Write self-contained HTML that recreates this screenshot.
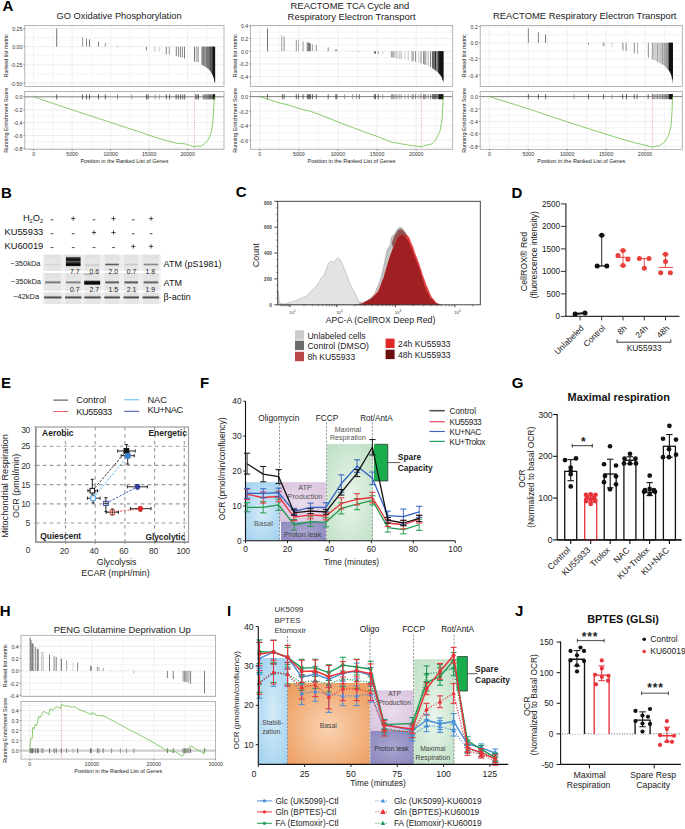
<!DOCTYPE html>
<html><head><meta charset="utf-8"><style>
html,body{margin:0;padding:0;background:#fff;}
svg{display:block;font-family:"Liberation Sans", sans-serif;}
</style></head><body>
<svg width="685" height="829" viewBox="0 0 685 829">
<rect width="685" height="829" fill="#fff"/>
<line x1="24.80" y1="37.60" x2="224.00" y2="37.60" stroke="#ebebeb" stroke-width="0.5"/>
<line x1="24.80" y1="55.80" x2="224.00" y2="55.80" stroke="#ebebeb" stroke-width="0.5"/>
<line x1="24.80" y1="74.00" x2="224.00" y2="74.00" stroke="#ebebeb" stroke-width="0.5"/>
<line x1="24.80" y1="28.50" x2="224.00" y2="28.50" stroke="#ebebeb" stroke-width="0.8"/>
<line x1="24.80" y1="46.70" x2="224.00" y2="46.70" stroke="#ebebeb" stroke-width="0.8"/>
<line x1="24.80" y1="64.90" x2="224.00" y2="64.90" stroke="#ebebeb" stroke-width="0.8"/>
<line x1="24.80" y1="83.10" x2="224.00" y2="83.10" stroke="#ebebeb" stroke-width="0.8"/>
<line x1="52.85" y1="25.40" x2="52.85" y2="86.40" stroke="#ebebeb" stroke-width="0.5"/>
<line x1="91.35" y1="25.40" x2="91.35" y2="86.40" stroke="#ebebeb" stroke-width="0.5"/>
<line x1="129.85" y1="25.40" x2="129.85" y2="86.40" stroke="#ebebeb" stroke-width="0.5"/>
<line x1="168.35" y1="25.40" x2="168.35" y2="86.40" stroke="#ebebeb" stroke-width="0.5"/>
<line x1="206.85" y1="25.40" x2="206.85" y2="86.40" stroke="#ebebeb" stroke-width="0.5"/>
<line x1="33.60" y1="25.40" x2="33.60" y2="86.40" stroke="#ebebeb" stroke-width="0.8"/>
<line x1="72.10" y1="25.40" x2="72.10" y2="86.40" stroke="#ebebeb" stroke-width="0.8"/>
<line x1="110.60" y1="25.40" x2="110.60" y2="86.40" stroke="#ebebeb" stroke-width="0.8"/>
<line x1="149.10" y1="25.40" x2="149.10" y2="86.40" stroke="#ebebeb" stroke-width="0.8"/>
<line x1="187.60" y1="25.40" x2="187.60" y2="86.40" stroke="#ebebeb" stroke-width="0.8"/>
<line x1="24.80" y1="103.25" x2="224.00" y2="103.25" stroke="#ebebeb" stroke-width="0.5"/>
<line x1="24.80" y1="116.15" x2="224.00" y2="116.15" stroke="#ebebeb" stroke-width="0.5"/>
<line x1="24.80" y1="129.05" x2="224.00" y2="129.05" stroke="#ebebeb" stroke-width="0.5"/>
<line x1="24.80" y1="141.95" x2="224.00" y2="141.95" stroke="#ebebeb" stroke-width="0.5"/>
<line x1="24.80" y1="96.80" x2="224.00" y2="96.80" stroke="#ebebeb" stroke-width="0.8"/>
<line x1="24.80" y1="109.70" x2="224.00" y2="109.70" stroke="#ebebeb" stroke-width="0.8"/>
<line x1="24.80" y1="122.60" x2="224.00" y2="122.60" stroke="#ebebeb" stroke-width="0.8"/>
<line x1="24.80" y1="135.50" x2="224.00" y2="135.50" stroke="#ebebeb" stroke-width="0.8"/>
<line x1="24.80" y1="148.40" x2="224.00" y2="148.40" stroke="#ebebeb" stroke-width="0.8"/>
<line x1="52.85" y1="91.40" x2="52.85" y2="149.30" stroke="#ebebeb" stroke-width="0.5"/>
<line x1="91.35" y1="91.40" x2="91.35" y2="149.30" stroke="#ebebeb" stroke-width="0.5"/>
<line x1="129.85" y1="91.40" x2="129.85" y2="149.30" stroke="#ebebeb" stroke-width="0.5"/>
<line x1="168.35" y1="91.40" x2="168.35" y2="149.30" stroke="#ebebeb" stroke-width="0.5"/>
<line x1="206.85" y1="91.40" x2="206.85" y2="149.30" stroke="#ebebeb" stroke-width="0.5"/>
<line x1="33.60" y1="91.40" x2="33.60" y2="149.30" stroke="#ebebeb" stroke-width="0.8"/>
<line x1="72.10" y1="91.40" x2="72.10" y2="149.30" stroke="#ebebeb" stroke-width="0.8"/>
<line x1="110.60" y1="91.40" x2="110.60" y2="149.30" stroke="#ebebeb" stroke-width="0.8"/>
<line x1="149.10" y1="91.40" x2="149.10" y2="149.30" stroke="#ebebeb" stroke-width="0.8"/>
<line x1="187.60" y1="91.40" x2="187.60" y2="149.30" stroke="#ebebeb" stroke-width="0.8"/>
<polygon points="202.80,46.70 202.80,65.26 203.00,65.48 206.00,67.01 208.00,68.54 210.00,70.51 210.00,46.70" fill="#9a9a9a"/>
<polygon points="210.00,46.70 210.00,70.51 212.00,74.00 213.00,75.99 213.00,46.70" fill="#5a5a5a"/>
<polygon points="213.00,46.70 213.00,75.99 213.50,76.98 214.30,80.19 214.90,83.10 214.90,46.70" fill="#111"/>
<line x1="56.70" y1="46.70" x2="56.70" y2="28.50" stroke="#444" stroke-width="0.75"/>
<line x1="82.60" y1="46.70" x2="82.60" y2="37.24" stroke="#777" stroke-width="0.75"/>
<line x1="86.50" y1="46.70" x2="86.50" y2="38.69" stroke="#666" stroke-width="0.75"/>
<line x1="89.50" y1="46.70" x2="89.50" y2="39.42" stroke="#444" stroke-width="0.75"/>
<line x1="98.50" y1="46.70" x2="98.50" y2="41.60" stroke="#555" stroke-width="0.75"/>
<line x1="105.30" y1="46.70" x2="105.30" y2="43.06" stroke="#777" stroke-width="0.75"/>
<line x1="117.50" y1="46.70" x2="117.50" y2="45.83" stroke="#555" stroke-width="0.75"/>
<line x1="131.80" y1="46.70" x2="131.80" y2="46.26" stroke="#aaa" stroke-width="0.75"/>
<line x1="146.40" y1="46.70" x2="146.40" y2="50.34" stroke="#555" stroke-width="0.75"/>
<line x1="154.80" y1="46.70" x2="154.80" y2="51.80" stroke="#aaa" stroke-width="0.75"/>
<line x1="159.10" y1="46.70" x2="159.10" y2="51.80" stroke="#bbb" stroke-width="0.75"/>
<line x1="166.30" y1="46.70" x2="166.30" y2="54.49" stroke="#555" stroke-width="0.75"/>
<line x1="169.40" y1="46.70" x2="169.40" y2="54.49" stroke="#777" stroke-width="0.75"/>
<line x1="176.30" y1="46.70" x2="176.30" y2="56.02" stroke="#555" stroke-width="0.75"/>
<line x1="178.40" y1="46.70" x2="178.40" y2="56.53" stroke="#666" stroke-width="0.75"/>
<line x1="180.40" y1="46.70" x2="180.40" y2="57.04" stroke="#555" stroke-width="0.75"/>
<line x1="182.40" y1="46.70" x2="182.40" y2="57.62" stroke="#666" stroke-width="0.75"/>
<line x1="184.50" y1="46.70" x2="184.50" y2="58.49" stroke="#555" stroke-width="0.75"/>
<line x1="194.50" y1="46.70" x2="194.50" y2="61.70" stroke="#444" stroke-width="0.75"/>
<line x1="196.30" y1="46.70" x2="196.30" y2="61.99" stroke="#999" stroke-width="0.75"/>
<line x1="197.30" y1="46.70" x2="197.30" y2="62.13" stroke="#999" stroke-width="0.75"/>
<line x1="198.50" y1="46.70" x2="198.50" y2="62.35" stroke="#999" stroke-width="0.75"/>
<line x1="202.10" y1="46.70" x2="202.10" y2="64.83" stroke="#222" stroke-width="0.75"/>
<line x1="203.20" y1="46.70" x2="203.20" y2="65.58" stroke="#777" stroke-width="0.75"/>
<line x1="204.20" y1="46.70" x2="204.20" y2="66.10" stroke="#777" stroke-width="0.75"/>
<line x1="205.08" y1="46.70" x2="205.08" y2="66.54" stroke="#999" stroke-width="0.75"/>
<line x1="206.01" y1="46.70" x2="206.01" y2="67.02" stroke="#999" stroke-width="0.75"/>
<line x1="206.72" y1="46.70" x2="206.72" y2="67.56" stroke="#666" stroke-width="0.75"/>
<line x1="207.90" y1="46.70" x2="207.90" y2="68.46" stroke="#555" stroke-width="0.75"/>
<line x1="208.71" y1="46.70" x2="208.71" y2="69.24" stroke="#777" stroke-width="0.75"/>
<line x1="209.49" y1="46.70" x2="209.49" y2="70.00" stroke="#555" stroke-width="0.75"/>
<line x1="210.46" y1="46.70" x2="210.46" y2="71.31" stroke="#555" stroke-width="0.75"/>
<line x1="211.40" y1="46.70" x2="211.40" y2="72.95" stroke="#555" stroke-width="0.75"/>
<line x1="212.55" y1="46.70" x2="212.55" y2="75.10" stroke="#333" stroke-width="0.75"/>
<line x1="213.58" y1="46.70" x2="213.58" y2="77.30" stroke="#111" stroke-width="0.75"/>
<line x1="214.74" y1="46.70" x2="214.74" y2="82.32" stroke="#111" stroke-width="0.75"/>
<line x1="24.80" y1="96.80" x2="224.00" y2="96.80" stroke="#555" stroke-width="0.7"/>
<line x1="56.70" y1="94.30" x2="56.70" y2="99.40" stroke="#242424" stroke-width="0.7"/>
<line x1="82.60" y1="94.30" x2="82.60" y2="99.40" stroke="#242424" stroke-width="0.7"/>
<line x1="86.50" y1="94.30" x2="86.50" y2="99.40" stroke="#242424" stroke-width="0.7"/>
<line x1="89.50" y1="94.30" x2="89.50" y2="99.40" stroke="#242424" stroke-width="0.7"/>
<line x1="98.50" y1="94.30" x2="98.50" y2="99.40" stroke="#242424" stroke-width="0.7"/>
<line x1="105.30" y1="94.30" x2="105.30" y2="99.40" stroke="#242424" stroke-width="0.7"/>
<line x1="146.60" y1="94.30" x2="146.60" y2="99.40" stroke="#242424" stroke-width="0.7"/>
<line x1="148.10" y1="94.30" x2="148.10" y2="99.40" stroke="#242424" stroke-width="0.7"/>
<line x1="166.30" y1="94.30" x2="166.30" y2="99.40" stroke="#242424" stroke-width="0.7"/>
<line x1="169.60" y1="94.30" x2="169.60" y2="99.40" stroke="#242424" stroke-width="0.7"/>
<line x1="176.10" y1="94.30" x2="176.10" y2="99.40" stroke="#242424" stroke-width="0.7"/>
<line x1="178.20" y1="94.30" x2="178.20" y2="99.40" stroke="#242424" stroke-width="0.7"/>
<line x1="180.50" y1="94.30" x2="180.50" y2="99.40" stroke="#242424" stroke-width="0.7"/>
<line x1="182.80" y1="94.30" x2="182.80" y2="99.40" stroke="#242424" stroke-width="0.7"/>
<line x1="184.70" y1="94.30" x2="184.70" y2="99.40" stroke="#242424" stroke-width="0.7"/>
<line x1="195.80" y1="94.30" x2="195.80" y2="99.40" stroke="#242424" stroke-width="0.7"/>
<line x1="197.00" y1="94.30" x2="197.00" y2="99.40" stroke="#242424" stroke-width="0.7"/>
<line x1="198.50" y1="94.30" x2="198.50" y2="99.40" stroke="#242424" stroke-width="0.7"/>
<line x1="117.50" y1="94.30" x2="117.50" y2="99.40" stroke="#616161" stroke-width="0.7"/>
<line x1="131.80" y1="94.30" x2="131.80" y2="99.40" stroke="#868686" stroke-width="0.7"/>
<line x1="155.10" y1="94.30" x2="155.10" y2="99.40" stroke="#7a7a7a" stroke-width="0.7"/>
<line x1="159.40" y1="94.30" x2="159.40" y2="99.40" stroke="#868686" stroke-width="0.7"/>
<line x1="203.20" y1="94.30" x2="203.20" y2="99.40" stroke="#555555" stroke-width="0.7"/>
<line x1="204.20" y1="94.30" x2="204.20" y2="99.40" stroke="#555555" stroke-width="0.7"/>
<line x1="205.08" y1="94.30" x2="205.08" y2="99.40" stroke="#6e6e6e" stroke-width="0.7"/>
<line x1="206.01" y1="94.30" x2="206.01" y2="99.40" stroke="#6e6e6e" stroke-width="0.7"/>
<line x1="206.72" y1="94.30" x2="206.72" y2="99.40" stroke="#494949" stroke-width="0.7"/>
<line x1="207.90" y1="94.30" x2="207.90" y2="99.40" stroke="#3d3d3d" stroke-width="0.7"/>
<line x1="208.71" y1="94.30" x2="208.71" y2="99.40" stroke="#555555" stroke-width="0.7"/>
<line x1="209.49" y1="94.30" x2="209.49" y2="99.40" stroke="#3d3d3d" stroke-width="0.7"/>
<line x1="210.46" y1="94.30" x2="210.46" y2="99.40" stroke="#3d3d3d" stroke-width="0.7"/>
<line x1="211.40" y1="94.30" x2="211.40" y2="99.40" stroke="#3d3d3d" stroke-width="0.7"/>
<line x1="212.55" y1="94.30" x2="212.55" y2="99.40" stroke="#242424" stroke-width="0.7"/>
<line x1="213.58" y1="94.30" x2="213.58" y2="99.40" stroke="#0c0c0c" stroke-width="0.7"/>
<line x1="214.74" y1="94.30" x2="214.74" y2="99.40" stroke="#0c0c0c" stroke-width="0.7"/>
<rect x="213.00" y="94.30" width="1.90" height="5.10" fill="#111" stroke="none" stroke-width="1"/>
<line x1="194.50" y1="91.40" x2="194.50" y2="149.30" stroke="#e8827a" stroke-width="0.6" stroke-dasharray="1.2,1"/>
<polyline points="33.60,96.80 56.40,104.54 72.50,110.02 91.50,116.15 115.00,123.89 140.00,132.02 153.10,136.60 166.30,140.60 176.80,143.24 184.70,143.82 194.10,146.72 197.80,145.82 200.70,146.53 204.40,143.82 208.30,139.89 211.60,131.37 212.90,120.79 213.80,107.70 214.50,96.80" fill="none" stroke="#6bbf4a" stroke-width="0.8" stroke-linejoin="round"/>
<rect x="24.80" y="25.40" width="199.20" height="61.00" fill="none" stroke="#a3a3a3" stroke-width="0.8"/>
<rect x="24.80" y="91.40" width="199.20" height="57.90" fill="none" stroke="#a3a3a3" stroke-width="0.8"/>
<line x1="23.30" y1="28.50" x2="24.80" y2="28.50" stroke="#444" stroke-width="0.5"/>
<text x="22.40" y="31.07" font-size="5.2" text-anchor="end" fill="#333">0.25</text>
<line x1="23.30" y1="46.70" x2="24.80" y2="46.70" stroke="#444" stroke-width="0.5"/>
<text x="22.40" y="49.27" font-size="5.2" text-anchor="end" fill="#333">0.00</text>
<line x1="23.30" y1="64.90" x2="24.80" y2="64.90" stroke="#444" stroke-width="0.5"/>
<text x="22.40" y="67.47" font-size="5.2" text-anchor="end" fill="#333">-0.25</text>
<line x1="23.30" y1="83.10" x2="24.80" y2="83.10" stroke="#444" stroke-width="0.5"/>
<text x="22.40" y="85.67" font-size="5.2" text-anchor="end" fill="#333">-0.50</text>
<line x1="23.30" y1="96.80" x2="24.80" y2="96.80" stroke="#444" stroke-width="0.5"/>
<text x="22.40" y="99.37" font-size="5.2" text-anchor="end" fill="#333">0.0</text>
<line x1="23.30" y1="109.70" x2="24.80" y2="109.70" stroke="#444" stroke-width="0.5"/>
<text x="22.40" y="112.27" font-size="5.2" text-anchor="end" fill="#333">-0.2</text>
<line x1="23.30" y1="122.60" x2="24.80" y2="122.60" stroke="#444" stroke-width="0.5"/>
<text x="22.40" y="125.17" font-size="5.2" text-anchor="end" fill="#333">-0.4</text>
<line x1="23.30" y1="135.50" x2="24.80" y2="135.50" stroke="#444" stroke-width="0.5"/>
<text x="22.40" y="138.07" font-size="5.2" text-anchor="end" fill="#333">-0.6</text>
<line x1="23.30" y1="148.40" x2="24.80" y2="148.40" stroke="#444" stroke-width="0.5"/>
<text x="22.40" y="150.97" font-size="5.2" text-anchor="end" fill="#333">-0.8</text>
<line x1="33.60" y1="149.30" x2="33.60" y2="150.80" stroke="#444" stroke-width="0.5"/>
<text x="33.60" y="156.00" font-size="5.2" text-anchor="middle" fill="#333">0</text>
<line x1="72.10" y1="149.30" x2="72.10" y2="150.80" stroke="#444" stroke-width="0.5"/>
<text x="72.10" y="156.00" font-size="5.2" text-anchor="middle" fill="#333">5000</text>
<line x1="110.60" y1="149.30" x2="110.60" y2="150.80" stroke="#444" stroke-width="0.5"/>
<text x="110.60" y="156.00" font-size="5.2" text-anchor="middle" fill="#333">10000</text>
<line x1="149.10" y1="149.30" x2="149.10" y2="150.80" stroke="#444" stroke-width="0.5"/>
<text x="149.10" y="156.00" font-size="5.2" text-anchor="middle" fill="#333">15000</text>
<line x1="187.60" y1="149.30" x2="187.60" y2="150.80" stroke="#444" stroke-width="0.5"/>
<text x="187.60" y="156.00" font-size="5.2" text-anchor="middle" fill="#333">20000</text>
<text x="124.40" y="162.80" font-size="5.45" text-anchor="middle" fill="#222">Position in the Ranked List of Genes</text>
<text x="8.20" y="55.90" font-size="5.45" text-anchor="middle" fill="#222" transform="rotate(-90 8.20 55.90)">Ranked list metric</text>
<text x="8.20" y="120.35" font-size="5.45" text-anchor="middle" fill="#222" transform="rotate(-90 8.20 120.35)">Running Enrichment Score</text>
<text x="119.05" y="19.25" font-size="9.3" text-anchor="middle" fill="#222">GO Oxidative Phosphorylation</text>
<line x1="250.50" y1="32.15" x2="452.70" y2="32.15" stroke="#ebebeb" stroke-width="0.5"/>
<line x1="250.50" y1="44.85" x2="452.70" y2="44.85" stroke="#ebebeb" stroke-width="0.5"/>
<line x1="250.50" y1="57.55" x2="452.70" y2="57.55" stroke="#ebebeb" stroke-width="0.5"/>
<line x1="250.50" y1="70.25" x2="452.70" y2="70.25" stroke="#ebebeb" stroke-width="0.5"/>
<line x1="250.50" y1="82.95" x2="452.70" y2="82.95" stroke="#ebebeb" stroke-width="0.5"/>
<line x1="250.50" y1="25.80" x2="452.70" y2="25.80" stroke="#ebebeb" stroke-width="0.8"/>
<line x1="250.50" y1="38.50" x2="452.70" y2="38.50" stroke="#ebebeb" stroke-width="0.8"/>
<line x1="250.50" y1="51.20" x2="452.70" y2="51.20" stroke="#ebebeb" stroke-width="0.8"/>
<line x1="250.50" y1="63.90" x2="452.70" y2="63.90" stroke="#ebebeb" stroke-width="0.8"/>
<line x1="250.50" y1="76.60" x2="452.70" y2="76.60" stroke="#ebebeb" stroke-width="0.8"/>
<line x1="279.26" y1="25.40" x2="279.26" y2="86.40" stroke="#ebebeb" stroke-width="0.5"/>
<line x1="318.39" y1="25.40" x2="318.39" y2="86.40" stroke="#ebebeb" stroke-width="0.5"/>
<line x1="357.51" y1="25.40" x2="357.51" y2="86.40" stroke="#ebebeb" stroke-width="0.5"/>
<line x1="396.64" y1="25.40" x2="396.64" y2="86.40" stroke="#ebebeb" stroke-width="0.5"/>
<line x1="435.76" y1="25.40" x2="435.76" y2="86.40" stroke="#ebebeb" stroke-width="0.5"/>
<line x1="259.70" y1="25.40" x2="259.70" y2="86.40" stroke="#ebebeb" stroke-width="0.8"/>
<line x1="298.82" y1="25.40" x2="298.82" y2="86.40" stroke="#ebebeb" stroke-width="0.8"/>
<line x1="337.95" y1="25.40" x2="337.95" y2="86.40" stroke="#ebebeb" stroke-width="0.8"/>
<line x1="377.07" y1="25.40" x2="377.07" y2="86.40" stroke="#ebebeb" stroke-width="0.8"/>
<line x1="416.20" y1="25.40" x2="416.20" y2="86.40" stroke="#ebebeb" stroke-width="0.8"/>
<line x1="250.50" y1="103.86" x2="452.70" y2="103.86" stroke="#ebebeb" stroke-width="0.5"/>
<line x1="250.50" y1="118.38" x2="452.70" y2="118.38" stroke="#ebebeb" stroke-width="0.5"/>
<line x1="250.50" y1="132.90" x2="452.70" y2="132.90" stroke="#ebebeb" stroke-width="0.5"/>
<line x1="250.50" y1="147.42" x2="452.70" y2="147.42" stroke="#ebebeb" stroke-width="0.5"/>
<line x1="250.50" y1="96.60" x2="452.70" y2="96.60" stroke="#ebebeb" stroke-width="0.8"/>
<line x1="250.50" y1="111.12" x2="452.70" y2="111.12" stroke="#ebebeb" stroke-width="0.8"/>
<line x1="250.50" y1="125.64" x2="452.70" y2="125.64" stroke="#ebebeb" stroke-width="0.8"/>
<line x1="250.50" y1="140.16" x2="452.70" y2="140.16" stroke="#ebebeb" stroke-width="0.8"/>
<line x1="279.26" y1="91.40" x2="279.26" y2="149.30" stroke="#ebebeb" stroke-width="0.5"/>
<line x1="318.39" y1="91.40" x2="318.39" y2="149.30" stroke="#ebebeb" stroke-width="0.5"/>
<line x1="357.51" y1="91.40" x2="357.51" y2="149.30" stroke="#ebebeb" stroke-width="0.5"/>
<line x1="396.64" y1="91.40" x2="396.64" y2="149.30" stroke="#ebebeb" stroke-width="0.5"/>
<line x1="435.76" y1="91.40" x2="435.76" y2="149.30" stroke="#ebebeb" stroke-width="0.5"/>
<line x1="259.70" y1="91.40" x2="259.70" y2="149.30" stroke="#ebebeb" stroke-width="0.8"/>
<line x1="298.82" y1="91.40" x2="298.82" y2="149.30" stroke="#ebebeb" stroke-width="0.8"/>
<line x1="337.95" y1="91.40" x2="337.95" y2="149.30" stroke="#ebebeb" stroke-width="0.8"/>
<line x1="377.07" y1="91.40" x2="377.07" y2="149.30" stroke="#ebebeb" stroke-width="0.8"/>
<line x1="416.20" y1="91.40" x2="416.20" y2="149.30" stroke="#ebebeb" stroke-width="0.8"/>
<polygon points="438.60,51.20 438.60,72.97 439.10,73.42 441.00,75.65 441.90,77.23 442.80,79.78 443.40,82.95 443.40,51.20" fill="#151515"/>
<line x1="267.50" y1="51.20" x2="267.50" y2="28.34" stroke="#444" stroke-width="0.75"/>
<line x1="281.70" y1="51.20" x2="281.70" y2="35.33" stroke="#888" stroke-width="0.75"/>
<line x1="284.10" y1="51.20" x2="284.10" y2="36.59" stroke="#666" stroke-width="0.75"/>
<line x1="296.30" y1="51.20" x2="296.30" y2="39.77" stroke="#777" stroke-width="0.75"/>
<line x1="298.40" y1="51.20" x2="298.40" y2="39.77" stroke="#999" stroke-width="0.75"/>
<line x1="303.10" y1="51.20" x2="303.10" y2="41.36" stroke="#777" stroke-width="0.75"/>
<line x1="307.30" y1="51.20" x2="307.30" y2="42.31" stroke="#444" stroke-width="0.75"/>
<line x1="308.50" y1="51.20" x2="308.50" y2="42.63" stroke="#555" stroke-width="0.75"/>
<line x1="309.60" y1="51.20" x2="309.60" y2="42.95" stroke="#333" stroke-width="0.75"/>
<line x1="310.60" y1="51.20" x2="310.60" y2="43.58" stroke="#666" stroke-width="0.75"/>
<line x1="312.60" y1="51.20" x2="312.60" y2="44.22" stroke="#888" stroke-width="0.75"/>
<line x1="316.20" y1="51.20" x2="316.20" y2="44.85" stroke="#666" stroke-width="0.75"/>
<line x1="328.20" y1="51.20" x2="328.20" y2="47.39" stroke="#666" stroke-width="0.75"/>
<line x1="335.80" y1="51.20" x2="335.80" y2="49.30" stroke="#555" stroke-width="0.75"/>
<line x1="336.80" y1="51.20" x2="336.80" y2="49.61" stroke="#777" stroke-width="0.75"/>
<line x1="344.70" y1="51.20" x2="344.70" y2="50.88" stroke="#999" stroke-width="0.75"/>
<line x1="352.60" y1="51.20" x2="352.60" y2="50.88" stroke="#999" stroke-width="0.75"/>
<line x1="356.50" y1="51.20" x2="356.50" y2="50.95" stroke="#999" stroke-width="0.75"/>
<line x1="359.30" y1="51.20" x2="359.30" y2="51.84" stroke="#777" stroke-width="0.75"/>
<line x1="374.40" y1="51.20" x2="374.40" y2="53.74" stroke="#555" stroke-width="0.75"/>
<line x1="375.50" y1="51.20" x2="375.50" y2="53.74" stroke="#333" stroke-width="0.75"/>
<line x1="378.30" y1="51.20" x2="378.30" y2="54.06" stroke="#777" stroke-width="0.75"/>
<line x1="382.80" y1="51.20" x2="382.80" y2="54.38" stroke="#bbb" stroke-width="0.75"/>
<line x1="391.40" y1="51.20" x2="391.40" y2="57.33" stroke="#9a9a9a" stroke-width="1.0"/>
<line x1="392.60" y1="51.20" x2="392.60" y2="57.56" stroke="#aaa" stroke-width="1.0"/>
<line x1="393.80" y1="51.20" x2="393.80" y2="57.78" stroke="#999" stroke-width="1.0"/>
<line x1="395.00" y1="51.20" x2="395.00" y2="58.00" stroke="#aaa" stroke-width="0.8"/>
<line x1="396.90" y1="51.20" x2="396.90" y2="58.36" stroke="#999" stroke-width="0.8"/>
<line x1="399.20" y1="51.20" x2="399.20" y2="58.79" stroke="#aaa" stroke-width="0.8"/>
<line x1="401.10" y1="51.20" x2="401.10" y2="59.16" stroke="#999" stroke-width="0.8"/>
<line x1="404.90" y1="51.20" x2="404.90" y2="59.86" stroke="#ccc" stroke-width="0.9"/>
<line x1="408.20" y1="51.20" x2="408.20" y2="60.42" stroke="#aaa" stroke-width="0.8"/>
<line x1="412.10" y1="51.20" x2="412.10" y2="61.15" stroke="#888" stroke-width="0.9"/>
<line x1="413.30" y1="51.20" x2="413.30" y2="61.39" stroke="#999" stroke-width="0.9"/>
<line x1="415.60" y1="51.20" x2="415.60" y2="61.85" stroke="#777" stroke-width="0.9"/>
<line x1="418.70" y1="51.20" x2="418.70" y2="62.66" stroke="#ccc" stroke-width="0.9"/>
<line x1="421.00" y1="51.20" x2="421.00" y2="63.30" stroke="#777" stroke-width="0.9"/>
<line x1="423.50" y1="51.20" x2="423.50" y2="64.13" stroke="#888" stroke-width="0.9"/>
<line x1="424.60" y1="51.20" x2="424.60" y2="64.54" stroke="#999" stroke-width="0.9"/>
<line x1="425.80" y1="51.20" x2="425.80" y2="64.98" stroke="#888" stroke-width="0.9"/>
<line x1="428.20" y1="51.20" x2="428.20" y2="66.01" stroke="#aaa" stroke-width="0.9"/>
<line x1="430.60" y1="51.20" x2="430.60" y2="67.20" stroke="#666" stroke-width="0.9"/>
<line x1="432.50" y1="51.20" x2="432.50" y2="68.37" stroke="#555" stroke-width="0.9"/>
<line x1="433.60" y1="51.20" x2="433.60" y2="69.09" stroke="#444" stroke-width="0.9"/>
<line x1="434.40" y1="51.20" x2="434.40" y2="69.62" stroke="#555" stroke-width="0.8"/>
<line x1="435.40" y1="51.20" x2="435.40" y2="70.35" stroke="#111" stroke-width="1.0"/>
<line x1="436.70" y1="51.20" x2="436.70" y2="71.30" stroke="#666" stroke-width="0.9"/>
<line x1="437.70" y1="51.20" x2="437.70" y2="72.15" stroke="#555" stroke-width="0.9"/>
<line x1="438.80" y1="51.20" x2="438.80" y2="73.15" stroke="#111" stroke-width="1.0"/>
<line x1="439.90" y1="51.20" x2="439.90" y2="74.36" stroke="#222" stroke-width="1.0"/>
<line x1="441.00" y1="51.20" x2="441.00" y2="75.65" stroke="#111" stroke-width="1.0"/>
<line x1="442.00" y1="51.20" x2="442.00" y2="77.52" stroke="#111" stroke-width="1.0"/>
<line x1="442.90" y1="51.20" x2="442.90" y2="80.30" stroke="#111" stroke-width="1.0"/>
<line x1="250.50" y1="96.60" x2="452.70" y2="96.60" stroke="#555" stroke-width="0.7"/>
<line x1="267.50" y1="94.10" x2="267.50" y2="99.20" stroke="#303030" stroke-width="0.7"/>
<line x1="282.40" y1="94.10" x2="282.40" y2="99.20" stroke="#303030" stroke-width="0.7"/>
<line x1="284.10" y1="94.10" x2="284.10" y2="99.20" stroke="#303030" stroke-width="0.7"/>
<line x1="296.30" y1="94.10" x2="296.30" y2="99.20" stroke="#303030" stroke-width="0.7"/>
<line x1="298.40" y1="94.10" x2="298.40" y2="99.20" stroke="#303030" stroke-width="0.7"/>
<line x1="303.10" y1="94.10" x2="303.10" y2="99.20" stroke="#303030" stroke-width="0.7"/>
<line x1="307.30" y1="94.10" x2="307.30" y2="99.20" stroke="#303030" stroke-width="0.7"/>
<line x1="308.50" y1="94.10" x2="308.50" y2="99.20" stroke="#303030" stroke-width="0.7"/>
<line x1="309.60" y1="94.10" x2="309.60" y2="99.20" stroke="#303030" stroke-width="0.7"/>
<line x1="310.60" y1="94.10" x2="310.60" y2="99.20" stroke="#303030" stroke-width="0.7"/>
<line x1="312.60" y1="94.10" x2="312.60" y2="99.20" stroke="#303030" stroke-width="0.7"/>
<line x1="316.20" y1="94.10" x2="316.20" y2="99.20" stroke="#303030" stroke-width="0.7"/>
<line x1="328.20" y1="94.10" x2="328.20" y2="99.20" stroke="#303030" stroke-width="0.7"/>
<line x1="335.80" y1="94.10" x2="335.80" y2="99.20" stroke="#303030" stroke-width="0.7"/>
<line x1="336.80" y1="94.10" x2="336.80" y2="99.20" stroke="#303030" stroke-width="0.7"/>
<line x1="359.30" y1="94.10" x2="359.30" y2="99.20" stroke="#303030" stroke-width="0.7"/>
<line x1="374.40" y1="94.10" x2="374.40" y2="99.20" stroke="#303030" stroke-width="0.7"/>
<line x1="375.50" y1="94.10" x2="375.50" y2="99.20" stroke="#303030" stroke-width="0.7"/>
<line x1="378.30" y1="94.10" x2="378.30" y2="99.20" stroke="#303030" stroke-width="0.7"/>
<line x1="344.70" y1="94.10" x2="344.70" y2="99.20" stroke="#7a7a7a" stroke-width="0.7"/>
<line x1="352.60" y1="94.10" x2="352.60" y2="99.20" stroke="#7a7a7a" stroke-width="0.7"/>
<line x1="356.50" y1="94.10" x2="356.50" y2="99.20" stroke="#7a7a7a" stroke-width="0.7"/>
<line x1="382.70" y1="94.10" x2="382.70" y2="99.20" stroke="#868686" stroke-width="0.7"/>
<line x1="391.40" y1="94.10" x2="391.40" y2="99.20" stroke="#6e6e6e" stroke-width="0.7"/>
<line x1="392.60" y1="94.10" x2="392.60" y2="99.20" stroke="#7a7a7a" stroke-width="0.7"/>
<line x1="393.80" y1="94.10" x2="393.80" y2="99.20" stroke="#6e6e6e" stroke-width="0.7"/>
<line x1="395.00" y1="94.10" x2="395.00" y2="99.20" stroke="#7a7a7a" stroke-width="0.7"/>
<line x1="396.90" y1="94.10" x2="396.90" y2="99.20" stroke="#6e6e6e" stroke-width="0.7"/>
<line x1="399.20" y1="94.10" x2="399.20" y2="99.20" stroke="#7a7a7a" stroke-width="0.7"/>
<line x1="401.10" y1="94.10" x2="401.10" y2="99.20" stroke="#6e6e6e" stroke-width="0.7"/>
<line x1="404.90" y1="94.10" x2="404.90" y2="99.20" stroke="#929292" stroke-width="0.7"/>
<line x1="408.20" y1="94.10" x2="408.20" y2="99.20" stroke="#7a7a7a" stroke-width="0.7"/>
<line x1="412.10" y1="94.10" x2="412.10" y2="99.20" stroke="#616161" stroke-width="0.7"/>
<line x1="413.30" y1="94.10" x2="413.30" y2="99.20" stroke="#6e6e6e" stroke-width="0.7"/>
<line x1="415.60" y1="94.10" x2="415.60" y2="99.20" stroke="#555555" stroke-width="0.7"/>
<line x1="418.70" y1="94.10" x2="418.70" y2="99.20" stroke="#929292" stroke-width="0.7"/>
<line x1="421.00" y1="94.10" x2="421.00" y2="99.20" stroke="#555555" stroke-width="0.7"/>
<line x1="423.50" y1="94.10" x2="423.50" y2="99.20" stroke="#616161" stroke-width="0.7"/>
<line x1="424.60" y1="94.10" x2="424.60" y2="99.20" stroke="#6e6e6e" stroke-width="0.7"/>
<line x1="425.80" y1="94.10" x2="425.80" y2="99.20" stroke="#616161" stroke-width="0.7"/>
<line x1="428.20" y1="94.10" x2="428.20" y2="99.20" stroke="#7a7a7a" stroke-width="0.7"/>
<line x1="430.60" y1="94.10" x2="430.60" y2="99.20" stroke="#494949" stroke-width="0.7"/>
<line x1="432.50" y1="94.10" x2="432.50" y2="99.20" stroke="#3d3d3d" stroke-width="0.7"/>
<line x1="433.60" y1="94.10" x2="433.60" y2="99.20" stroke="#303030" stroke-width="0.7"/>
<line x1="434.40" y1="94.10" x2="434.40" y2="99.20" stroke="#3d3d3d" stroke-width="0.7"/>
<line x1="435.40" y1="94.10" x2="435.40" y2="99.20" stroke="#0c0c0c" stroke-width="0.7"/>
<line x1="436.70" y1="94.10" x2="436.70" y2="99.20" stroke="#494949" stroke-width="0.7"/>
<line x1="437.70" y1="94.10" x2="437.70" y2="99.20" stroke="#3d3d3d" stroke-width="0.7"/>
<line x1="438.80" y1="94.10" x2="438.80" y2="99.20" stroke="#0c0c0c" stroke-width="0.7"/>
<line x1="439.90" y1="94.10" x2="439.90" y2="99.20" stroke="#181818" stroke-width="0.7"/>
<line x1="441.00" y1="94.10" x2="441.00" y2="99.20" stroke="#0c0c0c" stroke-width="0.7"/>
<line x1="442.00" y1="94.10" x2="442.00" y2="99.20" stroke="#0c0c0c" stroke-width="0.7"/>
<line x1="442.90" y1="94.10" x2="442.90" y2="99.20" stroke="#0c0c0c" stroke-width="0.7"/>
<rect x="438.60" y="94.10" width="4.70" height="5.10" fill="#1a1a1a" stroke="none" stroke-width="1"/>
<line x1="421.40" y1="91.40" x2="421.40" y2="149.30" stroke="#e8827a" stroke-width="0.6" stroke-dasharray="1.2,1"/>
<polyline points="259.70,96.60 267.50,99.14 281.60,103.50 284.00,103.86 287.00,104.59 296.00,107.49 303.00,109.67 310.00,111.12 320.00,114.75 340.00,122.74 365.00,132.17 378.10,136.75 391.30,142.05 401.80,143.94 412.30,145.68 421.50,146.69 426.80,144.95 432.00,143.94 436.00,139.43 439.90,131.45 441.90,120.92 443.20,99.50 443.50,96.60" fill="none" stroke="#6bbf4a" stroke-width="0.8" stroke-linejoin="round"/>
<rect x="250.50" y="25.40" width="202.20" height="61.00" fill="none" stroke="#a3a3a3" stroke-width="0.8"/>
<rect x="250.50" y="91.40" width="202.20" height="57.90" fill="none" stroke="#a3a3a3" stroke-width="0.8"/>
<line x1="249.00" y1="25.80" x2="250.50" y2="25.80" stroke="#444" stroke-width="0.5"/>
<text x="248.10" y="28.37" font-size="5.2" text-anchor="end" fill="#333">0.4</text>
<line x1="249.00" y1="38.50" x2="250.50" y2="38.50" stroke="#444" stroke-width="0.5"/>
<text x="248.10" y="41.07" font-size="5.2" text-anchor="end" fill="#333">0.2</text>
<line x1="249.00" y1="51.20" x2="250.50" y2="51.20" stroke="#444" stroke-width="0.5"/>
<text x="248.10" y="53.77" font-size="5.2" text-anchor="end" fill="#333">0.0</text>
<line x1="249.00" y1="63.90" x2="250.50" y2="63.90" stroke="#444" stroke-width="0.5"/>
<text x="248.10" y="66.47" font-size="5.2" text-anchor="end" fill="#333">-0.2</text>
<line x1="249.00" y1="76.60" x2="250.50" y2="76.60" stroke="#444" stroke-width="0.5"/>
<text x="248.10" y="79.17" font-size="5.2" text-anchor="end" fill="#333">-0.4</text>
<line x1="249.00" y1="96.60" x2="250.50" y2="96.60" stroke="#444" stroke-width="0.5"/>
<text x="248.10" y="99.17" font-size="5.2" text-anchor="end" fill="#333">0.0</text>
<line x1="249.00" y1="111.12" x2="250.50" y2="111.12" stroke="#444" stroke-width="0.5"/>
<text x="248.10" y="113.69" font-size="5.2" text-anchor="end" fill="#333">-0.2</text>
<line x1="249.00" y1="125.64" x2="250.50" y2="125.64" stroke="#444" stroke-width="0.5"/>
<text x="248.10" y="128.21" font-size="5.2" text-anchor="end" fill="#333">-0.4</text>
<line x1="249.00" y1="140.16" x2="250.50" y2="140.16" stroke="#444" stroke-width="0.5"/>
<text x="248.10" y="142.73" font-size="5.2" text-anchor="end" fill="#333">-0.6</text>
<line x1="259.70" y1="149.30" x2="259.70" y2="150.80" stroke="#444" stroke-width="0.5"/>
<text x="259.70" y="156.00" font-size="5.2" text-anchor="middle" fill="#333">0</text>
<line x1="298.82" y1="149.30" x2="298.82" y2="150.80" stroke="#444" stroke-width="0.5"/>
<text x="298.82" y="156.00" font-size="5.2" text-anchor="middle" fill="#333">5000</text>
<line x1="337.95" y1="149.30" x2="337.95" y2="150.80" stroke="#444" stroke-width="0.5"/>
<text x="337.95" y="156.00" font-size="5.2" text-anchor="middle" fill="#333">10000</text>
<line x1="377.07" y1="149.30" x2="377.07" y2="150.80" stroke="#444" stroke-width="0.5"/>
<text x="377.07" y="156.00" font-size="5.2" text-anchor="middle" fill="#333">15000</text>
<line x1="416.20" y1="149.30" x2="416.20" y2="150.80" stroke="#444" stroke-width="0.5"/>
<text x="416.20" y="156.00" font-size="5.2" text-anchor="middle" fill="#333">20000</text>
<text x="351.60" y="162.80" font-size="5.45" text-anchor="middle" fill="#222">Position in the Ranked List of Genes</text>
<text x="237.10" y="55.90" font-size="5.45" text-anchor="middle" fill="#222" transform="rotate(-90 237.10 55.90)">Ranked list metric</text>
<text x="237.10" y="120.35" font-size="5.45" text-anchor="middle" fill="#222" transform="rotate(-90 237.10 120.35)">Running Enrichment Score</text>
<text x="349.90" y="8.70" font-size="9.45" text-anchor="middle" fill="#222">REACTOME TCA Cycle and</text>
<text x="351.60" y="19.80" font-size="9.45" text-anchor="middle" fill="#222">Respiratory Electron Transport</text>
<line x1="480.20" y1="34.75" x2="682.30" y2="34.75" stroke="#ebebeb" stroke-width="0.5"/>
<line x1="480.20" y1="50.85" x2="682.30" y2="50.85" stroke="#ebebeb" stroke-width="0.5"/>
<line x1="480.20" y1="66.95" x2="682.30" y2="66.95" stroke="#ebebeb" stroke-width="0.5"/>
<line x1="480.20" y1="83.05" x2="682.30" y2="83.05" stroke="#ebebeb" stroke-width="0.5"/>
<line x1="480.20" y1="26.70" x2="682.30" y2="26.70" stroke="#ebebeb" stroke-width="0.8"/>
<line x1="480.20" y1="42.80" x2="682.30" y2="42.80" stroke="#ebebeb" stroke-width="0.8"/>
<line x1="480.20" y1="58.90" x2="682.30" y2="58.90" stroke="#ebebeb" stroke-width="0.8"/>
<line x1="480.20" y1="75.00" x2="682.30" y2="75.00" stroke="#ebebeb" stroke-width="0.8"/>
<line x1="508.85" y1="25.40" x2="508.85" y2="86.40" stroke="#ebebeb" stroke-width="0.5"/>
<line x1="547.75" y1="25.40" x2="547.75" y2="86.40" stroke="#ebebeb" stroke-width="0.5"/>
<line x1="586.65" y1="25.40" x2="586.65" y2="86.40" stroke="#ebebeb" stroke-width="0.5"/>
<line x1="625.55" y1="25.40" x2="625.55" y2="86.40" stroke="#ebebeb" stroke-width="0.5"/>
<line x1="664.45" y1="25.40" x2="664.45" y2="86.40" stroke="#ebebeb" stroke-width="0.5"/>
<line x1="489.40" y1="25.40" x2="489.40" y2="86.40" stroke="#ebebeb" stroke-width="0.8"/>
<line x1="528.30" y1="25.40" x2="528.30" y2="86.40" stroke="#ebebeb" stroke-width="0.8"/>
<line x1="567.20" y1="25.40" x2="567.20" y2="86.40" stroke="#ebebeb" stroke-width="0.8"/>
<line x1="606.10" y1="25.40" x2="606.10" y2="86.40" stroke="#ebebeb" stroke-width="0.8"/>
<line x1="645.00" y1="25.40" x2="645.00" y2="86.40" stroke="#ebebeb" stroke-width="0.8"/>
<line x1="480.20" y1="102.82" x2="682.30" y2="102.82" stroke="#ebebeb" stroke-width="0.5"/>
<line x1="480.20" y1="115.26" x2="682.30" y2="115.26" stroke="#ebebeb" stroke-width="0.5"/>
<line x1="480.20" y1="127.70" x2="682.30" y2="127.70" stroke="#ebebeb" stroke-width="0.5"/>
<line x1="480.20" y1="140.14" x2="682.30" y2="140.14" stroke="#ebebeb" stroke-width="0.5"/>
<line x1="480.20" y1="96.60" x2="682.30" y2="96.60" stroke="#ebebeb" stroke-width="0.8"/>
<line x1="480.20" y1="109.04" x2="682.30" y2="109.04" stroke="#ebebeb" stroke-width="0.8"/>
<line x1="480.20" y1="121.48" x2="682.30" y2="121.48" stroke="#ebebeb" stroke-width="0.8"/>
<line x1="480.20" y1="133.92" x2="682.30" y2="133.92" stroke="#ebebeb" stroke-width="0.8"/>
<line x1="480.20" y1="146.36" x2="682.30" y2="146.36" stroke="#ebebeb" stroke-width="0.8"/>
<line x1="508.85" y1="91.40" x2="508.85" y2="149.30" stroke="#ebebeb" stroke-width="0.5"/>
<line x1="547.75" y1="91.40" x2="547.75" y2="149.30" stroke="#ebebeb" stroke-width="0.5"/>
<line x1="586.65" y1="91.40" x2="586.65" y2="149.30" stroke="#ebebeb" stroke-width="0.5"/>
<line x1="625.55" y1="91.40" x2="625.55" y2="149.30" stroke="#ebebeb" stroke-width="0.5"/>
<line x1="664.45" y1="91.40" x2="664.45" y2="149.30" stroke="#ebebeb" stroke-width="0.5"/>
<line x1="489.40" y1="91.40" x2="489.40" y2="149.30" stroke="#ebebeb" stroke-width="0.8"/>
<line x1="528.30" y1="91.40" x2="528.30" y2="149.30" stroke="#ebebeb" stroke-width="0.8"/>
<line x1="567.20" y1="91.40" x2="567.20" y2="149.30" stroke="#ebebeb" stroke-width="0.8"/>
<line x1="606.10" y1="91.40" x2="606.10" y2="149.30" stroke="#ebebeb" stroke-width="0.8"/>
<line x1="645.00" y1="91.40" x2="645.00" y2="149.30" stroke="#ebebeb" stroke-width="0.8"/>
<polygon points="669.00,42.80 669.00,70.56 669.20,70.73 670.50,72.99 671.50,75.48 672.20,78.46 672.60,81.44 672.90,83.85 672.90,42.80" fill="#141414"/>
<line x1="528.40" y1="42.80" x2="528.40" y2="28.47" stroke="#666" stroke-width="0.75"/>
<line x1="538.40" y1="42.80" x2="538.40" y2="32.33" stroke="#555" stroke-width="0.75"/>
<line x1="545.60" y1="42.80" x2="545.60" y2="34.43" stroke="#444" stroke-width="0.75"/>
<line x1="574.20" y1="42.80" x2="574.20" y2="42.40" stroke="#aaa" stroke-width="0.75"/>
<line x1="588.50" y1="42.80" x2="588.50" y2="44.41" stroke="#444" stroke-width="0.75"/>
<line x1="603.20" y1="42.80" x2="603.20" y2="46.02" stroke="#777" stroke-width="0.75"/>
<line x1="604.20" y1="42.80" x2="604.20" y2="46.02" stroke="#999" stroke-width="0.75"/>
<line x1="612.00" y1="42.80" x2="612.00" y2="46.82" stroke="#bbb" stroke-width="0.75"/>
<line x1="622.90" y1="42.80" x2="622.90" y2="50.37" stroke="#555" stroke-width="0.75"/>
<line x1="626.20" y1="42.80" x2="626.20" y2="50.85" stroke="#666" stroke-width="0.75"/>
<line x1="634.30" y1="42.80" x2="634.30" y2="53.27" stroke="#666" stroke-width="0.75"/>
<line x1="637.50" y1="42.80" x2="637.50" y2="54.07" stroke="#999" stroke-width="0.75"/>
<line x1="648.40" y1="42.80" x2="648.40" y2="57.05" stroke="#777" stroke-width="0.75"/>
<line x1="648.40" y1="42.80" x2="648.40" y2="57.93" stroke="#999" stroke-width="0.75"/>
<line x1="652.30" y1="42.80" x2="652.30" y2="59.39" stroke="#888" stroke-width="0.8"/>
<line x1="652.90" y1="42.80" x2="652.90" y2="59.62" stroke="#999" stroke-width="0.75"/>
<line x1="653.90" y1="42.80" x2="653.90" y2="60.01" stroke="#aaa" stroke-width="0.8"/>
<line x1="654.90" y1="42.80" x2="654.90" y2="60.40" stroke="#bbb" stroke-width="0.8"/>
<line x1="656.00" y1="42.80" x2="656.00" y2="60.83" stroke="#aaa" stroke-width="0.8"/>
<line x1="657.40" y1="42.80" x2="657.40" y2="61.80" stroke="#777" stroke-width="0.8"/>
<line x1="659.00" y1="42.80" x2="659.00" y2="62.59" stroke="#999" stroke-width="0.8"/>
<line x1="660.00" y1="42.80" x2="660.00" y2="63.09" stroke="#aaa" stroke-width="0.8"/>
<line x1="661.00" y1="42.80" x2="661.00" y2="63.72" stroke="#999" stroke-width="0.8"/>
<line x1="662.30" y1="42.80" x2="662.30" y2="64.53" stroke="#666" stroke-width="0.8"/>
<line x1="663.30" y1="42.80" x2="663.30" y2="65.07" stroke="#aaa" stroke-width="0.75"/>
<line x1="664.30" y1="42.80" x2="664.30" y2="65.61" stroke="#888" stroke-width="0.8"/>
<line x1="665.30" y1="42.80" x2="665.30" y2="66.37" stroke="#777" stroke-width="0.8"/>
<line x1="666.30" y1="42.80" x2="666.30" y2="67.67" stroke="#888" stroke-width="0.8"/>
<line x1="667.20" y1="42.80" x2="667.20" y2="68.84" stroke="#666" stroke-width="0.8"/>
<line x1="668.30" y1="42.80" x2="668.30" y2="69.96" stroke="#444" stroke-width="0.9"/>
<line x1="669.40" y1="42.80" x2="669.40" y2="71.08" stroke="#111" stroke-width="1.0"/>
<line x1="670.40" y1="42.80" x2="670.40" y2="72.81" stroke="#111" stroke-width="1.0"/>
<line x1="671.40" y1="42.80" x2="671.40" y2="75.23" stroke="#111" stroke-width="1.0"/>
<line x1="672.30" y1="42.80" x2="672.30" y2="79.21" stroke="#111" stroke-width="1.0"/>
<line x1="480.20" y1="96.60" x2="682.30" y2="96.60" stroke="#555" stroke-width="0.7"/>
<line x1="528.40" y1="94.10" x2="528.40" y2="99.20" stroke="#303030" stroke-width="0.7"/>
<line x1="538.40" y1="94.10" x2="538.40" y2="99.20" stroke="#303030" stroke-width="0.7"/>
<line x1="545.60" y1="94.10" x2="545.60" y2="99.20" stroke="#303030" stroke-width="0.7"/>
<line x1="588.50" y1="94.10" x2="588.50" y2="99.20" stroke="#303030" stroke-width="0.7"/>
<line x1="603.50" y1="94.10" x2="603.50" y2="99.20" stroke="#303030" stroke-width="0.7"/>
<line x1="622.60" y1="94.10" x2="622.60" y2="99.20" stroke="#303030" stroke-width="0.7"/>
<line x1="626.50" y1="94.10" x2="626.50" y2="99.20" stroke="#303030" stroke-width="0.7"/>
<line x1="634.20" y1="94.10" x2="634.20" y2="99.20" stroke="#303030" stroke-width="0.7"/>
<line x1="637.00" y1="94.10" x2="637.00" y2="99.20" stroke="#303030" stroke-width="0.7"/>
<line x1="648.20" y1="94.10" x2="648.20" y2="99.20" stroke="#303030" stroke-width="0.7"/>
<line x1="574.20" y1="94.10" x2="574.20" y2="99.20" stroke="#868686" stroke-width="0.7"/>
<line x1="612.10" y1="94.10" x2="612.10" y2="99.20" stroke="#868686" stroke-width="0.7"/>
<line x1="652.30" y1="94.10" x2="652.30" y2="99.20" stroke="#616161" stroke-width="0.7"/>
<line x1="652.90" y1="94.10" x2="652.90" y2="99.20" stroke="#6e6e6e" stroke-width="0.7"/>
<line x1="653.90" y1="94.10" x2="653.90" y2="99.20" stroke="#7a7a7a" stroke-width="0.7"/>
<line x1="654.90" y1="94.10" x2="654.90" y2="99.20" stroke="#868686" stroke-width="0.7"/>
<line x1="656.00" y1="94.10" x2="656.00" y2="99.20" stroke="#7a7a7a" stroke-width="0.7"/>
<line x1="657.40" y1="94.10" x2="657.40" y2="99.20" stroke="#555555" stroke-width="0.7"/>
<line x1="659.00" y1="94.10" x2="659.00" y2="99.20" stroke="#6e6e6e" stroke-width="0.7"/>
<line x1="660.00" y1="94.10" x2="660.00" y2="99.20" stroke="#7a7a7a" stroke-width="0.7"/>
<line x1="661.00" y1="94.10" x2="661.00" y2="99.20" stroke="#6e6e6e" stroke-width="0.7"/>
<line x1="662.30" y1="94.10" x2="662.30" y2="99.20" stroke="#494949" stroke-width="0.7"/>
<line x1="663.30" y1="94.10" x2="663.30" y2="99.20" stroke="#7a7a7a" stroke-width="0.7"/>
<line x1="664.30" y1="94.10" x2="664.30" y2="99.20" stroke="#616161" stroke-width="0.7"/>
<line x1="665.30" y1="94.10" x2="665.30" y2="99.20" stroke="#555555" stroke-width="0.7"/>
<line x1="666.30" y1="94.10" x2="666.30" y2="99.20" stroke="#616161" stroke-width="0.7"/>
<line x1="667.20" y1="94.10" x2="667.20" y2="99.20" stroke="#494949" stroke-width="0.7"/>
<line x1="668.30" y1="94.10" x2="668.30" y2="99.20" stroke="#303030" stroke-width="0.7"/>
<line x1="669.40" y1="94.10" x2="669.40" y2="99.20" stroke="#0c0c0c" stroke-width="0.7"/>
<line x1="670.40" y1="94.10" x2="670.40" y2="99.20" stroke="#0c0c0c" stroke-width="0.7"/>
<line x1="671.40" y1="94.10" x2="671.40" y2="99.20" stroke="#0c0c0c" stroke-width="0.7"/>
<line x1="672.30" y1="94.10" x2="672.30" y2="99.20" stroke="#0c0c0c" stroke-width="0.7"/>
<rect x="669.00" y="94.10" width="3.80" height="5.10" fill="#141414" stroke="none" stroke-width="1"/>
<line x1="652.40" y1="91.40" x2="652.40" y2="149.30" stroke="#e8827a" stroke-width="0.6" stroke-dasharray="1.2,1"/>
<polyline points="489.40,96.60 527.20,108.42 555.70,118.06 589.30,128.94 608.10,134.85 621.30,138.90 634.40,142.63 652.40,146.98 659.40,145.74 664.60,142.01 668.60,135.47 670.90,126.46 671.90,114.64 672.50,97.84 672.60,96.60" fill="none" stroke="#6bbf4a" stroke-width="0.8" stroke-linejoin="round"/>
<rect x="480.20" y="25.40" width="202.10" height="61.00" fill="none" stroke="#a3a3a3" stroke-width="0.8"/>
<rect x="480.20" y="91.40" width="202.10" height="57.90" fill="none" stroke="#a3a3a3" stroke-width="0.8"/>
<line x1="478.70" y1="26.70" x2="480.20" y2="26.70" stroke="#444" stroke-width="0.5"/>
<text x="477.80" y="29.27" font-size="5.2" text-anchor="end" fill="#333">0.2</text>
<line x1="478.70" y1="42.80" x2="480.20" y2="42.80" stroke="#444" stroke-width="0.5"/>
<text x="477.80" y="45.37" font-size="5.2" text-anchor="end" fill="#333">0.0</text>
<line x1="478.70" y1="58.90" x2="480.20" y2="58.90" stroke="#444" stroke-width="0.5"/>
<text x="477.80" y="61.47" font-size="5.2" text-anchor="end" fill="#333">-0.2</text>
<line x1="478.70" y1="75.00" x2="480.20" y2="75.00" stroke="#444" stroke-width="0.5"/>
<text x="477.80" y="77.57" font-size="5.2" text-anchor="end" fill="#333">-0.4</text>
<line x1="478.70" y1="96.60" x2="480.20" y2="96.60" stroke="#444" stroke-width="0.5"/>
<text x="477.80" y="99.17" font-size="5.2" text-anchor="end" fill="#333">0.0</text>
<line x1="478.70" y1="109.04" x2="480.20" y2="109.04" stroke="#444" stroke-width="0.5"/>
<text x="477.80" y="111.61" font-size="5.2" text-anchor="end" fill="#333">-0.2</text>
<line x1="478.70" y1="121.48" x2="480.20" y2="121.48" stroke="#444" stroke-width="0.5"/>
<text x="477.80" y="124.05" font-size="5.2" text-anchor="end" fill="#333">-0.4</text>
<line x1="478.70" y1="133.92" x2="480.20" y2="133.92" stroke="#444" stroke-width="0.5"/>
<text x="477.80" y="136.49" font-size="5.2" text-anchor="end" fill="#333">-0.6</text>
<line x1="478.70" y1="146.36" x2="480.20" y2="146.36" stroke="#444" stroke-width="0.5"/>
<text x="477.80" y="148.93" font-size="5.2" text-anchor="end" fill="#333">-0.8</text>
<line x1="489.40" y1="149.30" x2="489.40" y2="150.80" stroke="#444" stroke-width="0.5"/>
<text x="489.40" y="156.00" font-size="5.2" text-anchor="middle" fill="#333">0</text>
<line x1="528.30" y1="149.30" x2="528.30" y2="150.80" stroke="#444" stroke-width="0.5"/>
<text x="528.30" y="156.00" font-size="5.2" text-anchor="middle" fill="#333">5000</text>
<line x1="567.20" y1="149.30" x2="567.20" y2="150.80" stroke="#444" stroke-width="0.5"/>
<text x="567.20" y="156.00" font-size="5.2" text-anchor="middle" fill="#333">10000</text>
<line x1="606.10" y1="149.30" x2="606.10" y2="150.80" stroke="#444" stroke-width="0.5"/>
<text x="606.10" y="156.00" font-size="5.2" text-anchor="middle" fill="#333">15000</text>
<line x1="645.00" y1="149.30" x2="645.00" y2="150.80" stroke="#444" stroke-width="0.5"/>
<text x="645.00" y="156.00" font-size="5.2" text-anchor="middle" fill="#333">20000</text>
<text x="581.25" y="162.80" font-size="5.45" text-anchor="middle" fill="#222">Position in the Ranked List of Genes</text>
<text x="466.30" y="55.90" font-size="5.45" text-anchor="middle" fill="#222" transform="rotate(-90 466.30 55.90)">Ranked list metric</text>
<text x="466.30" y="120.35" font-size="5.45" text-anchor="middle" fill="#222" transform="rotate(-90 466.30 120.35)">Running Enrichment Score</text>
<text x="584.70" y="19.20" font-size="9.43" text-anchor="middle" fill="#222">REACTOME Respiratory Electron Transport</text>
<line x1="21.00" y1="640.15" x2="215.60" y2="640.15" stroke="#ebebeb" stroke-width="0.5"/>
<line x1="21.00" y1="652.45" x2="215.60" y2="652.45" stroke="#ebebeb" stroke-width="0.5"/>
<line x1="21.00" y1="664.75" x2="215.60" y2="664.75" stroke="#ebebeb" stroke-width="0.5"/>
<line x1="21.00" y1="677.05" x2="215.60" y2="677.05" stroke="#ebebeb" stroke-width="0.5"/>
<line x1="21.00" y1="689.35" x2="215.60" y2="689.35" stroke="#ebebeb" stroke-width="0.5"/>
<line x1="21.00" y1="646.30" x2="215.60" y2="646.30" stroke="#ebebeb" stroke-width="0.8"/>
<line x1="21.00" y1="658.60" x2="215.60" y2="658.60" stroke="#ebebeb" stroke-width="0.8"/>
<line x1="21.00" y1="670.90" x2="215.60" y2="670.90" stroke="#ebebeb" stroke-width="0.8"/>
<line x1="21.00" y1="683.20" x2="215.60" y2="683.20" stroke="#ebebeb" stroke-width="0.8"/>
<line x1="21.00" y1="695.50" x2="215.60" y2="695.50" stroke="#ebebeb" stroke-width="0.8"/>
<line x1="60.80" y1="635.30" x2="60.80" y2="696.40" stroke="#ebebeb" stroke-width="0.5"/>
<line x1="122.80" y1="635.30" x2="122.80" y2="696.40" stroke="#ebebeb" stroke-width="0.5"/>
<line x1="184.80" y1="635.30" x2="184.80" y2="696.40" stroke="#ebebeb" stroke-width="0.5"/>
<line x1="29.80" y1="635.30" x2="29.80" y2="696.40" stroke="#ebebeb" stroke-width="0.8"/>
<line x1="91.80" y1="635.30" x2="91.80" y2="696.40" stroke="#ebebeb" stroke-width="0.8"/>
<line x1="153.80" y1="635.30" x2="153.80" y2="696.40" stroke="#ebebeb" stroke-width="0.8"/>
<line x1="21.00" y1="745.68" x2="215.60" y2="745.68" stroke="#ebebeb" stroke-width="0.5"/>
<line x1="21.00" y1="735.62" x2="215.60" y2="735.62" stroke="#ebebeb" stroke-width="0.5"/>
<line x1="21.00" y1="725.58" x2="215.60" y2="725.58" stroke="#ebebeb" stroke-width="0.5"/>
<line x1="21.00" y1="715.53" x2="215.60" y2="715.53" stroke="#ebebeb" stroke-width="0.5"/>
<line x1="21.00" y1="705.48" x2="215.60" y2="705.48" stroke="#ebebeb" stroke-width="0.5"/>
<line x1="21.00" y1="755.73" x2="215.60" y2="755.73" stroke="#ebebeb" stroke-width="0.5"/>
<line x1="21.00" y1="750.70" x2="215.60" y2="750.70" stroke="#ebebeb" stroke-width="0.8"/>
<line x1="21.00" y1="740.65" x2="215.60" y2="740.65" stroke="#ebebeb" stroke-width="0.8"/>
<line x1="21.00" y1="730.60" x2="215.60" y2="730.60" stroke="#ebebeb" stroke-width="0.8"/>
<line x1="21.00" y1="720.55" x2="215.60" y2="720.55" stroke="#ebebeb" stroke-width="0.8"/>
<line x1="21.00" y1="710.50" x2="215.60" y2="710.50" stroke="#ebebeb" stroke-width="0.8"/>
<line x1="60.80" y1="701.40" x2="60.80" y2="759.10" stroke="#ebebeb" stroke-width="0.5"/>
<line x1="122.80" y1="701.40" x2="122.80" y2="759.10" stroke="#ebebeb" stroke-width="0.5"/>
<line x1="184.80" y1="701.40" x2="184.80" y2="759.10" stroke="#ebebeb" stroke-width="0.5"/>
<line x1="29.80" y1="701.40" x2="29.80" y2="759.10" stroke="#ebebeb" stroke-width="0.8"/>
<line x1="91.80" y1="701.40" x2="91.80" y2="759.10" stroke="#ebebeb" stroke-width="0.8"/>
<line x1="153.80" y1="701.40" x2="153.80" y2="759.10" stroke="#ebebeb" stroke-width="0.8"/>
<line x1="30.20" y1="670.90" x2="30.20" y2="637.69" stroke="#444" stroke-width="0.75"/>
<line x1="31.10" y1="670.90" x2="31.10" y2="640.15" stroke="#666" stroke-width="0.75"/>
<line x1="32.20" y1="670.90" x2="32.20" y2="643.23" stroke="#333" stroke-width="0.75"/>
<line x1="33.10" y1="670.90" x2="33.10" y2="643.84" stroke="#555" stroke-width="0.75"/>
<line x1="35.30" y1="670.90" x2="35.30" y2="646.91" stroke="#555" stroke-width="0.75"/>
<line x1="37.30" y1="670.90" x2="37.30" y2="648.76" stroke="#444" stroke-width="0.75"/>
<line x1="38.30" y1="670.90" x2="38.30" y2="649.38" stroke="#666" stroke-width="0.75"/>
<line x1="41.40" y1="670.90" x2="41.40" y2="651.83" stroke="#bbb" stroke-width="0.75"/>
<line x1="42.20" y1="670.90" x2="42.20" y2="651.83" stroke="#ccc" stroke-width="0.75"/>
<line x1="43.30" y1="670.90" x2="43.30" y2="651.83" stroke="#bbb" stroke-width="0.75"/>
<line x1="49.50" y1="670.90" x2="49.50" y2="654.60" stroke="#444" stroke-width="0.75"/>
<line x1="54.10" y1="670.90" x2="54.10" y2="655.83" stroke="#666" stroke-width="0.75"/>
<line x1="56.20" y1="670.90" x2="56.20" y2="657.12" stroke="#555" stroke-width="0.75"/>
<line x1="61.30" y1="670.90" x2="61.30" y2="658.60" stroke="#333" stroke-width="0.75"/>
<line x1="66.60" y1="670.90" x2="66.60" y2="660.20" stroke="#888" stroke-width="0.75"/>
<line x1="73.00" y1="670.90" x2="73.00" y2="661.80" stroke="#ccc" stroke-width="0.75"/>
<line x1="77.60" y1="670.90" x2="77.60" y2="662.47" stroke="#666" stroke-width="0.75"/>
<line x1="90.40" y1="670.90" x2="90.40" y2="665.98" stroke="#777" stroke-width="0.75"/>
<line x1="91.20" y1="670.90" x2="91.20" y2="665.98" stroke="#555" stroke-width="0.75"/>
<line x1="97.40" y1="670.90" x2="97.40" y2="666.90" stroke="#777" stroke-width="0.75"/>
<line x1="99.00" y1="670.90" x2="99.00" y2="667.21" stroke="#888" stroke-width="0.75"/>
<line x1="103.20" y1="670.90" x2="103.20" y2="668.13" stroke="#777" stroke-width="0.75"/>
<line x1="111.60" y1="670.90" x2="111.60" y2="670.28" stroke="#999" stroke-width="0.75"/>
<line x1="120.40" y1="670.90" x2="120.40" y2="670.59" stroke="#aaa" stroke-width="0.75"/>
<line x1="126.50" y1="670.90" x2="126.50" y2="670.65" stroke="#aaa" stroke-width="0.75"/>
<line x1="133.90" y1="670.90" x2="133.90" y2="673.36" stroke="#999" stroke-width="0.75"/>
<line x1="167.40" y1="670.90" x2="167.40" y2="677.91" stroke="#555" stroke-width="0.75"/>
<line x1="173.30" y1="670.90" x2="173.30" y2="679.08" stroke="#555" stroke-width="0.75"/>
<line x1="183.10" y1="670.90" x2="183.10" y2="681.36" stroke="#777" stroke-width="0.75"/>
<line x1="184.40" y1="670.90" x2="184.40" y2="681.66" stroke="#666" stroke-width="0.75"/>
<line x1="185.70" y1="670.90" x2="185.70" y2="681.97" stroke="#777" stroke-width="0.75"/>
<line x1="187.00" y1="670.90" x2="187.00" y2="682.28" stroke="#555" stroke-width="0.75"/>
<line x1="188.90" y1="670.90" x2="188.90" y2="682.58" stroke="#777" stroke-width="0.75"/>
<line x1="190.60" y1="670.90" x2="190.60" y2="683.81" stroke="#555" stroke-width="0.75"/>
<line x1="204.50" y1="670.90" x2="204.50" y2="693.41" stroke="#555" stroke-width="0.75"/>
<line x1="21.00" y1="750.70" x2="215.60" y2="750.70" stroke="#cfcfcf" stroke-width="2.2"/>
<line x1="30.20" y1="748.20" x2="30.20" y2="753.20" stroke="#303030" stroke-width="0.7"/>
<line x1="31.10" y1="748.20" x2="31.10" y2="753.20" stroke="#494949" stroke-width="0.7"/>
<line x1="32.20" y1="748.20" x2="32.20" y2="753.20" stroke="#242424" stroke-width="0.7"/>
<line x1="33.10" y1="748.20" x2="33.10" y2="753.20" stroke="#3d3d3d" stroke-width="0.7"/>
<line x1="35.30" y1="748.20" x2="35.30" y2="753.20" stroke="#3d3d3d" stroke-width="0.7"/>
<line x1="37.30" y1="748.20" x2="37.30" y2="753.20" stroke="#303030" stroke-width="0.7"/>
<line x1="38.30" y1="748.20" x2="38.30" y2="753.20" stroke="#494949" stroke-width="0.7"/>
<line x1="41.40" y1="748.20" x2="41.40" y2="753.20" stroke="#868686" stroke-width="0.7"/>
<line x1="42.20" y1="748.20" x2="42.20" y2="753.20" stroke="#929292" stroke-width="0.7"/>
<line x1="43.30" y1="748.20" x2="43.30" y2="753.20" stroke="#868686" stroke-width="0.7"/>
<line x1="49.50" y1="748.20" x2="49.50" y2="753.20" stroke="#303030" stroke-width="0.7"/>
<line x1="54.10" y1="748.20" x2="54.10" y2="753.20" stroke="#494949" stroke-width="0.7"/>
<line x1="56.20" y1="748.20" x2="56.20" y2="753.20" stroke="#3d3d3d" stroke-width="0.7"/>
<line x1="61.30" y1="748.20" x2="61.30" y2="753.20" stroke="#242424" stroke-width="0.7"/>
<line x1="66.60" y1="748.20" x2="66.60" y2="753.20" stroke="#616161" stroke-width="0.7"/>
<line x1="73.00" y1="748.20" x2="73.00" y2="753.20" stroke="#929292" stroke-width="0.7"/>
<line x1="77.60" y1="748.20" x2="77.60" y2="753.20" stroke="#494949" stroke-width="0.7"/>
<line x1="90.40" y1="748.20" x2="90.40" y2="753.20" stroke="#555555" stroke-width="0.7"/>
<line x1="91.20" y1="748.20" x2="91.20" y2="753.20" stroke="#3d3d3d" stroke-width="0.7"/>
<line x1="97.40" y1="748.20" x2="97.40" y2="753.20" stroke="#555555" stroke-width="0.7"/>
<line x1="99.00" y1="748.20" x2="99.00" y2="753.20" stroke="#616161" stroke-width="0.7"/>
<line x1="103.20" y1="748.20" x2="103.20" y2="753.20" stroke="#555555" stroke-width="0.7"/>
<line x1="111.60" y1="748.20" x2="111.60" y2="753.20" stroke="#6e6e6e" stroke-width="0.7"/>
<line x1="120.40" y1="748.20" x2="120.40" y2="753.20" stroke="#7a7a7a" stroke-width="0.7"/>
<line x1="126.50" y1="748.20" x2="126.50" y2="753.20" stroke="#7a7a7a" stroke-width="0.7"/>
<line x1="133.90" y1="748.20" x2="133.90" y2="753.20" stroke="#6e6e6e" stroke-width="0.7"/>
<line x1="167.40" y1="748.20" x2="167.40" y2="753.20" stroke="#3d3d3d" stroke-width="0.7"/>
<line x1="173.30" y1="748.20" x2="173.30" y2="753.20" stroke="#3d3d3d" stroke-width="0.7"/>
<line x1="183.10" y1="748.20" x2="183.10" y2="753.20" stroke="#555555" stroke-width="0.7"/>
<line x1="184.40" y1="748.20" x2="184.40" y2="753.20" stroke="#494949" stroke-width="0.7"/>
<line x1="185.70" y1="748.20" x2="185.70" y2="753.20" stroke="#555555" stroke-width="0.7"/>
<line x1="187.00" y1="748.20" x2="187.00" y2="753.20" stroke="#3d3d3d" stroke-width="0.7"/>
<line x1="188.90" y1="748.20" x2="188.90" y2="753.20" stroke="#555555" stroke-width="0.7"/>
<line x1="190.60" y1="748.20" x2="190.60" y2="753.20" stroke="#3d3d3d" stroke-width="0.7"/>
<line x1="204.50" y1="748.20" x2="204.50" y2="753.20" stroke="#3d3d3d" stroke-width="0.7"/>
<line x1="61.60" y1="701.40" x2="61.60" y2="759.10" stroke="#e8827a" stroke-width="0.6" stroke-dasharray="1.2,1"/>
<polyline points="29.90,750.70 30.60,738.64 32.20,738.64 32.70,727.59 34.40,728.59 35.30,724.57 36.60,725.58 37.80,720.55 38.60,716.53 40.30,717.54 41.60,714.52 43.30,711.50 46.20,712.51 49.00,714.52 50.00,708.49 52.90,710.50 56.20,706.48 58.40,707.49 60.40,708.49 61.60,704.47 63.80,705.48 66.30,706.48 67.10,705.48 72.20,707.49 73.90,706.48 77.20,708.49 91.50,714.52 92.00,712.51 97.40,715.53 100.70,715.53 105.00,716.53 121.80,725.58 132.70,731.61 134.40,732.11 153.70,742.66 166.30,750.30 168.00,749.70 173.00,752.31 173.80,750.70 182.20,756.23 183.90,753.72 187.30,749.70 188.10,748.69 188.90,748.19 190.60,746.18 192.30,746.68 204.00,753.72 204.40,748.69 206.60,750.70" fill="none" stroke="#6bbf4a" stroke-width="0.8" stroke-linejoin="round"/>
<rect x="21.00" y="635.30" width="194.60" height="61.10" fill="none" stroke="#a3a3a3" stroke-width="0.8"/>
<rect x="21.00" y="701.40" width="194.60" height="57.70" fill="none" stroke="#a3a3a3" stroke-width="0.8"/>
<line x1="19.50" y1="646.30" x2="21.00" y2="646.30" stroke="#444" stroke-width="0.5"/>
<text x="18.60" y="648.87" font-size="5.2" text-anchor="end" fill="#333">0.4</text>
<line x1="19.50" y1="658.60" x2="21.00" y2="658.60" stroke="#444" stroke-width="0.5"/>
<text x="18.60" y="661.17" font-size="5.2" text-anchor="end" fill="#333">0.2</text>
<line x1="19.50" y1="670.90" x2="21.00" y2="670.90" stroke="#444" stroke-width="0.5"/>
<text x="18.60" y="673.47" font-size="5.2" text-anchor="end" fill="#333">0.0</text>
<line x1="19.50" y1="683.20" x2="21.00" y2="683.20" stroke="#444" stroke-width="0.5"/>
<text x="18.60" y="685.77" font-size="5.2" text-anchor="end" fill="#333">-0.2</text>
<line x1="19.50" y1="695.50" x2="21.00" y2="695.50" stroke="#444" stroke-width="0.5"/>
<text x="18.60" y="698.07" font-size="5.2" text-anchor="end" fill="#333">-0.4</text>
<line x1="19.50" y1="750.70" x2="21.00" y2="750.70" stroke="#444" stroke-width="0.5"/>
<text x="18.60" y="753.27" font-size="5.2" text-anchor="end" fill="#333">0.0</text>
<line x1="19.50" y1="740.65" x2="21.00" y2="740.65" stroke="#444" stroke-width="0.5"/>
<text x="18.60" y="743.22" font-size="5.2" text-anchor="end" fill="#333">0.1</text>
<line x1="19.50" y1="730.60" x2="21.00" y2="730.60" stroke="#444" stroke-width="0.5"/>
<text x="18.60" y="733.17" font-size="5.2" text-anchor="end" fill="#333">0.2</text>
<line x1="19.50" y1="720.55" x2="21.00" y2="720.55" stroke="#444" stroke-width="0.5"/>
<text x="18.60" y="723.12" font-size="5.2" text-anchor="end" fill="#333">0.3</text>
<line x1="19.50" y1="710.50" x2="21.00" y2="710.50" stroke="#444" stroke-width="0.5"/>
<text x="18.60" y="713.07" font-size="5.2" text-anchor="end" fill="#333">0.4</text>
<line x1="29.80" y1="759.10" x2="29.80" y2="760.60" stroke="#444" stroke-width="0.5"/>
<text x="29.80" y="766.00" font-size="5.2" text-anchor="middle" fill="#333">0</text>
<line x1="91.80" y1="759.10" x2="91.80" y2="760.60" stroke="#444" stroke-width="0.5"/>
<text x="91.80" y="766.00" font-size="5.2" text-anchor="middle" fill="#333">10000</text>
<line x1="153.80" y1="759.10" x2="153.80" y2="760.60" stroke="#444" stroke-width="0.5"/>
<text x="153.80" y="766.00" font-size="5.2" text-anchor="middle" fill="#333">20000</text>
<line x1="215.80" y1="759.10" x2="215.80" y2="760.60" stroke="#444" stroke-width="0.5"/>
<text x="215.80" y="766.00" font-size="5.2" text-anchor="middle" fill="#333">30000</text>
<text x="118.30" y="772.60" font-size="5.45" text-anchor="middle" fill="#222">Position in the Ranked List of Genes</text>
<text x="6.60" y="665.85" font-size="5.45" text-anchor="middle" fill="#222" transform="rotate(-90 6.60 665.85)">Ranked list metric</text>
<text x="6.60" y="730.25" font-size="5.45" text-anchor="middle" fill="#222" transform="rotate(-90 6.60 730.25)">Running Enrichment Score</text>
<text x="122.20" y="632.50" font-size="9.42" text-anchor="middle" fill="#222">PENG Glutamine Deprivation Up</text>
<text x="0.90" y="197.90" font-size="15" text-anchor="start" fill="#000" font-weight="bold">B</text>
<text x="43.3" y="221" font-size="9.3" text-anchor="end" fill="#111">H<tspan font-size="5.8" dy="2">2</tspan><tspan dy="-2">O</tspan><tspan font-size="5.8" dy="2">2</tspan></text>
<text x="43.30" y="235.00" font-size="9.3" text-anchor="end" fill="#111">KU55933</text>
<text x="43.30" y="248.50" font-size="9.3" text-anchor="end" fill="#111">KU60019</text>
<line x1="50.60" y1="219.80" x2="53.40" y2="219.80" stroke="#222" stroke-width="0.8"/>
<line x1="71.10" y1="218.60" x2="75.30" y2="218.60" stroke="#222" stroke-width="0.8"/>
<line x1="73.20" y1="216.50" x2="73.20" y2="220.70" stroke="#222" stroke-width="0.8"/>
<line x1="92.60" y1="219.80" x2="95.40" y2="219.80" stroke="#222" stroke-width="0.8"/>
<line x1="111.40" y1="218.60" x2="115.60" y2="218.60" stroke="#222" stroke-width="0.8"/>
<line x1="113.50" y1="216.50" x2="113.50" y2="220.70" stroke="#222" stroke-width="0.8"/>
<line x1="131.90" y1="219.80" x2="134.70" y2="219.80" stroke="#222" stroke-width="0.8"/>
<line x1="149.00" y1="218.60" x2="153.20" y2="218.60" stroke="#222" stroke-width="0.8"/>
<line x1="151.10" y1="216.50" x2="151.10" y2="220.70" stroke="#222" stroke-width="0.8"/>
<line x1="50.60" y1="233.70" x2="53.40" y2="233.70" stroke="#222" stroke-width="0.8"/>
<line x1="71.80" y1="233.70" x2="74.60" y2="233.70" stroke="#222" stroke-width="0.8"/>
<line x1="91.90" y1="232.50" x2="96.10" y2="232.50" stroke="#222" stroke-width="0.8"/>
<line x1="94.00" y1="230.40" x2="94.00" y2="234.60" stroke="#222" stroke-width="0.8"/>
<line x1="111.40" y1="232.50" x2="115.60" y2="232.50" stroke="#222" stroke-width="0.8"/>
<line x1="113.50" y1="230.40" x2="113.50" y2="234.60" stroke="#222" stroke-width="0.8"/>
<line x1="131.90" y1="233.70" x2="134.70" y2="233.70" stroke="#222" stroke-width="0.8"/>
<line x1="149.70" y1="233.70" x2="152.50" y2="233.70" stroke="#222" stroke-width="0.8"/>
<line x1="50.60" y1="247.60" x2="53.40" y2="247.60" stroke="#222" stroke-width="0.8"/>
<line x1="71.80" y1="247.60" x2="74.60" y2="247.60" stroke="#222" stroke-width="0.8"/>
<line x1="92.60" y1="247.60" x2="95.40" y2="247.60" stroke="#222" stroke-width="0.8"/>
<line x1="112.10" y1="247.60" x2="114.90" y2="247.60" stroke="#222" stroke-width="0.8"/>
<line x1="131.20" y1="246.40" x2="135.40" y2="246.40" stroke="#222" stroke-width="0.8"/>
<line x1="133.30" y1="244.30" x2="133.30" y2="248.50" stroke="#222" stroke-width="0.8"/>
<line x1="149.00" y1="246.40" x2="153.20" y2="246.40" stroke="#222" stroke-width="0.8"/>
<line x1="151.10" y1="244.30" x2="151.10" y2="248.50" stroke="#222" stroke-width="0.8"/>
<defs>
<linearGradient id="bandA" x1="0" y1="0" x2="0" y2="1"><stop offset="0" stop-color="#d8d8d8"/><stop offset="0.12" stop-color="#444"/><stop offset="0.3" stop-color="#111"/><stop offset="0.44" stop-color="#2a2a2a"/><stop offset="0.53" stop-color="#707070"/><stop offset="0.62" stop-color="#2a2a2a"/><stop offset="0.82" stop-color="#000"/><stop offset="0.94" stop-color="#333"/><stop offset="1" stop-color="#c8c8c8"/></linearGradient>
<linearGradient id="bandS" x1="0" y1="0" x2="0" y2="1"><stop offset="0" stop-color="#555" stop-opacity="0"/><stop offset="0.5" stop-color="#444"/><stop offset="1" stop-color="#555" stop-opacity="0"/></linearGradient>
<linearGradient id="bandD" x1="0" y1="0" x2="0" y2="1"><stop offset="0" stop-color="#222" stop-opacity="0"/><stop offset="0.3" stop-color="#111"/><stop offset="0.7" stop-color="#000"/><stop offset="1" stop-color="#222" stop-opacity="0"/></linearGradient>
<linearGradient id="stripG" x1="0" y1="0" x2="0" y2="1"><stop offset="0" stop-color="#e0e0e0"/><stop offset="0.5" stop-color="#e8e8e8"/><stop offset="1" stop-color="#e4e4e4"/></linearGradient>
<filter id="blr" x="-0.2" y="-0.5" width="1.4" height="2"><feGaussianBlur stdDeviation="0.45"/></filter>
</defs>
<rect x="42.70" y="254.70" width="118.10" height="16.10" fill="#eeeeee" stroke="none" stroke-width="1"/>
<rect x="42.70" y="273.00" width="118.10" height="17.70" fill="#eeeeee" stroke="none" stroke-width="1"/>
<rect x="42.70" y="292.50" width="118.10" height="11.50" fill="#eeeeee" stroke="none" stroke-width="1"/>
<rect x="44.60" y="254.70" width="16.40" height="16.10" fill="url(#stripG)" stroke="none" stroke-width="1"/>
<rect x="65.50" y="254.70" width="15.50" height="16.10" fill="url(#stripG)" stroke="none" stroke-width="1"/>
<rect x="84.70" y="254.70" width="15.50" height="16.10" fill="url(#stripG)" stroke="none" stroke-width="1"/>
<rect x="104.80" y="254.70" width="14.60" height="16.10" fill="url(#stripG)" stroke="none" stroke-width="1"/>
<rect x="124.00" y="254.70" width="14.50" height="16.10" fill="url(#stripG)" stroke="none" stroke-width="1"/>
<rect x="143.10" y="254.70" width="15.50" height="16.10" fill="url(#stripG)" stroke="none" stroke-width="1"/>
<rect x="44.60" y="273.00" width="16.40" height="17.70" fill="url(#stripG)" stroke="none" stroke-width="1"/>
<rect x="65.50" y="273.00" width="15.50" height="17.70" fill="url(#stripG)" stroke="none" stroke-width="1"/>
<rect x="84.70" y="273.00" width="15.50" height="17.70" fill="url(#stripG)" stroke="none" stroke-width="1"/>
<rect x="104.80" y="273.00" width="14.60" height="17.70" fill="url(#stripG)" stroke="none" stroke-width="1"/>
<rect x="124.00" y="273.00" width="14.50" height="17.70" fill="url(#stripG)" stroke="none" stroke-width="1"/>
<rect x="143.10" y="273.00" width="15.50" height="17.70" fill="url(#stripG)" stroke="none" stroke-width="1"/>
<rect x="44.60" y="292.50" width="16.40" height="11.50" fill="url(#stripG)" stroke="none" stroke-width="1"/>
<rect x="65.50" y="292.50" width="15.50" height="11.50" fill="url(#stripG)" stroke="none" stroke-width="1"/>
<rect x="84.70" y="292.50" width="15.50" height="11.50" fill="url(#stripG)" stroke="none" stroke-width="1"/>
<rect x="104.80" y="292.50" width="14.60" height="11.50" fill="url(#stripG)" stroke="none" stroke-width="1"/>
<rect x="124.00" y="292.50" width="14.50" height="11.50" fill="url(#stripG)" stroke="none" stroke-width="1"/>
<rect x="143.10" y="292.50" width="15.50" height="11.50" fill="url(#stripG)" stroke="none" stroke-width="1"/>
<g filter="url(#blr)">
<rect x="65.90" y="256.40" width="14.70" height="10.20" fill="url(#bandA)" stroke="none" stroke-width="1"/>
<rect x="45.10" y="263.00" width="15.40" height="3.00" fill="url(#bandS)" stroke="none" stroke-width="1" opacity="0.12"/>
<rect x="85.20" y="263.00" width="14.50" height="4.00" fill="url(#bandS)" stroke="none" stroke-width="1" opacity="0.18"/>
<rect x="105.30" y="263.00" width="13.60" height="3.00" fill="url(#bandS)" stroke="none" stroke-width="1" opacity="0.85"/>
<rect x="124.50" y="263.00" width="13.50" height="3.00" fill="url(#bandS)" stroke="none" stroke-width="1" opacity="0.2"/>
<rect x="143.60" y="263.00" width="14.50" height="3.00" fill="url(#bandS)" stroke="none" stroke-width="1" opacity="0.6"/>
<rect x="45.10" y="280.40" width="15.40" height="3.80" fill="url(#bandS)" stroke="none" stroke-width="1" opacity="0.75"/>
<rect x="66.00" y="280.40" width="14.50" height="3.80" fill="url(#bandS)" stroke="none" stroke-width="1" opacity="0.7"/>
<rect x="105.30" y="280.40" width="13.60" height="3.80" fill="url(#bandS)" stroke="none" stroke-width="1" opacity="0.95"/>
<rect x="124.50" y="280.40" width="13.50" height="3.80" fill="url(#bandS)" stroke="none" stroke-width="1" opacity="1.0"/>
<rect x="143.60" y="280.40" width="14.50" height="3.80" fill="url(#bandS)" stroke="none" stroke-width="1" opacity="0.9"/>
<rect x="84.20" y="280.00" width="16.00" height="5.60" fill="url(#bandD)" stroke="none" stroke-width="1"/>
<rect x="83.50" y="273.40" width="9.00" height="1.50" fill="#888" stroke="none" stroke-width="1" opacity="0.5"/>
<rect x="44.10" y="295.40" width="17.40" height="4.00" fill="url(#bandS)" stroke="none" stroke-width="1" opacity="1"/>
<rect x="65.00" y="295.40" width="16.50" height="4.00" fill="url(#bandS)" stroke="none" stroke-width="1" opacity="1"/>
<rect x="84.20" y="295.40" width="16.50" height="4.00" fill="url(#bandS)" stroke="none" stroke-width="1" opacity="1"/>
<rect x="104.30" y="295.40" width="15.60" height="4.00" fill="url(#bandS)" stroke="none" stroke-width="1" opacity="1"/>
<rect x="123.50" y="295.40" width="15.50" height="4.00" fill="url(#bandS)" stroke="none" stroke-width="1" opacity="1"/>
<rect x="142.60" y="295.40" width="16.50" height="4.00" fill="url(#bandS)" stroke="none" stroke-width="1" opacity="1"/>
</g>
<text x="74.70" y="273.80" font-size="6.9" text-anchor="middle" fill="#222">7.7</text>
<text x="94.40" y="273.80" font-size="6.9" text-anchor="middle" fill="#222">0.6</text>
<text x="113.40" y="273.80" font-size="6.9" text-anchor="middle" fill="#222">2.0</text>
<text x="131.60" y="273.80" font-size="6.9" text-anchor="middle" fill="#222">0.7</text>
<text x="150.40" y="273.80" font-size="6.9" text-anchor="middle" fill="#222">1.8</text>
<text x="74.70" y="291.60" font-size="6.9" text-anchor="middle" fill="#222">0.7</text>
<text x="94.40" y="291.60" font-size="6.9" text-anchor="middle" fill="#222">2.7</text>
<text x="113.40" y="291.60" font-size="6.9" text-anchor="middle" fill="#222">1.5</text>
<text x="131.60" y="291.60" font-size="6.9" text-anchor="middle" fill="#222">2.1</text>
<text x="150.40" y="291.60" font-size="6.9" text-anchor="middle" fill="#222">1.9</text>
<text x="40.50" y="265.90" font-size="7.5" text-anchor="end" fill="#222">~350kDa</text>
<text x="41.00" y="283.70" font-size="7.5" text-anchor="end" fill="#222">~350kDa</text>
<text x="39.20" y="298.60" font-size="7.5" text-anchor="end" fill="#222">~42kDa</text>
<text x="163.60" y="266.70" font-size="9" text-anchor="start" fill="#111">ATM (pS1981)</text>
<text x="163.60" y="285.70" font-size="9" text-anchor="start" fill="#111">ATM</text>
<text x="163.60" y="300.30" font-size="9" text-anchor="start" fill="#111">β-actin</text>
<text x="235.70" y="197.20" font-size="15" text-anchor="start" fill="#000" font-weight="bold">C</text>
<polygon points="278.0,304.8 278.2,291.5 279.4,303.3 280.3,303.2 281.3,303.6 282.2,303.7 283.2,303.9 284.1,304.0 285.0,303.8 286.0,303.6 286.9,302.8 287.9,303.4 288.8,302.2 289.8,302.7 290.7,302.2 291.7,301.5 292.6,302.0 293.6,301.7 294.6,300.6 295.6,300.9 296.6,300.0 297.6,300.3 298.6,299.2 299.6,299.2 300.7,299.4 301.7,297.8 302.7,297.9 303.7,296.9 304.7,296.9 305.8,296.8 306.8,295.6 307.8,294.9 308.8,293.7 309.8,293.6 310.8,291.1 311.8,291.4 312.8,289.8 313.9,288.4 315.0,287.1 316.0,286.0 317.1,285.6 318.2,283.3 319.3,282.2 320.4,279.7 321.5,277.7 322.5,276.9 323.6,275.5 324.7,273.8 325.8,270.5 326.9,267.7 328.0,264.5 329.3,262.5 330.6,261.9 331.7,261.4 332.9,261.8 334.0,262.4 335.0,261.2 336.0,259.5 337.1,258.5 338.2,257.8 339.4,258.7 340.5,260.1 341.4,262.3 342.4,264.2 343.3,266.1 344.3,269.0 345.2,270.6 346.4,274.4 347.5,277.2 348.7,281.1 349.6,283.1 350.6,284.9 351.5,287.3 352.5,289.0 353.4,290.5 354.3,292.0 355.2,295.0 356.2,295.5 357.1,297.8 358.0,299.8 359.2,301.8 360.3,302.4 361.5,304.5 362.0,304.8" fill="#e3e3e3" stroke="#9a9a9a" stroke-width="0.5"/>
<polygon points="355.0,304.8 356.3,304.6 357.6,304.3 358.6,303.9 359.5,303.6 360.5,303.2 361.4,302.1 362.4,302.8 363.3,302.6 364.3,301.9 365.2,302.1 366.2,300.8 367.1,301.1 368.1,300.4 369.0,299.6 370.0,298.6 370.9,297.5 371.9,297.2 372.8,296.4 373.8,294.7 374.7,293.8 375.8,291.4 376.8,287.9 377.9,286.3 378.9,283.6 380.0,280.7 381.1,277.6 382.1,273.3 383.2,268.9 384.2,263.8 385.2,259.2 386.2,254.8 387.2,249.8 388.5,247.4 389.8,246.5 390.8,241.5 391.8,236.7 393.1,235.2 394.4,234.7 395.4,232.4 396.4,230.7 397.4,230.2 398.4,228.1 399.5,227.3 400.5,227.4 401.6,227.6 402.7,228.7 403.8,230.8 404.9,231.5 405.9,233.7 406.9,237.3 408.2,239.1 409.5,241.0 410.7,243.9 411.8,247.3 413.0,249.5 414.0,252.6 415.0,255.3 416.0,257.0 417.0,260.0 418.0,262.6 419.0,265.3 420.0,268.9 421.0,271.0 422.0,275.0 423.0,276.9 424.0,280.2 425.0,284.0 426.0,286.1 427.0,288.6 428.0,291.5 429.0,294.1 430.0,296.5 431.0,297.3 432.0,298.0 433.0,299.9 434.0,301.0 435.0,302.4 436.0,303.5 437.0,303.8 438.0,304.1 439.0,304.5 440.0,304.8" fill="#c4c4c4" stroke="#8a8a8a" stroke-width="0.5"/>
<polygon points="358.0,304.8 358.9,304.4 359.8,304.1 360.8,303.7 361.7,304.0 362.6,303.2 363.5,302.6 364.5,302.4 365.4,302.1 366.3,300.9 367.2,301.7 368.2,301.1 369.1,300.9 370.0,300.0 371.0,299.4 372.0,297.8 373.0,296.9 374.0,295.4 375.0,295.2 376.0,293.4 377.0,292.4 378.0,292.0 379.0,289.3 380.0,286.9 381.0,284.8 382.0,282.0 383.0,279.6 384.0,278.0 385.0,273.9 386.0,270.2 387.0,267.0 388.0,262.9 389.0,260.0 390.0,257.8 391.0,254.7 392.0,251.3 393.0,249.0 394.0,246.2 395.0,243.8 396.0,241.3 397.0,239.0 398.0,236.8 399.0,236.2 400.0,234.0 401.0,234.0 402.0,232.6 403.0,232.0 404.0,232.8 405.0,233.1 406.0,234.5 407.0,234.9 407.9,236.1 408.9,237.3 409.9,239.6 411.0,243.0 412.0,244.7 413.1,247.2 414.1,250.5 415.0,253.8 416.0,255.8 416.9,257.9 417.9,261.1 418.8,263.0 419.8,266.3 420.7,268.9 421.8,272.7 422.8,275.7 423.9,278.6 424.9,281.1 426.0,284.6 427.0,286.8 428.1,288.9 429.1,292.1 430.2,294.2 431.2,296.5 432.1,298.1 433.1,298.8 434.1,299.9 435.0,301.5 436.0,302.6 437.1,303.6 438.1,303.6 439.1,304.3 440.1,304.6 441.0,304.8" fill="#e23b3b" stroke="#e85050" stroke-width="0.4"/>
<polygon points="359.0,304.8 359.9,304.4 360.8,303.9 361.7,303.8 362.6,303.4 363.5,302.9 364.4,302.4 365.4,301.5 366.3,301.3 367.2,300.7 368.1,299.9 369.0,299.5 369.9,299.3 370.8,299.1 371.8,297.9 372.8,297.3 373.8,296.6 374.8,295.1 375.7,294.6 376.7,293.7 377.7,292.6 378.7,291.2 379.7,288.2 380.8,285.2 381.8,282.3 382.9,279.4 383.9,276.8 385.0,272.8 386.0,269.6 387.1,266.2 388.1,262.4 389.2,258.4 390.2,255.7 391.1,253.3 392.1,250.7 393.1,247.8 394.1,244.9 395.1,243.1 396.0,240.9 397.0,238.0 398.4,237.3 399.7,236.0 401.0,235.6 402.3,234.7 403.4,235.5 404.5,236.1 405.6,237.3 406.7,239.1 407.8,240.2 408.9,241.9 409.9,244.7 410.9,247.3 411.8,249.2 412.8,251.8 413.8,254.3 414.8,257.5 415.8,259.9 416.8,262.3 417.8,264.6 418.8,267.2 419.7,269.8 420.7,272.8 421.7,276.5 422.6,279.7 423.6,282.3 424.6,286.0 425.7,288.7 426.7,291.2 427.8,293.2 428.8,295.3 429.9,297.8 430.8,298.7 431.8,299.1 432.7,299.8 433.7,301.6 434.6,302.2 435.6,302.9 436.5,303.7 437.5,303.9 438.6,304.1 439.6,304.4 440.7,304.6 441.7,304.8" fill="#a01f22"/>
<polygon points="391.8,243.0 394.4,236.0 398.4,229.5 401.6,229.0 404.9,232.5 406.9,237.3 405.6,237.3 402.3,234.7 399.7,236.0 397.0,238.0 393.1,247.8" fill="#8a4848" opacity="0.9"/>
<rect x="277.70" y="201.30" width="202.60" height="103.50" fill="none" stroke="#333" stroke-width="0.9"/>
<line x1="274.30" y1="304.80" x2="277.70" y2="304.80" stroke="#333" stroke-width="0.9"/>
<text x="271.90" y="306.50" font-size="4.7" text-anchor="end" fill="#444" font-weight="bold">0</text>
<line x1="276.30" y1="298.33" x2="277.70" y2="298.33" stroke="#333" stroke-width="0.6"/>
<line x1="276.30" y1="291.86" x2="277.70" y2="291.86" stroke="#333" stroke-width="0.6"/>
<line x1="276.30" y1="285.39" x2="277.70" y2="285.39" stroke="#333" stroke-width="0.6"/>
<line x1="274.30" y1="278.93" x2="277.70" y2="278.93" stroke="#333" stroke-width="0.9"/>
<text x="271.90" y="280.62" font-size="4.7" text-anchor="end" fill="#444" font-weight="bold">200</text>
<line x1="276.30" y1="272.46" x2="277.70" y2="272.46" stroke="#333" stroke-width="0.6"/>
<line x1="276.30" y1="265.99" x2="277.70" y2="265.99" stroke="#333" stroke-width="0.6"/>
<line x1="276.30" y1="259.52" x2="277.70" y2="259.52" stroke="#333" stroke-width="0.6"/>
<line x1="274.30" y1="253.05" x2="277.70" y2="253.05" stroke="#333" stroke-width="0.9"/>
<text x="271.90" y="254.75" font-size="4.7" text-anchor="end" fill="#444" font-weight="bold">400</text>
<line x1="276.30" y1="246.58" x2="277.70" y2="246.58" stroke="#333" stroke-width="0.6"/>
<line x1="276.30" y1="240.11" x2="277.70" y2="240.11" stroke="#333" stroke-width="0.6"/>
<line x1="276.30" y1="233.64" x2="277.70" y2="233.64" stroke="#333" stroke-width="0.6"/>
<line x1="274.30" y1="227.18" x2="277.70" y2="227.18" stroke="#333" stroke-width="0.9"/>
<text x="271.90" y="228.88" font-size="4.7" text-anchor="end" fill="#444" font-weight="bold">600</text>
<line x1="276.30" y1="220.71" x2="277.70" y2="220.71" stroke="#333" stroke-width="0.6"/>
<line x1="276.30" y1="214.24" x2="277.70" y2="214.24" stroke="#333" stroke-width="0.6"/>
<line x1="276.30" y1="207.77" x2="277.70" y2="207.77" stroke="#333" stroke-width="0.6"/>
<line x1="274.30" y1="201.30" x2="277.70" y2="201.30" stroke="#333" stroke-width="0.9"/>
<text x="271.90" y="205.40" font-size="4.7" text-anchor="end" fill="#444" font-weight="bold">800</text>
<text x="258.70" y="255.20" font-size="9" text-anchor="middle" fill="#222" transform="rotate(-90 258.70 255.20)">Count</text>
<line x1="289.90" y1="304.80" x2="289.90" y2="307.10" stroke="#222" stroke-width="0.9"/>
<text x="292.5" y="314.4" font-size="4.3" text-anchor="middle" fill="#333">10<tspan font-size="3.0" dy="-2">1</tspan></text>
<line x1="336.80" y1="304.80" x2="336.80" y2="307.10" stroke="#222" stroke-width="0.9"/>
<text x="339.4" y="314.4" font-size="4.3" text-anchor="middle" fill="#333">10<tspan font-size="3.0" dy="-2">2</tspan></text>
<line x1="395.30" y1="304.80" x2="395.30" y2="307.10" stroke="#222" stroke-width="0.9"/>
<text x="397.9" y="314.4" font-size="4.3" text-anchor="middle" fill="#333">10<tspan font-size="3.0" dy="-2">3</tspan></text>
<line x1="454.80" y1="304.80" x2="454.80" y2="307.10" stroke="#222" stroke-width="0.9"/>
<text x="457.4" y="314.4" font-size="4.3" text-anchor="middle" fill="#333">10<tspan font-size="3.0" dy="-2">4</tspan></text>
<line x1="304.02" y1="304.80" x2="304.02" y2="306.30" stroke="#333" stroke-width="0.6"/>
<line x1="312.28" y1="304.80" x2="312.28" y2="306.30" stroke="#333" stroke-width="0.6"/>
<line x1="318.14" y1="304.80" x2="318.14" y2="306.30" stroke="#333" stroke-width="0.6"/>
<line x1="322.68" y1="304.80" x2="322.68" y2="306.30" stroke="#333" stroke-width="0.6"/>
<line x1="326.40" y1="304.80" x2="326.40" y2="306.30" stroke="#333" stroke-width="0.6"/>
<line x1="329.54" y1="304.80" x2="329.54" y2="306.30" stroke="#333" stroke-width="0.6"/>
<line x1="332.25" y1="304.80" x2="332.25" y2="306.30" stroke="#333" stroke-width="0.6"/>
<line x1="334.65" y1="304.80" x2="334.65" y2="306.30" stroke="#333" stroke-width="0.6"/>
<line x1="354.41" y1="304.80" x2="354.41" y2="306.30" stroke="#333" stroke-width="0.6"/>
<line x1="364.71" y1="304.80" x2="364.71" y2="306.30" stroke="#333" stroke-width="0.6"/>
<line x1="372.02" y1="304.80" x2="372.02" y2="306.30" stroke="#333" stroke-width="0.6"/>
<line x1="377.69" y1="304.80" x2="377.69" y2="306.30" stroke="#333" stroke-width="0.6"/>
<line x1="382.32" y1="304.80" x2="382.32" y2="306.30" stroke="#333" stroke-width="0.6"/>
<line x1="386.24" y1="304.80" x2="386.24" y2="306.30" stroke="#333" stroke-width="0.6"/>
<line x1="389.63" y1="304.80" x2="389.63" y2="306.30" stroke="#333" stroke-width="0.6"/>
<line x1="392.62" y1="304.80" x2="392.62" y2="306.30" stroke="#333" stroke-width="0.6"/>
<line x1="413.21" y1="304.80" x2="413.21" y2="306.30" stroke="#333" stroke-width="0.6"/>
<line x1="423.69" y1="304.80" x2="423.69" y2="306.30" stroke="#333" stroke-width="0.6"/>
<line x1="431.12" y1="304.80" x2="431.12" y2="306.30" stroke="#333" stroke-width="0.6"/>
<line x1="436.89" y1="304.80" x2="436.89" y2="306.30" stroke="#333" stroke-width="0.6"/>
<line x1="441.60" y1="304.80" x2="441.60" y2="306.30" stroke="#333" stroke-width="0.6"/>
<line x1="445.58" y1="304.80" x2="445.58" y2="306.30" stroke="#333" stroke-width="0.6"/>
<line x1="449.03" y1="304.80" x2="449.03" y2="306.30" stroke="#333" stroke-width="0.6"/>
<line x1="452.08" y1="304.80" x2="452.08" y2="306.30" stroke="#333" stroke-width="0.6"/>
<line x1="472.71" y1="304.80" x2="472.71" y2="306.30" stroke="#333" stroke-width="0.6"/>
<line x1="281.10" y1="304.80" x2="281.10" y2="306.30" stroke="#333" stroke-width="0.6"/>
<line x1="282.80" y1="304.80" x2="282.80" y2="306.30" stroke="#333" stroke-width="0.6"/>
<line x1="284.60" y1="304.80" x2="284.60" y2="306.30" stroke="#333" stroke-width="0.6"/>
<line x1="286.40" y1="304.80" x2="286.40" y2="306.30" stroke="#333" stroke-width="0.6"/>
<line x1="288.10" y1="304.80" x2="288.10" y2="306.30" stroke="#333" stroke-width="0.6"/>
<text x="380.50" y="323.40" font-size="8.7" text-anchor="middle" fill="#222">APC-A (CellROX Deep Red)</text>
<rect x="295.00" y="330.20" width="9.00" height="9.40" fill="#cccccc" stroke="none" stroke-width="1"/>
<text x="307.40" y="338.60" font-size="8.6" text-anchor="start" fill="#222">Unlabeled cells</text>
<rect x="295.00" y="340.70" width="9.00" height="9.40" fill="#6b6b6b" stroke="none" stroke-width="1"/>
<text x="307.40" y="349.20" font-size="8.6" text-anchor="start" fill="#222">Control (DMSO)</text>
<rect x="295.00" y="351.80" width="9.00" height="9.40" fill="#b84848" stroke="none" stroke-width="1"/>
<text x="307.40" y="359.70" font-size="8.6" text-anchor="start" fill="#222">8h KU55933</text>
<rect x="385.60" y="338.60" width="9.00" height="9.40" fill="#e02a2a" stroke="none" stroke-width="1"/>
<text x="398.00" y="347.00" font-size="8.6" text-anchor="start" fill="#222">24h KU55933</text>
<rect x="385.60" y="349.70" width="9.00" height="9.40" fill="#6a0f10" stroke="none" stroke-width="1"/>
<text x="398.00" y="357.80" font-size="8.6" text-anchor="start" fill="#222">48h KU55933</text>
<text x="511.60" y="198.00" font-size="15" text-anchor="start" fill="#000" font-weight="bold">D</text>
<line x1="565.90" y1="203.40" x2="565.90" y2="316.90" stroke="#333" stroke-width="1.2"/>
<line x1="565.40" y1="316.40" x2="679.50" y2="316.40" stroke="#333" stroke-width="1.2"/>
<line x1="560.90" y1="316.40" x2="565.90" y2="316.40" stroke="#333" stroke-width="1.0"/>
<text x="560.10" y="319.30" font-size="8.2" text-anchor="end" fill="#222">0</text>
<line x1="560.90" y1="293.90" x2="565.90" y2="293.90" stroke="#333" stroke-width="1.0"/>
<text x="560.10" y="296.80" font-size="8.2" text-anchor="end" fill="#222">500</text>
<line x1="560.90" y1="271.40" x2="565.90" y2="271.40" stroke="#333" stroke-width="1.0"/>
<text x="560.10" y="274.30" font-size="8.2" text-anchor="end" fill="#222">1000</text>
<line x1="560.90" y1="248.90" x2="565.90" y2="248.90" stroke="#333" stroke-width="1.0"/>
<text x="560.10" y="251.80" font-size="8.2" text-anchor="end" fill="#222">1500</text>
<line x1="560.90" y1="226.40" x2="565.90" y2="226.40" stroke="#333" stroke-width="1.0"/>
<text x="560.10" y="229.30" font-size="8.2" text-anchor="end" fill="#222">2000</text>
<line x1="560.90" y1="203.90" x2="565.90" y2="203.90" stroke="#333" stroke-width="1.0"/>
<text x="560.10" y="206.80" font-size="8.2" text-anchor="end" fill="#222">2500</text>
<line x1="580.10" y1="316.40" x2="580.10" y2="320.40" stroke="#222" stroke-width="0.9"/>
<line x1="601.60" y1="316.40" x2="601.60" y2="320.40" stroke="#222" stroke-width="0.9"/>
<line x1="623.00" y1="316.40" x2="623.00" y2="320.40" stroke="#222" stroke-width="0.9"/>
<line x1="644.30" y1="316.40" x2="644.30" y2="320.40" stroke="#222" stroke-width="0.9"/>
<line x1="665.50" y1="316.40" x2="665.50" y2="320.40" stroke="#222" stroke-width="0.9"/>
<text x="527.30" y="261.50" font-size="8.8" text-anchor="middle" fill="#222" transform="rotate(-90 527.30 261.50)">CellROX® Red</text>
<text x="536.80" y="254.80" font-size="8.5" text-anchor="middle" fill="#222" transform="rotate(-90 536.80 254.80)">(fluorescence intensity)</text>
<line x1="575.10" y1="313.90" x2="585.00" y2="313.00" stroke="#111" stroke-width="2.0"/>
<circle cx="575.10" cy="313.90" r="2.5" fill="#111" stroke="none" stroke-width="1"/>
<circle cx="585.00" cy="313.00" r="2.5" fill="#111" stroke="none" stroke-width="1"/>
<line x1="601.70" y1="235.20" x2="601.70" y2="266.00" stroke="#111" stroke-width="0.9"/>
<line x1="598.40" y1="235.20" x2="605.00" y2="235.20" stroke="#111" stroke-width="0.9"/>
<line x1="597.20" y1="266.00" x2="606.80" y2="266.00" stroke="#111" stroke-width="1.2"/>
<circle cx="601.70" cy="235.20" r="2.5" fill="#111" stroke="none" stroke-width="1"/>
<circle cx="597.20" cy="266.00" r="2.5" fill="#111" stroke="none" stroke-width="1"/>
<circle cx="606.80" cy="266.00" r="2.5" fill="#111" stroke="none" stroke-width="1"/>
<line x1="623.00" y1="250.40" x2="623.00" y2="265.50" stroke="#e8413c" stroke-width="0.9"/>
<line x1="619.60" y1="250.40" x2="626.40" y2="250.40" stroke="#e8413c" stroke-width="0.9"/>
<line x1="619.60" y1="265.50" x2="626.40" y2="265.50" stroke="#e8413c" stroke-width="0.9"/>
<line x1="615.70" y1="257.30" x2="630.30" y2="257.30" stroke="#e8413c" stroke-width="1.0"/>
<circle cx="618.00" cy="255.50" r="2.5" fill="#e8413c" stroke="none" stroke-width="1"/>
<circle cx="623.00" cy="250.40" r="2.5" fill="#e8413c" stroke="none" stroke-width="1"/>
<circle cx="627.90" cy="259.20" r="2.5" fill="#e8413c" stroke="none" stroke-width="1"/>
<circle cx="623.00" cy="265.50" r="2.5" fill="#e8413c" stroke="none" stroke-width="1"/>
<line x1="639.40" y1="258.60" x2="649.00" y2="258.60" stroke="#e8413c" stroke-width="1.0"/>
<line x1="644.30" y1="258.60" x2="644.30" y2="268.30" stroke="#e8413c" stroke-width="0.9"/>
<circle cx="639.40" cy="258.60" r="2.5" fill="#e8413c" stroke="none" stroke-width="1"/>
<circle cx="649.00" cy="258.60" r="2.5" fill="#e8413c" stroke="none" stroke-width="1"/>
<circle cx="644.30" cy="268.30" r="2.5" fill="#e8413c" stroke="none" stroke-width="1"/>
<line x1="665.50" y1="254.20" x2="665.50" y2="267.40" stroke="#e8413c" stroke-width="0.9"/>
<line x1="662.10" y1="254.20" x2="668.90" y2="254.20" stroke="#e8413c" stroke-width="0.9"/>
<line x1="658.50" y1="267.40" x2="673.10" y2="267.40" stroke="#e8413c" stroke-width="1.0"/>
<circle cx="665.50" cy="254.20" r="2.5" fill="#e8413c" stroke="none" stroke-width="1"/>
<circle cx="665.50" cy="261.50" r="2.5" fill="#e8413c" stroke="none" stroke-width="1"/>
<circle cx="660.70" cy="272.80" r="2.5" fill="#e8413c" stroke="none" stroke-width="1"/>
<circle cx="670.40" cy="272.80" r="2.5" fill="#e8413c" stroke="none" stroke-width="1"/>
<text x="584.30" y="328.70" font-size="8.3" text-anchor="end" fill="#222" transform="rotate(-45 584.30 328.70)">Unlabeled</text>
<text x="605.80" y="328.70" font-size="8.3" text-anchor="end" fill="#222" transform="rotate(-45 605.80 328.70)">Control</text>
<text x="627.20" y="328.70" font-size="8.3" text-anchor="end" fill="#222" transform="rotate(-45 627.20 328.70)">8h</text>
<text x="648.50" y="328.70" font-size="8.3" text-anchor="end" fill="#222" transform="rotate(-45 648.50 328.70)">24h</text>
<text x="669.70" y="328.70" font-size="8.3" text-anchor="end" fill="#222" transform="rotate(-45 669.70 328.70)">48h</text>
<line x1="617.00" y1="342.20" x2="670.80" y2="342.20" stroke="#222" stroke-width="0.9"/>
<line x1="617.00" y1="339.50" x2="617.00" y2="342.60" stroke="#222" stroke-width="0.9"/>
<line x1="670.80" y1="339.50" x2="670.80" y2="342.60" stroke="#222" stroke-width="0.9"/>
<text x="644.20" y="351.00" font-size="8.4" text-anchor="middle" fill="#222">KU55933</text>
<text x="1.00" y="387.90" font-size="15" text-anchor="start" fill="#000" font-weight="bold">E</text>
<line x1="53.40" y1="400.10" x2="68.30" y2="400.10" stroke="#444" stroke-width="1.0"/>
<text x="76.20" y="403.20" font-size="9.3" text-anchor="start" fill="#222">Control</text>
<line x1="53.40" y1="411.50" x2="68.30" y2="411.50" stroke="#f06068" stroke-width="1.0"/>
<text x="76.20" y="414.90" font-size="9.3" text-anchor="start" fill="#222" letter-spacing="-0.45">KU55933</text>
<line x1="124.10" y1="399.80" x2="139.20" y2="399.80" stroke="#56c1f0" stroke-width="1.0"/>
<text x="147.40" y="402.90" font-size="9.3" text-anchor="start" fill="#222">NAC</text>
<line x1="124.10" y1="411.30" x2="139.20" y2="411.30" stroke="#3a55b0" stroke-width="1.0"/>
<text x="147.40" y="413.20" font-size="9.3" text-anchor="start" fill="#222" letter-spacing="-0.45">KU+NAC</text>
<line x1="35.80" y1="523.00" x2="188.50" y2="523.00" stroke="#9c9c9c" stroke-width="1.15" stroke-dasharray="3.6,3.4"/>
<line x1="35.80" y1="503.80" x2="188.50" y2="503.80" stroke="#9c9c9c" stroke-width="1.15" stroke-dasharray="3.6,3.4"/>
<line x1="35.80" y1="484.60" x2="188.50" y2="484.60" stroke="#9c9c9c" stroke-width="1.15" stroke-dasharray="3.6,3.4"/>
<line x1="35.80" y1="465.40" x2="188.50" y2="465.40" stroke="#9c9c9c" stroke-width="1.15" stroke-dasharray="3.6,3.4"/>
<line x1="35.80" y1="446.20" x2="188.50" y2="446.20" stroke="#9c9c9c" stroke-width="1.15" stroke-dasharray="3.6,3.4"/>
<line x1="65.50" y1="427.00" x2="65.50" y2="542.20" stroke="#9c9c9c" stroke-width="1.15" stroke-dasharray="3.6,3.4"/>
<line x1="95.20" y1="427.00" x2="95.20" y2="542.20" stroke="#9c9c9c" stroke-width="1.15" stroke-dasharray="3.6,3.4"/>
<line x1="124.90" y1="427.00" x2="124.90" y2="542.20" stroke="#9c9c9c" stroke-width="1.15" stroke-dasharray="3.6,3.4"/>
<line x1="154.60" y1="427.00" x2="154.60" y2="542.20" stroke="#9c9c9c" stroke-width="1.15" stroke-dasharray="3.6,3.4"/>
<line x1="184.30" y1="427.00" x2="184.30" y2="542.20" stroke="#9c9c9c" stroke-width="1.15" stroke-dasharray="3.6,3.4"/>
<rect x="35.80" y="427.00" width="152.70" height="115.20" fill="none" stroke="#a0a0a0" stroke-width="1.2"/>
<line x1="35.80" y1="427.00" x2="35.80" y2="542.20" stroke="#8c8c8c" stroke-width="1.3"/>
<line x1="35.80" y1="542.20" x2="188.50" y2="542.20" stroke="#8c8c8c" stroke-width="1.3"/>
<line x1="34.20" y1="523.00" x2="35.80" y2="523.00" stroke="#8c8c8c" stroke-width="0.9"/>
<text x="29.90" y="526.10" font-size="8.6" text-anchor="end" fill="#333" letter-spacing="-0.5">5</text>
<line x1="34.20" y1="503.80" x2="35.80" y2="503.80" stroke="#8c8c8c" stroke-width="0.9"/>
<text x="29.90" y="506.90" font-size="8.6" text-anchor="end" fill="#333" letter-spacing="-0.5">10</text>
<line x1="34.20" y1="484.60" x2="35.80" y2="484.60" stroke="#8c8c8c" stroke-width="0.9"/>
<text x="29.90" y="487.70" font-size="8.6" text-anchor="end" fill="#333" letter-spacing="-0.5">15</text>
<line x1="34.20" y1="465.40" x2="35.80" y2="465.40" stroke="#8c8c8c" stroke-width="0.9"/>
<text x="29.90" y="468.50" font-size="8.6" text-anchor="end" fill="#333" letter-spacing="-0.5">20</text>
<line x1="34.20" y1="446.20" x2="35.80" y2="446.20" stroke="#8c8c8c" stroke-width="0.9"/>
<text x="29.90" y="449.30" font-size="8.6" text-anchor="end" fill="#333" letter-spacing="-0.5">25</text>
<line x1="34.20" y1="427.00" x2="35.80" y2="427.00" stroke="#8c8c8c" stroke-width="0.9"/>
<text x="29.90" y="433.30" font-size="8.6" text-anchor="end" fill="#333" letter-spacing="-0.5">30</text>
<line x1="65.50" y1="542.20" x2="65.50" y2="544.00" stroke="#8c8c8c" stroke-width="0.9"/>
<text x="64.30" y="553.60" font-size="8.5" text-anchor="middle" fill="#333" letter-spacing="-0.3">20</text>
<line x1="95.20" y1="542.20" x2="95.20" y2="544.00" stroke="#8c8c8c" stroke-width="0.9"/>
<text x="94.00" y="553.60" font-size="8.5" text-anchor="middle" fill="#333" letter-spacing="-0.3">40</text>
<line x1="124.90" y1="542.20" x2="124.90" y2="544.00" stroke="#8c8c8c" stroke-width="0.9"/>
<text x="123.70" y="553.60" font-size="8.5" text-anchor="middle" fill="#333" letter-spacing="-0.3">60</text>
<line x1="154.60" y1="542.20" x2="154.60" y2="544.00" stroke="#8c8c8c" stroke-width="0.9"/>
<text x="153.40" y="553.60" font-size="8.5" text-anchor="middle" fill="#333" letter-spacing="-0.3">80</text>
<line x1="184.30" y1="542.20" x2="184.30" y2="544.00" stroke="#8c8c8c" stroke-width="0.9"/>
<text x="183.10" y="553.60" font-size="8.5" text-anchor="middle" fill="#333" letter-spacing="-0.3">100</text>
<text x="28.00" y="553.20" font-size="8.5" text-anchor="middle" fill="#333">0</text>
<text x="42.10" y="435.70" font-size="8.45" text-anchor="start" fill="#222" font-weight="bold">Aerobic</text>
<text x="186.90" y="435.50" font-size="8.45" text-anchor="end" fill="#222" font-weight="bold">Energetic</text>
<text x="40.30" y="538.80" font-size="8.45" text-anchor="start" fill="#222" font-weight="bold">Quiescent</text>
<text x="185.30" y="539.90" font-size="8.35" text-anchor="end" fill="#222" font-weight="bold">Glycolytic</text>
<text x="116.60" y="564.80" font-size="8.8" text-anchor="middle" fill="#222">Glycolysis</text>
<text x="115.50" y="576.20" font-size="8.85" text-anchor="middle" fill="#222">ECAR (mpH/min)</text>
<text x="7.60" y="485.90" font-size="9.2" text-anchor="middle" fill="#222" transform="rotate(-90 7.60 485.90)">Mitochondrial Respiration</text>
<text x="19.20" y="485.90" font-size="8.9" text-anchor="middle" fill="#222" transform="rotate(-90 19.20 485.90)">OCR (pmol/min)</text>
<line x1="92.30" y1="490.70" x2="126.40" y2="451.00" stroke="#222" stroke-width="0.95" stroke-dasharray="2.4,1.4"/>
<line x1="93.10" y1="498.20" x2="127.70" y2="455.70" stroke="#56aee6" stroke-width="0.95" stroke-dasharray="2.4,1.4"/>
<line x1="105.90" y1="503.40" x2="137.50" y2="486.80" stroke="#3a55b0" stroke-width="0.95" stroke-dasharray="2.4,1.4"/>
<line x1="112.40" y1="512.20" x2="140.40" y2="508.70" stroke="#f04a50" stroke-width="0.95" stroke-dasharray="2.4,1.4"/>
<line x1="87.90" y1="490.70" x2="97.50" y2="490.70" stroke="#111" stroke-width="0.9"/>
<line x1="92.30" y1="479.30" x2="92.30" y2="497.00" stroke="#111" stroke-width="0.9"/>
<line x1="87.90" y1="489.10" x2="87.90" y2="492.30" stroke="#111" stroke-width="0.9"/>
<line x1="97.50" y1="489.10" x2="97.50" y2="492.30" stroke="#111" stroke-width="0.9"/>
<line x1="90.70" y1="479.30" x2="93.90" y2="479.30" stroke="#111" stroke-width="0.9"/>
<line x1="90.70" y1="497.00" x2="93.90" y2="497.00" stroke="#111" stroke-width="0.9"/>
<line x1="87.40" y1="498.20" x2="100.10" y2="498.20" stroke="#111" stroke-width="0.9"/>
<line x1="93.10" y1="495.00" x2="93.10" y2="502.90" stroke="#111" stroke-width="0.9"/>
<line x1="87.40" y1="496.60" x2="87.40" y2="499.80" stroke="#111" stroke-width="0.9"/>
<line x1="100.10" y1="496.60" x2="100.10" y2="499.80" stroke="#111" stroke-width="0.9"/>
<line x1="91.50" y1="495.00" x2="94.70" y2="495.00" stroke="#111" stroke-width="0.9"/>
<line x1="91.50" y1="502.90" x2="94.70" y2="502.90" stroke="#111" stroke-width="0.9"/>
<line x1="103.50" y1="503.40" x2="108.30" y2="503.40" stroke="#111" stroke-width="0.9"/>
<line x1="105.90" y1="497.70" x2="105.90" y2="511.70" stroke="#111" stroke-width="0.9"/>
<line x1="103.50" y1="501.80" x2="103.50" y2="505.00" stroke="#111" stroke-width="0.9"/>
<line x1="108.30" y1="501.80" x2="108.30" y2="505.00" stroke="#111" stroke-width="0.9"/>
<line x1="104.30" y1="497.70" x2="107.50" y2="497.70" stroke="#111" stroke-width="0.9"/>
<line x1="104.30" y1="511.70" x2="107.50" y2="511.70" stroke="#111" stroke-width="0.9"/>
<line x1="106.30" y1="512.20" x2="118.50" y2="512.20" stroke="#111" stroke-width="0.9"/>
<line x1="112.40" y1="509.00" x2="112.40" y2="515.00" stroke="#111" stroke-width="0.9"/>
<line x1="106.30" y1="510.60" x2="106.30" y2="513.80" stroke="#111" stroke-width="0.9"/>
<line x1="118.50" y1="510.60" x2="118.50" y2="513.80" stroke="#111" stroke-width="0.9"/>
<line x1="110.80" y1="509.00" x2="114.00" y2="509.00" stroke="#111" stroke-width="0.9"/>
<line x1="110.80" y1="515.00" x2="114.00" y2="515.00" stroke="#111" stroke-width="0.9"/>
<line x1="117.70" y1="451.00" x2="135.20" y2="451.00" stroke="#111" stroke-width="0.9"/>
<line x1="126.40" y1="444.50" x2="126.40" y2="457.00" stroke="#111" stroke-width="0.9"/>
<line x1="117.70" y1="449.40" x2="117.70" y2="452.60" stroke="#111" stroke-width="0.9"/>
<line x1="135.20" y1="449.40" x2="135.20" y2="452.60" stroke="#111" stroke-width="0.9"/>
<line x1="124.80" y1="444.50" x2="128.00" y2="444.50" stroke="#111" stroke-width="0.9"/>
<line x1="124.80" y1="457.00" x2="128.00" y2="457.00" stroke="#111" stroke-width="0.9"/>
<line x1="121.20" y1="455.70" x2="134.30" y2="455.70" stroke="#111" stroke-width="0.9"/>
<line x1="127.70" y1="451.80" x2="127.70" y2="464.10" stroke="#111" stroke-width="0.9"/>
<line x1="121.20" y1="454.10" x2="121.20" y2="457.30" stroke="#111" stroke-width="0.9"/>
<line x1="134.30" y1="454.10" x2="134.30" y2="457.30" stroke="#111" stroke-width="0.9"/>
<line x1="126.10" y1="451.80" x2="129.30" y2="451.80" stroke="#111" stroke-width="0.9"/>
<line x1="126.10" y1="464.10" x2="129.30" y2="464.10" stroke="#111" stroke-width="0.9"/>
<line x1="127.30" y1="486.80" x2="147.40" y2="486.80" stroke="#111" stroke-width="0.9"/>
<line x1="137.50" y1="484.50" x2="137.50" y2="489.00" stroke="#111" stroke-width="0.9"/>
<line x1="127.30" y1="485.20" x2="127.30" y2="488.40" stroke="#111" stroke-width="0.9"/>
<line x1="147.40" y1="485.20" x2="147.40" y2="488.40" stroke="#111" stroke-width="0.9"/>
<line x1="135.90" y1="484.50" x2="139.10" y2="484.50" stroke="#111" stroke-width="0.9"/>
<line x1="135.90" y1="489.00" x2="139.10" y2="489.00" stroke="#111" stroke-width="0.9"/>
<line x1="130.50" y1="508.70" x2="151.00" y2="508.70" stroke="#111" stroke-width="0.9"/>
<line x1="140.40" y1="506.50" x2="140.40" y2="511.00" stroke="#111" stroke-width="0.9"/>
<line x1="130.50" y1="507.10" x2="130.50" y2="510.30" stroke="#111" stroke-width="0.9"/>
<line x1="151.00" y1="507.10" x2="151.00" y2="510.30" stroke="#111" stroke-width="0.9"/>
<line x1="138.80" y1="506.50" x2="142.00" y2="506.50" stroke="#111" stroke-width="0.9"/>
<line x1="138.80" y1="511.00" x2="142.00" y2="511.00" stroke="#111" stroke-width="0.9"/>
<rect x="90.00" y="488.40" width="4.60" height="4.60" fill="#fff" stroke="#111" stroke-width="1.0"/>
<rect x="90.80" y="495.90" width="4.60" height="4.60" fill="#fff" stroke="#5aaee6" stroke-width="1.1"/>
<rect x="103.70" y="501.20" width="4.40" height="4.40" fill="#fff" stroke="#3a55b0" stroke-width="1.0"/>
<rect x="110.20" y="510.00" width="4.40" height="4.40" fill="#fff" stroke="#f04a50" stroke-width="1.0"/>
<rect x="124.00" y="448.60" width="4.80" height="4.80" fill="#111" stroke="#111" stroke-width="1.0"/>
<rect x="125.30" y="453.30" width="4.80" height="4.80" fill="#3d7cc9" stroke="#3d7cc9" stroke-width="1.0"/>
<circle cx="137.50" cy="486.80" r="2.7" fill="#2f3f9f" stroke="none" stroke-width="1"/>
<circle cx="140.40" cy="508.70" r="2.7" fill="#e82828" stroke="none" stroke-width="1"/>
<line x1="103.70" y1="503.40" x2="108.10" y2="503.40" stroke="#111" stroke-width="0.7"/>
<line x1="105.90" y1="501.20" x2="105.90" y2="505.60" stroke="#111" stroke-width="0.7"/>
<line x1="110.20" y1="512.20" x2="114.60" y2="512.20" stroke="#111" stroke-width="0.7"/>
<line x1="112.40" y1="510.00" x2="112.40" y2="514.40" stroke="#111" stroke-width="0.7"/>
<text x="200.00" y="387.90" font-size="15" text-anchor="start" fill="#000" font-weight="bold">F</text>
<defs>
<radialGradient id="gBlue" cx="0.5" cy="0.5" r="0.7"><stop offset="0" stop-color="#d6ecf8"/><stop offset="1" stop-color="#9fd0ef"/></radialGradient>
<radialGradient id="gGreen" cx="0.5" cy="0.55" r="0.7"><stop offset="0" stop-color="#eaf5ec"/><stop offset="1" stop-color="#bfe0c5"/></radialGradient>
<radialGradient id="gPurp" cx="0.5" cy="0.5" r="0.7"><stop offset="0" stop-color="#eadcec"/><stop offset="1" stop-color="#d9c2de"/></radialGradient>
<radialGradient id="gSlate" cx="0.5" cy="0.5" r="0.7"><stop offset="0" stop-color="#a9a6d0"/><stop offset="1" stop-color="#8b87bd"/></radialGradient>
<radialGradient id="gOrange" cx="0.5" cy="0.55" r="0.65"><stop offset="0" stop-color="#f9d3b3"/><stop offset="1" stop-color="#ee9f62"/></radialGradient>
</defs>
<rect x="245.50" y="482.20" width="34.00" height="58.60" fill="url(#gBlue)" stroke="none" stroke-width="1"/>
<rect x="279.50" y="482.20" width="46.40" height="39.50" fill="url(#gPurp)" stroke="none" stroke-width="1"/>
<rect x="281.00" y="521.70" width="44.90" height="19.10" fill="url(#gSlate)" stroke="none" stroke-width="1"/>
<rect x="327.00" y="443.90" width="45.40" height="96.90" fill="url(#gGreen)" stroke="none" stroke-width="1"/>
<line x1="279.50" y1="422.50" x2="279.50" y2="540.80" stroke="#7a7a7a" stroke-width="0.75" stroke-dasharray="2.2,1.4"/>
<line x1="326.50" y1="422.50" x2="326.50" y2="540.80" stroke="#7a7a7a" stroke-width="0.75" stroke-dasharray="2.2,1.4"/>
<line x1="372.40" y1="422.50" x2="372.40" y2="540.80" stroke="#7a7a7a" stroke-width="0.75" stroke-dasharray="2.2,1.4"/>
<text x="263.50" y="526.40" font-size="7.5" text-anchor="middle" fill="#555">Basal</text>
<text x="305.00" y="489.60" font-size="7.3" text-anchor="middle" fill="#555">ATP</text>
<text x="305.00" y="498.70" font-size="7.3" text-anchor="middle" fill="#555">Production</text>
<text x="302.70" y="537.40" font-size="7.4" text-anchor="middle" fill="#444">Proton leak</text>
<text x="347.90" y="431.90" font-size="7.1" text-anchor="middle" fill="#555">Maximal</text>
<text x="347.90" y="440.20" font-size="7.1" text-anchor="middle" fill="#555">Respiration</text>
<text x="258.30" y="420.50" font-size="8.3" text-anchor="start" fill="#222">Oligomycin</text>
<text x="327.00" y="420.50" font-size="8.3" text-anchor="middle" fill="#222">FCCP</text>
<text x="376.40" y="420.50" font-size="8.15" text-anchor="middle" fill="#222">Rot/AntA</text>
<rect x="373.90" y="444.30" width="13.90" height="36.70" fill="#19ad4e" stroke="none" stroke-width="1"/>
<path d="M374.8,444.3 L387.8,444.3 L387.8,481 L374.8,481" fill="none" stroke="#2a2a2a" stroke-width="0.7"/>
<line x1="387.80" y1="462.60" x2="400.30" y2="462.60" stroke="#333" stroke-width="0.8"/>
<text x="397.80" y="459.80" font-size="8.4" text-anchor="start" fill="#222" font-weight="bold">Spare</text>
<text x="397.80" y="470.50" font-size="8.4" text-anchor="start" fill="#222" font-weight="bold">Capacity</text>
<line x1="245.50" y1="401.20" x2="245.50" y2="540.80" stroke="#111" stroke-width="1.1"/>
<line x1="245.50" y1="540.80" x2="455.30" y2="540.80" stroke="#111" stroke-width="1.1"/>
<line x1="243.30" y1="540.80" x2="245.50" y2="540.80" stroke="#111" stroke-width="0.9"/>
<text x="241.70" y="543.60" font-size="8.4" text-anchor="end" fill="#222">0</text>
<line x1="243.30" y1="505.90" x2="245.50" y2="505.90" stroke="#111" stroke-width="0.9"/>
<text x="241.70" y="508.70" font-size="8.4" text-anchor="end" fill="#222">10</text>
<line x1="243.30" y1="471.00" x2="245.50" y2="471.00" stroke="#111" stroke-width="0.9"/>
<text x="241.70" y="473.80" font-size="8.4" text-anchor="end" fill="#222">20</text>
<line x1="243.30" y1="436.10" x2="245.50" y2="436.10" stroke="#111" stroke-width="0.9"/>
<text x="241.70" y="438.90" font-size="8.4" text-anchor="end" fill="#222">30</text>
<line x1="243.30" y1="401.20" x2="245.50" y2="401.20" stroke="#111" stroke-width="0.9"/>
<text x="241.70" y="404.00" font-size="8.4" text-anchor="end" fill="#222">40</text>
<line x1="245.50" y1="540.80" x2="245.50" y2="543.20" stroke="#111" stroke-width="0.9"/>
<text x="245.50" y="551.80" font-size="8.4" text-anchor="middle" fill="#222">0</text>
<line x1="287.46" y1="540.80" x2="287.46" y2="543.20" stroke="#111" stroke-width="0.9"/>
<text x="287.46" y="551.80" font-size="8.4" text-anchor="middle" fill="#222">20</text>
<line x1="329.42" y1="540.80" x2="329.42" y2="543.20" stroke="#111" stroke-width="0.9"/>
<text x="329.42" y="551.80" font-size="8.4" text-anchor="middle" fill="#222">40</text>
<line x1="371.38" y1="540.80" x2="371.38" y2="543.20" stroke="#111" stroke-width="0.9"/>
<text x="371.38" y="551.80" font-size="8.4" text-anchor="middle" fill="#222">60</text>
<line x1="413.34" y1="540.80" x2="413.34" y2="543.20" stroke="#111" stroke-width="0.9"/>
<text x="413.34" y="551.80" font-size="8.4" text-anchor="middle" fill="#222">80</text>
<line x1="455.30" y1="540.80" x2="455.30" y2="543.20" stroke="#111" stroke-width="0.9"/>
<text x="455.30" y="551.80" font-size="8.4" text-anchor="middle" fill="#222">100</text>
<text x="351.40" y="564.70" font-size="8.4" text-anchor="middle" fill="#222">Time (minutes)</text>
<text x="224.70" y="468.90" font-size="8.37" text-anchor="middle" fill="#222" transform="rotate(-90 224.70 468.90)">OCR (pmol/min/confluency)</text>
<line x1="247.10" y1="502.76" x2="247.10" y2="511.83" stroke="#1f9a4a" stroke-width="0.9"/>
<line x1="244.00" y1="502.76" x2="250.20" y2="502.76" stroke="#1f9a4a" stroke-width="1.0"/>
<line x1="244.00" y1="511.83" x2="250.20" y2="511.83" stroke="#1f9a4a" stroke-width="1.0"/>
<line x1="263.20" y1="501.71" x2="263.20" y2="512.88" stroke="#1f9a4a" stroke-width="0.9"/>
<line x1="260.10" y1="501.71" x2="266.30" y2="501.71" stroke="#1f9a4a" stroke-width="1.0"/>
<line x1="260.10" y1="512.88" x2="266.30" y2="512.88" stroke="#1f9a4a" stroke-width="1.0"/>
<line x1="278.60" y1="499.27" x2="278.60" y2="510.44" stroke="#1f9a4a" stroke-width="0.9"/>
<line x1="275.50" y1="499.27" x2="281.70" y2="499.27" stroke="#1f9a4a" stroke-width="1.0"/>
<line x1="275.50" y1="510.44" x2="281.70" y2="510.44" stroke="#1f9a4a" stroke-width="1.0"/>
<line x1="294.10" y1="519.51" x2="294.10" y2="529.98" stroke="#1f9a4a" stroke-width="0.9"/>
<line x1="291.00" y1="519.51" x2="297.20" y2="519.51" stroke="#1f9a4a" stroke-width="1.0"/>
<line x1="291.00" y1="529.98" x2="297.20" y2="529.98" stroke="#1f9a4a" stroke-width="1.0"/>
<line x1="310.50" y1="516.72" x2="310.50" y2="526.49" stroke="#1f9a4a" stroke-width="0.9"/>
<line x1="307.40" y1="516.72" x2="313.60" y2="516.72" stroke="#1f9a4a" stroke-width="1.0"/>
<line x1="307.40" y1="526.49" x2="313.60" y2="526.49" stroke="#1f9a4a" stroke-width="1.0"/>
<line x1="325.90" y1="517.77" x2="325.90" y2="526.84" stroke="#1f9a4a" stroke-width="0.9"/>
<line x1="322.80" y1="517.77" x2="329.00" y2="517.77" stroke="#1f9a4a" stroke-width="1.0"/>
<line x1="322.80" y1="526.84" x2="329.00" y2="526.84" stroke="#1f9a4a" stroke-width="1.0"/>
<line x1="341.30" y1="502.76" x2="341.30" y2="513.93" stroke="#1f9a4a" stroke-width="0.9"/>
<line x1="338.20" y1="502.76" x2="344.40" y2="502.76" stroke="#1f9a4a" stroke-width="1.0"/>
<line x1="338.20" y1="513.93" x2="344.40" y2="513.93" stroke="#1f9a4a" stroke-width="1.0"/>
<line x1="357.10" y1="498.57" x2="357.10" y2="509.74" stroke="#1f9a4a" stroke-width="0.9"/>
<line x1="354.00" y1="498.57" x2="360.20" y2="498.57" stroke="#1f9a4a" stroke-width="1.0"/>
<line x1="354.00" y1="509.74" x2="360.20" y2="509.74" stroke="#1f9a4a" stroke-width="1.0"/>
<line x1="372.40" y1="495.78" x2="372.40" y2="504.85" stroke="#1f9a4a" stroke-width="0.9"/>
<line x1="369.30" y1="495.78" x2="375.50" y2="495.78" stroke="#1f9a4a" stroke-width="1.0"/>
<line x1="369.30" y1="504.85" x2="375.50" y2="504.85" stroke="#1f9a4a" stroke-width="1.0"/>
<line x1="387.80" y1="523.00" x2="387.80" y2="532.07" stroke="#1f9a4a" stroke-width="0.9"/>
<line x1="384.70" y1="523.00" x2="390.90" y2="523.00" stroke="#1f9a4a" stroke-width="1.0"/>
<line x1="384.70" y1="532.07" x2="390.90" y2="532.07" stroke="#1f9a4a" stroke-width="1.0"/>
<line x1="403.40" y1="525.44" x2="403.40" y2="533.82" stroke="#1f9a4a" stroke-width="0.9"/>
<line x1="400.30" y1="525.44" x2="406.50" y2="525.44" stroke="#1f9a4a" stroke-width="1.0"/>
<line x1="400.30" y1="533.82" x2="406.50" y2="533.82" stroke="#1f9a4a" stroke-width="1.0"/>
<line x1="419.20" y1="519.16" x2="419.20" y2="530.33" stroke="#1f9a4a" stroke-width="0.9"/>
<line x1="416.10" y1="519.16" x2="422.30" y2="519.16" stroke="#1f9a4a" stroke-width="1.0"/>
<line x1="416.10" y1="530.33" x2="422.30" y2="530.33" stroke="#1f9a4a" stroke-width="1.0"/>
<polyline points="247.10,507.30 263.20,507.30 278.60,504.85 294.10,524.75 310.50,521.60 325.90,522.30 341.30,508.34 357.10,504.15 372.40,500.32 387.80,527.54 403.40,529.63 419.20,524.75" fill="none" stroke="#1f9a4a" stroke-width="1.3" stroke-linejoin="round"/>
<line x1="247.10" y1="489.15" x2="247.10" y2="499.62" stroke="#e8333a" stroke-width="0.9"/>
<line x1="244.00" y1="489.15" x2="250.20" y2="489.15" stroke="#e8333a" stroke-width="1.0"/>
<line x1="244.00" y1="499.62" x2="250.20" y2="499.62" stroke="#e8333a" stroke-width="1.0"/>
<line x1="263.20" y1="491.94" x2="263.20" y2="503.11" stroke="#e8333a" stroke-width="0.9"/>
<line x1="260.10" y1="491.94" x2="266.30" y2="491.94" stroke="#e8333a" stroke-width="1.0"/>
<line x1="260.10" y1="503.11" x2="266.30" y2="503.11" stroke="#e8333a" stroke-width="1.0"/>
<line x1="278.60" y1="491.24" x2="278.60" y2="501.71" stroke="#e8333a" stroke-width="0.9"/>
<line x1="275.50" y1="491.24" x2="281.70" y2="491.24" stroke="#e8333a" stroke-width="1.0"/>
<line x1="275.50" y1="501.71" x2="281.70" y2="501.71" stroke="#e8333a" stroke-width="1.0"/>
<line x1="294.10" y1="513.58" x2="294.10" y2="520.56" stroke="#e8333a" stroke-width="0.9"/>
<line x1="291.00" y1="513.58" x2="297.20" y2="513.58" stroke="#e8333a" stroke-width="1.0"/>
<line x1="291.00" y1="520.56" x2="297.20" y2="520.56" stroke="#e8333a" stroke-width="1.0"/>
<line x1="310.50" y1="511.13" x2="310.50" y2="518.81" stroke="#e8333a" stroke-width="0.9"/>
<line x1="307.40" y1="511.13" x2="313.60" y2="511.13" stroke="#e8333a" stroke-width="1.0"/>
<line x1="307.40" y1="518.81" x2="313.60" y2="518.81" stroke="#e8333a" stroke-width="1.0"/>
<line x1="325.90" y1="512.18" x2="325.90" y2="519.86" stroke="#e8333a" stroke-width="0.9"/>
<line x1="322.80" y1="512.18" x2="329.00" y2="512.18" stroke="#e8333a" stroke-width="1.0"/>
<line x1="322.80" y1="519.86" x2="329.00" y2="519.86" stroke="#e8333a" stroke-width="1.0"/>
<line x1="341.30" y1="497.87" x2="341.30" y2="509.04" stroke="#e8333a" stroke-width="0.9"/>
<line x1="338.20" y1="497.87" x2="344.40" y2="497.87" stroke="#e8333a" stroke-width="1.0"/>
<line x1="338.20" y1="509.04" x2="344.40" y2="509.04" stroke="#e8333a" stroke-width="1.0"/>
<line x1="357.10" y1="493.68" x2="357.10" y2="504.85" stroke="#e8333a" stroke-width="0.9"/>
<line x1="354.00" y1="493.68" x2="360.20" y2="493.68" stroke="#e8333a" stroke-width="1.0"/>
<line x1="354.00" y1="504.85" x2="360.20" y2="504.85" stroke="#e8333a" stroke-width="1.0"/>
<line x1="372.40" y1="492.29" x2="372.40" y2="502.76" stroke="#e8333a" stroke-width="0.9"/>
<line x1="369.30" y1="492.29" x2="375.50" y2="492.29" stroke="#e8333a" stroke-width="1.0"/>
<line x1="369.30" y1="502.76" x2="375.50" y2="502.76" stroke="#e8333a" stroke-width="1.0"/>
<line x1="387.80" y1="519.51" x2="387.80" y2="526.49" stroke="#e8333a" stroke-width="0.9"/>
<line x1="384.70" y1="519.51" x2="390.90" y2="519.51" stroke="#e8333a" stroke-width="1.0"/>
<line x1="384.70" y1="526.49" x2="390.90" y2="526.49" stroke="#e8333a" stroke-width="1.0"/>
<line x1="403.40" y1="520.56" x2="403.40" y2="528.93" stroke="#e8333a" stroke-width="0.9"/>
<line x1="400.30" y1="520.56" x2="406.50" y2="520.56" stroke="#e8333a" stroke-width="1.0"/>
<line x1="400.30" y1="528.93" x2="406.50" y2="528.93" stroke="#e8333a" stroke-width="1.0"/>
<line x1="419.20" y1="515.32" x2="419.20" y2="523.00" stroke="#e8333a" stroke-width="0.9"/>
<line x1="416.10" y1="515.32" x2="422.30" y2="515.32" stroke="#e8333a" stroke-width="1.0"/>
<line x1="416.10" y1="523.00" x2="422.30" y2="523.00" stroke="#e8333a" stroke-width="1.0"/>
<polyline points="247.10,494.38 263.20,497.52 278.60,496.48 294.10,517.07 310.50,514.97 325.90,516.02 341.30,503.46 357.10,499.27 372.40,497.52 387.80,523.00 403.40,524.75 419.20,519.16" fill="none" stroke="#e8333a" stroke-width="1.3" stroke-linejoin="round"/>
<line x1="247.10" y1="488.45" x2="247.10" y2="498.22" stroke="#3060c0" stroke-width="0.9"/>
<line x1="244.00" y1="488.45" x2="250.20" y2="488.45" stroke="#3060c0" stroke-width="1.0"/>
<line x1="244.00" y1="498.22" x2="250.20" y2="498.22" stroke="#3060c0" stroke-width="1.0"/>
<line x1="263.20" y1="488.80" x2="263.20" y2="497.87" stroke="#3060c0" stroke-width="0.9"/>
<line x1="260.10" y1="488.80" x2="266.30" y2="488.80" stroke="#3060c0" stroke-width="1.0"/>
<line x1="260.10" y1="497.87" x2="266.30" y2="497.87" stroke="#3060c0" stroke-width="1.0"/>
<line x1="278.60" y1="488.10" x2="278.60" y2="497.17" stroke="#3060c0" stroke-width="0.9"/>
<line x1="275.50" y1="488.10" x2="281.70" y2="488.10" stroke="#3060c0" stroke-width="1.0"/>
<line x1="275.50" y1="497.17" x2="281.70" y2="497.17" stroke="#3060c0" stroke-width="1.0"/>
<line x1="294.10" y1="508.34" x2="294.10" y2="514.62" stroke="#3060c0" stroke-width="0.9"/>
<line x1="291.00" y1="508.34" x2="297.20" y2="508.34" stroke="#3060c0" stroke-width="1.0"/>
<line x1="291.00" y1="514.62" x2="297.20" y2="514.62" stroke="#3060c0" stroke-width="1.0"/>
<line x1="310.50" y1="503.11" x2="310.50" y2="511.48" stroke="#3060c0" stroke-width="0.9"/>
<line x1="307.40" y1="503.11" x2="313.60" y2="503.11" stroke="#3060c0" stroke-width="1.0"/>
<line x1="307.40" y1="511.48" x2="313.60" y2="511.48" stroke="#3060c0" stroke-width="1.0"/>
<line x1="325.90" y1="502.76" x2="325.90" y2="511.83" stroke="#3060c0" stroke-width="0.9"/>
<line x1="322.80" y1="502.76" x2="329.00" y2="502.76" stroke="#3060c0" stroke-width="1.0"/>
<line x1="322.80" y1="511.83" x2="329.00" y2="511.83" stroke="#3060c0" stroke-width="1.0"/>
<line x1="341.30" y1="474.84" x2="341.30" y2="492.29" stroke="#3060c0" stroke-width="0.9"/>
<line x1="338.20" y1="474.84" x2="344.40" y2="474.84" stroke="#3060c0" stroke-width="1.0"/>
<line x1="338.20" y1="492.29" x2="344.40" y2="492.29" stroke="#3060c0" stroke-width="1.0"/>
<line x1="357.10" y1="459.83" x2="357.10" y2="472.40" stroke="#3060c0" stroke-width="0.9"/>
<line x1="354.00" y1="459.83" x2="360.20" y2="459.83" stroke="#3060c0" stroke-width="1.0"/>
<line x1="354.00" y1="472.40" x2="360.20" y2="472.40" stroke="#3060c0" stroke-width="1.0"/>
<line x1="372.40" y1="472.05" x2="372.40" y2="484.61" stroke="#3060c0" stroke-width="0.9"/>
<line x1="369.30" y1="472.05" x2="375.50" y2="472.05" stroke="#3060c0" stroke-width="1.0"/>
<line x1="369.30" y1="484.61" x2="375.50" y2="484.61" stroke="#3060c0" stroke-width="1.0"/>
<line x1="387.80" y1="511.13" x2="387.80" y2="520.21" stroke="#3060c0" stroke-width="0.9"/>
<line x1="384.70" y1="511.13" x2="390.90" y2="511.13" stroke="#3060c0" stroke-width="1.0"/>
<line x1="384.70" y1="520.21" x2="390.90" y2="520.21" stroke="#3060c0" stroke-width="1.0"/>
<line x1="403.40" y1="509.04" x2="403.40" y2="524.40" stroke="#3060c0" stroke-width="0.9"/>
<line x1="400.30" y1="509.04" x2="406.50" y2="509.04" stroke="#3060c0" stroke-width="1.0"/>
<line x1="400.30" y1="524.40" x2="406.50" y2="524.40" stroke="#3060c0" stroke-width="1.0"/>
<line x1="419.20" y1="506.25" x2="419.20" y2="517.42" stroke="#3060c0" stroke-width="0.9"/>
<line x1="416.10" y1="506.25" x2="422.30" y2="506.25" stroke="#3060c0" stroke-width="1.0"/>
<line x1="416.10" y1="517.42" x2="422.30" y2="517.42" stroke="#3060c0" stroke-width="1.0"/>
<polyline points="247.10,493.34 263.20,493.34 278.60,492.64 294.10,511.48 310.50,507.30 325.90,507.30 341.30,483.56 357.10,466.11 372.40,478.33 387.80,515.67 403.40,516.72 419.20,511.83" fill="none" stroke="#3060c0" stroke-width="1.3" stroke-linejoin="round"/>
<line x1="247.10" y1="453.20" x2="247.10" y2="474.14" stroke="#111111" stroke-width="0.9"/>
<line x1="244.00" y1="453.20" x2="250.20" y2="453.20" stroke="#111111" stroke-width="1.0"/>
<line x1="244.00" y1="474.14" x2="250.20" y2="474.14" stroke="#111111" stroke-width="1.0"/>
<line x1="263.20" y1="466.46" x2="263.20" y2="481.82" stroke="#111111" stroke-width="0.9"/>
<line x1="260.10" y1="466.46" x2="266.30" y2="466.46" stroke="#111111" stroke-width="1.0"/>
<line x1="260.10" y1="481.82" x2="266.30" y2="481.82" stroke="#111111" stroke-width="1.0"/>
<line x1="278.60" y1="469.60" x2="278.60" y2="483.56" stroke="#111111" stroke-width="0.9"/>
<line x1="275.50" y1="469.60" x2="281.70" y2="469.60" stroke="#111111" stroke-width="1.0"/>
<line x1="275.50" y1="483.56" x2="281.70" y2="483.56" stroke="#111111" stroke-width="1.0"/>
<line x1="294.10" y1="509.74" x2="294.10" y2="515.32" stroke="#111111" stroke-width="0.9"/>
<line x1="291.00" y1="509.74" x2="297.20" y2="509.74" stroke="#111111" stroke-width="1.0"/>
<line x1="291.00" y1="515.32" x2="297.20" y2="515.32" stroke="#111111" stroke-width="1.0"/>
<line x1="310.50" y1="508.69" x2="310.50" y2="513.58" stroke="#111111" stroke-width="0.9"/>
<line x1="307.40" y1="508.69" x2="313.60" y2="508.69" stroke="#111111" stroke-width="1.0"/>
<line x1="307.40" y1="513.58" x2="313.60" y2="513.58" stroke="#111111" stroke-width="1.0"/>
<line x1="325.90" y1="509.39" x2="325.90" y2="514.28" stroke="#111111" stroke-width="0.9"/>
<line x1="322.80" y1="509.39" x2="329.00" y2="509.39" stroke="#111111" stroke-width="1.0"/>
<line x1="322.80" y1="514.28" x2="329.00" y2="514.28" stroke="#111111" stroke-width="1.0"/>
<line x1="341.30" y1="489.50" x2="341.30" y2="495.08" stroke="#111111" stroke-width="0.9"/>
<line x1="338.20" y1="489.50" x2="344.40" y2="489.50" stroke="#111111" stroke-width="1.0"/>
<line x1="338.20" y1="495.08" x2="344.40" y2="495.08" stroke="#111111" stroke-width="1.0"/>
<line x1="357.10" y1="469.60" x2="357.10" y2="476.58" stroke="#111111" stroke-width="0.9"/>
<line x1="354.00" y1="469.60" x2="360.20" y2="469.60" stroke="#111111" stroke-width="1.0"/>
<line x1="354.00" y1="476.58" x2="360.20" y2="476.58" stroke="#111111" stroke-width="1.0"/>
<line x1="372.40" y1="439.59" x2="372.40" y2="454.95" stroke="#111111" stroke-width="0.9"/>
<line x1="369.30" y1="439.59" x2="375.50" y2="439.59" stroke="#111111" stroke-width="1.0"/>
<line x1="369.30" y1="454.95" x2="375.50" y2="454.95" stroke="#111111" stroke-width="1.0"/>
<line x1="387.80" y1="517.42" x2="387.80" y2="523.00" stroke="#111111" stroke-width="0.9"/>
<line x1="384.70" y1="517.42" x2="390.90" y2="517.42" stroke="#111111" stroke-width="1.0"/>
<line x1="384.70" y1="523.00" x2="390.90" y2="523.00" stroke="#111111" stroke-width="1.0"/>
<line x1="403.40" y1="520.21" x2="403.40" y2="525.79" stroke="#111111" stroke-width="0.9"/>
<line x1="400.30" y1="520.21" x2="406.50" y2="520.21" stroke="#111111" stroke-width="1.0"/>
<line x1="400.30" y1="525.79" x2="406.50" y2="525.79" stroke="#111111" stroke-width="1.0"/>
<line x1="419.20" y1="515.32" x2="419.20" y2="521.60" stroke="#111111" stroke-width="0.9"/>
<line x1="416.10" y1="515.32" x2="422.30" y2="515.32" stroke="#111111" stroke-width="1.0"/>
<line x1="416.10" y1="521.60" x2="422.30" y2="521.60" stroke="#111111" stroke-width="1.0"/>
<polyline points="247.10,463.67 263.20,474.14 278.60,476.58 294.10,512.53 310.50,511.13 325.90,511.83 341.30,492.29 357.10,473.09 372.40,447.27 387.80,520.21 403.40,523.00 419.20,518.46" fill="none" stroke="#111111" stroke-width="1.3" stroke-linejoin="round"/>
<line x1="429.40" y1="410.70" x2="444.80" y2="410.70" stroke="#555" stroke-width="1.6"/>
<text x="449.60" y="414.10" font-size="8.2" text-anchor="start" fill="#222">Control</text>
<line x1="429.40" y1="421.70" x2="444.80" y2="421.70" stroke="#f06070" stroke-width="1.4"/>
<text x="449.60" y="425.10" font-size="8.2" text-anchor="start" fill="#222" letter-spacing="-0.35">KU55933</text>
<line x1="429.40" y1="431.50" x2="444.80" y2="431.50" stroke="#4060c0" stroke-width="1.1"/>
<text x="449.60" y="434.90" font-size="8.2" text-anchor="start" fill="#222" letter-spacing="-0.35">KU+NAC</text>
<line x1="429.40" y1="441.40" x2="444.80" y2="441.40" stroke="#20a060" stroke-width="1.2"/>
<text x="449.60" y="444.80" font-size="8.2" text-anchor="start" fill="#222" letter-spacing="-0.35">KU+Trolox</text>
<text x="511.65" y="387.90" font-size="15" text-anchor="start" fill="#000" font-weight="bold">G</text>
<text x="567.60" y="401.20" font-size="10.9" text-anchor="start" fill="#111" font-weight="bold">Maximal respiration</text>
<line x1="557.20" y1="414.00" x2="557.20" y2="539.90" stroke="#111" stroke-width="1.1"/>
<line x1="557.20" y1="539.90" x2="681.50" y2="539.90" stroke="#111" stroke-width="1.1"/>
<line x1="553.20" y1="539.90" x2="557.20" y2="539.90" stroke="#111" stroke-width="1.1"/>
<text x="552.70" y="543.00" font-size="8.7" text-anchor="end" fill="#222">0</text>
<line x1="553.20" y1="498.10" x2="557.20" y2="498.10" stroke="#111" stroke-width="1.1"/>
<text x="552.70" y="501.20" font-size="8.7" text-anchor="end" fill="#222">100</text>
<line x1="553.20" y1="456.30" x2="557.20" y2="456.30" stroke="#111" stroke-width="1.1"/>
<text x="552.70" y="459.40" font-size="8.7" text-anchor="end" fill="#222">200</text>
<line x1="553.20" y1="414.50" x2="557.20" y2="414.50" stroke="#111" stroke-width="1.1"/>
<text x="552.70" y="417.60" font-size="8.7" text-anchor="end" fill="#222">300</text>
<rect x="564.70" y="471.35" width="12.00" height="68.55" fill="#fff" stroke="#111" stroke-width="1.3"/>
<line x1="570.70" y1="459.64" x2="570.70" y2="480.71" stroke="#111" stroke-width="1.1"/>
<line x1="567.50" y1="459.64" x2="573.90" y2="459.64" stroke="#111" stroke-width="1.1"/>
<line x1="567.50" y1="480.71" x2="573.90" y2="480.71" stroke="#111" stroke-width="1.1"/>
<circle cx="565.00" cy="460.06" r="2.35" fill="#111" stroke="none" stroke-width="1"/>
<circle cx="576.00" cy="458.39" r="2.35" fill="#111" stroke="none" stroke-width="1"/>
<circle cx="570.70" cy="467.59" r="2.35" fill="#111" stroke="none" stroke-width="1"/>
<circle cx="570.70" cy="474.27" r="2.35" fill="#111" stroke="none" stroke-width="1"/>
<circle cx="570.70" cy="486.40" r="2.35" fill="#111" stroke="none" stroke-width="1"/>
<circle cx="570.70" cy="470.93" r="2.35" fill="#111" stroke="none" stroke-width="1"/>
<line x1="570.70" y1="539.90" x2="570.70" y2="543.90" stroke="#111" stroke-width="1.1"/>
<rect x="584.70" y="498.94" width="12.00" height="40.96" fill="#fff" stroke="#e8333a" stroke-width="1.3"/>
<line x1="590.70" y1="496.01" x2="590.70" y2="501.86" stroke="#e8333a" stroke-width="1.1"/>
<line x1="587.50" y1="496.01" x2="593.90" y2="496.01" stroke="#e8333a" stroke-width="1.1"/>
<line x1="587.50" y1="501.86" x2="593.90" y2="501.86" stroke="#e8333a" stroke-width="1.1"/>
<circle cx="586.00" cy="494.76" r="2.35" fill="#e8333a" stroke="none" stroke-width="1"/>
<circle cx="590.70" cy="494.34" r="2.35" fill="#e8333a" stroke="none" stroke-width="1"/>
<circle cx="595.50" cy="494.76" r="2.35" fill="#e8333a" stroke="none" stroke-width="1"/>
<circle cx="587.00" cy="497.26" r="2.35" fill="#e8333a" stroke="none" stroke-width="1"/>
<circle cx="594.00" cy="497.68" r="2.35" fill="#e8333a" stroke="none" stroke-width="1"/>
<circle cx="590.70" cy="499.35" r="2.35" fill="#e8333a" stroke="none" stroke-width="1"/>
<circle cx="590.70" cy="503.95" r="2.35" fill="#e8333a" stroke="none" stroke-width="1"/>
<circle cx="586.00" cy="501.03" r="2.35" fill="#e8333a" stroke="none" stroke-width="1"/>
<circle cx="595.00" cy="501.03" r="2.35" fill="#e8333a" stroke="none" stroke-width="1"/>
<line x1="590.70" y1="539.90" x2="590.70" y2="543.90" stroke="#111" stroke-width="1.1"/>
<rect x="604.20" y="474.02" width="12.00" height="65.88" fill="#fff" stroke="#111" stroke-width="1.3"/>
<line x1="610.20" y1="459.23" x2="610.20" y2="487.82" stroke="#111" stroke-width="1.1"/>
<line x1="607.00" y1="459.23" x2="613.40" y2="459.23" stroke="#111" stroke-width="1.1"/>
<line x1="607.00" y1="487.82" x2="613.40" y2="487.82" stroke="#111" stroke-width="1.1"/>
<circle cx="610.00" cy="446.27" r="2.35" fill="#111" stroke="none" stroke-width="1"/>
<circle cx="604.00" cy="464.24" r="2.35" fill="#111" stroke="none" stroke-width="1"/>
<circle cx="616.00" cy="465.50" r="2.35" fill="#111" stroke="none" stroke-width="1"/>
<circle cx="605.00" cy="475.95" r="2.35" fill="#111" stroke="none" stroke-width="1"/>
<circle cx="616.00" cy="476.36" r="2.35" fill="#111" stroke="none" stroke-width="1"/>
<circle cx="604.00" cy="482.22" r="2.35" fill="#111" stroke="none" stroke-width="1"/>
<circle cx="616.00" cy="484.31" r="2.35" fill="#111" stroke="none" stroke-width="1"/>
<circle cx="610.00" cy="489.32" r="2.35" fill="#111" stroke="none" stroke-width="1"/>
<line x1="610.20" y1="539.90" x2="610.20" y2="543.90" stroke="#111" stroke-width="1.1"/>
<rect x="623.90" y="460.23" width="12.00" height="79.67" fill="#fff" stroke="#111" stroke-width="1.3"/>
<line x1="629.90" y1="456.72" x2="629.90" y2="463.82" stroke="#111" stroke-width="1.1"/>
<line x1="626.70" y1="456.72" x2="633.10" y2="456.72" stroke="#111" stroke-width="1.1"/>
<line x1="626.70" y1="463.82" x2="633.10" y2="463.82" stroke="#111" stroke-width="1.1"/>
<circle cx="630.00" cy="453.79" r="2.35" fill="#111" stroke="none" stroke-width="1"/>
<circle cx="624.50" cy="458.56" r="2.35" fill="#111" stroke="none" stroke-width="1"/>
<circle cx="635.50" cy="458.56" r="2.35" fill="#111" stroke="none" stroke-width="1"/>
<circle cx="624.00" cy="463.41" r="2.35" fill="#111" stroke="none" stroke-width="1"/>
<circle cx="630.00" cy="463.41" r="2.35" fill="#111" stroke="none" stroke-width="1"/>
<circle cx="636.00" cy="463.41" r="2.35" fill="#111" stroke="none" stroke-width="1"/>
<line x1="629.90" y1="539.90" x2="629.90" y2="543.90" stroke="#111" stroke-width="1.1"/>
<rect x="643.60" y="492.25" width="12.00" height="47.65" fill="#fff" stroke="#111" stroke-width="1.3"/>
<line x1="649.60" y1="482.63" x2="649.60" y2="495.59" stroke="#111" stroke-width="1.1"/>
<line x1="646.40" y1="482.63" x2="652.80" y2="482.63" stroke="#111" stroke-width="1.1"/>
<line x1="646.40" y1="495.59" x2="652.80" y2="495.59" stroke="#111" stroke-width="1.1"/>
<circle cx="649.70" cy="475.53" r="2.35" fill="#111" stroke="none" stroke-width="1"/>
<circle cx="644.00" cy="491.83" r="2.35" fill="#111" stroke="none" stroke-width="1"/>
<circle cx="655.00" cy="491.83" r="2.35" fill="#111" stroke="none" stroke-width="1"/>
<circle cx="649.70" cy="488.90" r="2.35" fill="#111" stroke="none" stroke-width="1"/>
<circle cx="645.00" cy="490.16" r="2.35" fill="#111" stroke="none" stroke-width="1"/>
<circle cx="654.00" cy="490.16" r="2.35" fill="#111" stroke="none" stroke-width="1"/>
<circle cx="649.70" cy="493.92" r="2.35" fill="#111" stroke="none" stroke-width="1"/>
<line x1="649.60" y1="539.90" x2="649.60" y2="543.90" stroke="#111" stroke-width="1.1"/>
<rect x="663.40" y="446.27" width="12.00" height="93.63" fill="#fff" stroke="#111" stroke-width="1.3"/>
<line x1="669.40" y1="434.56" x2="669.40" y2="457.14" stroke="#111" stroke-width="1.1"/>
<line x1="666.20" y1="434.56" x2="672.60" y2="434.56" stroke="#111" stroke-width="1.1"/>
<line x1="666.20" y1="457.14" x2="672.60" y2="457.14" stroke="#111" stroke-width="1.1"/>
<circle cx="669.40" cy="425.79" r="2.35" fill="#111" stroke="none" stroke-width="1"/>
<circle cx="663.00" cy="438.74" r="2.35" fill="#111" stroke="none" stroke-width="1"/>
<circle cx="676.00" cy="439.58" r="2.35" fill="#111" stroke="none" stroke-width="1"/>
<circle cx="669.00" cy="449.19" r="2.35" fill="#111" stroke="none" stroke-width="1"/>
<circle cx="663.00" cy="457.14" r="2.35" fill="#111" stroke="none" stroke-width="1"/>
<circle cx="676.00" cy="454.63" r="2.35" fill="#111" stroke="none" stroke-width="1"/>
<circle cx="669.00" cy="457.14" r="2.35" fill="#111" stroke="none" stroke-width="1"/>
<line x1="669.40" y1="539.90" x2="669.40" y2="543.90" stroke="#111" stroke-width="1.1"/>
<text x="570.90" y="550.70" font-size="8.7" text-anchor="end" fill="#222" transform="rotate(-45 570.90 550.70)">Control</text>
<text x="590.90" y="550.70" font-size="8.7" text-anchor="end" fill="#222" transform="rotate(-45 590.90 550.70)">KU55933</text>
<text x="610.40" y="550.70" font-size="8.7" text-anchor="end" fill="#222" transform="rotate(-45 610.40 550.70)">Trolox</text>
<text x="630.10" y="550.70" font-size="8.7" text-anchor="end" fill="#222" transform="rotate(-45 630.10 550.70)">NAC</text>
<text x="649.80" y="550.70" font-size="8.7" text-anchor="end" fill="#222" transform="rotate(-45 649.80 550.70)">KU+Trolox</text>
<text x="669.60" y="550.70" font-size="8.7" text-anchor="end" fill="#222" transform="rotate(-45 669.60 550.70)">KU+NAC</text>
<line x1="557.20" y1="539.90" x2="681.50" y2="539.90" stroke="#111" stroke-width="1.1"/>
<line x1="572.20" y1="445.70" x2="592.30" y2="445.70" stroke="#222" stroke-width="0.9"/>
<line x1="572.20" y1="443.90" x2="572.20" y2="447.50" stroke="#222" stroke-width="0.9"/>
<line x1="592.30" y1="443.90" x2="592.30" y2="447.50" stroke="#222" stroke-width="0.9"/>
<text x="583.40" y="446.40" font-size="12.0" text-anchor="middle" fill="#222" font-weight="bold">*</text>
<text x="525.30" y="478.60" font-size="8.2" text-anchor="middle" fill="#222" transform="rotate(-90 525.30 478.60)">OCR</text>
<text x="534.40" y="477.30" font-size="8.44" text-anchor="middle" fill="#222" transform="rotate(-90 534.40 477.30)">(Normalized to basal OCR)</text>
<text x="227.10" y="615.90" font-size="15" text-anchor="start" fill="#000" font-weight="bold">I</text>
<rect x="258.30" y="658.00" width="29.30" height="106.40" fill="url(#gBlue)" stroke="none" stroke-width="1"/>
<rect x="287.60" y="683.00" width="82.00" height="81.40" fill="url(#gOrange)" stroke="none" stroke-width="1"/>
<rect x="370.40" y="690.40" width="43.10" height="40.60" fill="url(#gPurp)" stroke="none" stroke-width="1"/>
<rect x="370.40" y="731.00" width="43.10" height="33.40" fill="url(#gSlate)" stroke="none" stroke-width="1"/>
<rect x="414.20" y="659.20" width="39.80" height="105.20" fill="url(#gGreen)" stroke="none" stroke-width="1"/>
<line x1="287.50" y1="636.00" x2="287.50" y2="764.40" stroke="#7a7a7a" stroke-width="0.75" stroke-dasharray="2.2,1.4"/>
<line x1="370.00" y1="634.50" x2="370.00" y2="764.40" stroke="#7a7a7a" stroke-width="0.75" stroke-dasharray="2.2,1.4"/>
<line x1="413.50" y1="634.50" x2="413.50" y2="764.40" stroke="#7a7a7a" stroke-width="0.75" stroke-dasharray="2.2,1.4"/>
<line x1="454.00" y1="634.50" x2="454.00" y2="764.40" stroke="#7a7a7a" stroke-width="0.75" stroke-dasharray="2.2,1.4"/>
<text x="274.40" y="611.90" font-size="8.0" text-anchor="start" fill="#333">UK5099</text>
<text x="274.40" y="622.80" font-size="8.0" text-anchor="start" fill="#333">BPTES</text>
<text x="274.40" y="632.90" font-size="8.0" text-anchor="start" fill="#333">Etomoxir</text>
<text x="369.60" y="631.60" font-size="8.4" text-anchor="middle" fill="#111">Oligo</text>
<text x="413.60" y="631.60" font-size="8.4" text-anchor="middle" fill="#111">FCCP</text>
<text x="457.60" y="631.60" font-size="8.2" text-anchor="middle" fill="#111">Rot/AntA</text>
<text x="262.20" y="725.00" font-size="6.8" text-anchor="start" fill="#444">Stabili-</text>
<text x="262.20" y="733.70" font-size="6.8" text-anchor="start" fill="#444">zation</text>
<text x="328.30" y="728.20" font-size="6.8" text-anchor="middle" fill="#444">Basal</text>
<text x="394.70" y="695.90" font-size="6.8" text-anchor="middle" fill="#444">ATP</text>
<text x="394.70" y="704.90" font-size="6.8" text-anchor="middle" fill="#444">Production</text>
<text x="391.50" y="750.80" font-size="6.8" text-anchor="middle" fill="#333">Proton leak</text>
<text x="432.80" y="750.50" font-size="6.8" text-anchor="middle" fill="#444">Maximal</text>
<text x="432.80" y="759.50" font-size="6.8" text-anchor="middle" fill="#444">Respiration</text>
<rect x="456.60" y="656.50" width="10.80" height="34.50" fill="#19ad4e" stroke="none" stroke-width="1"/>
<path d="M457.5,656.5 L467.4,656.5 L467.4,691.0 L457.5,691.0" fill="none" stroke="#2a2a2a" stroke-width="0.7"/>
<line x1="467.40" y1="673.70" x2="477.50" y2="673.70" stroke="#333" stroke-width="0.8"/>
<text x="475.10" y="671.90" font-size="8.4" text-anchor="start" fill="#222" font-weight="bold">Spare</text>
<text x="475.10" y="682.50" font-size="8.4" text-anchor="start" fill="#222" font-weight="bold">Capacity</text>
<line x1="259.50" y1="668.26" x2="259.50" y2="698.21" stroke="#4a8fd6" stroke-width="1.05"/>
<line x1="256.50" y1="668.26" x2="262.50" y2="668.26" stroke="#4a8fd6" stroke-width="1.05"/>
<line x1="256.50" y1="698.21" x2="262.50" y2="698.21" stroke="#4a8fd6" stroke-width="1.05"/>
<line x1="273.50" y1="658.81" x2="273.50" y2="686.39" stroke="#4a8fd6" stroke-width="1.05"/>
<line x1="270.50" y1="658.81" x2="276.50" y2="658.81" stroke="#4a8fd6" stroke-width="1.05"/>
<line x1="270.50" y1="686.39" x2="276.50" y2="686.39" stroke="#4a8fd6" stroke-width="1.05"/>
<line x1="287.60" y1="662.35" x2="287.60" y2="685.99" stroke="#4a8fd6" stroke-width="1.05"/>
<line x1="284.60" y1="662.35" x2="290.60" y2="662.35" stroke="#4a8fd6" stroke-width="1.05"/>
<line x1="284.60" y1="685.99" x2="290.60" y2="685.99" stroke="#4a8fd6" stroke-width="1.05"/>
<line x1="301.70" y1="682.45" x2="301.70" y2="704.51" stroke="#4a8fd6" stroke-width="1.05"/>
<line x1="298.70" y1="682.45" x2="304.70" y2="682.45" stroke="#4a8fd6" stroke-width="1.05"/>
<line x1="298.70" y1="704.51" x2="304.70" y2="704.51" stroke="#4a8fd6" stroke-width="1.05"/>
<line x1="315.30" y1="681.66" x2="315.30" y2="701.36" stroke="#4a8fd6" stroke-width="1.05"/>
<line x1="312.30" y1="681.66" x2="318.30" y2="681.66" stroke="#4a8fd6" stroke-width="1.05"/>
<line x1="312.30" y1="701.36" x2="318.30" y2="701.36" stroke="#4a8fd6" stroke-width="1.05"/>
<line x1="328.80" y1="676.14" x2="328.80" y2="712.39" stroke="#4a8fd6" stroke-width="1.05"/>
<line x1="325.80" y1="676.14" x2="331.80" y2="676.14" stroke="#4a8fd6" stroke-width="1.05"/>
<line x1="325.80" y1="712.39" x2="331.80" y2="712.39" stroke="#4a8fd6" stroke-width="1.05"/>
<line x1="342.80" y1="685.99" x2="342.80" y2="705.69" stroke="#4a8fd6" stroke-width="1.05"/>
<line x1="339.80" y1="685.99" x2="345.80" y2="685.99" stroke="#4a8fd6" stroke-width="1.05"/>
<line x1="339.80" y1="705.69" x2="345.80" y2="705.69" stroke="#4a8fd6" stroke-width="1.05"/>
<line x1="356.70" y1="685.99" x2="356.70" y2="705.69" stroke="#4a8fd6" stroke-width="1.05"/>
<line x1="353.70" y1="685.99" x2="359.70" y2="685.99" stroke="#4a8fd6" stroke-width="1.05"/>
<line x1="353.70" y1="705.69" x2="359.70" y2="705.69" stroke="#4a8fd6" stroke-width="1.05"/>
<line x1="370.60" y1="686.39" x2="370.60" y2="702.15" stroke="#4a8fd6" stroke-width="1.05"/>
<line x1="367.60" y1="686.39" x2="373.60" y2="686.39" stroke="#4a8fd6" stroke-width="1.05"/>
<line x1="367.60" y1="702.15" x2="373.60" y2="702.15" stroke="#4a8fd6" stroke-width="1.05"/>
<line x1="384.30" y1="723.03" x2="384.30" y2="734.85" stroke="#4a8fd6" stroke-width="1.05"/>
<line x1="381.30" y1="723.03" x2="387.30" y2="723.03" stroke="#4a8fd6" stroke-width="1.05"/>
<line x1="381.30" y1="734.85" x2="387.30" y2="734.85" stroke="#4a8fd6" stroke-width="1.05"/>
<line x1="412.30" y1="729.33" x2="412.30" y2="741.15" stroke="#4a8fd6" stroke-width="1.05"/>
<line x1="409.30" y1="729.33" x2="415.30" y2="729.33" stroke="#4a8fd6" stroke-width="1.05"/>
<line x1="409.30" y1="741.15" x2="415.30" y2="741.15" stroke="#4a8fd6" stroke-width="1.05"/>
<line x1="426.60" y1="719.88" x2="426.60" y2="731.70" stroke="#4a8fd6" stroke-width="1.05"/>
<line x1="423.60" y1="719.88" x2="429.60" y2="719.88" stroke="#4a8fd6" stroke-width="1.05"/>
<line x1="423.60" y1="731.70" x2="429.60" y2="731.70" stroke="#4a8fd6" stroke-width="1.05"/>
<line x1="440.00" y1="720.67" x2="440.00" y2="732.49" stroke="#4a8fd6" stroke-width="1.05"/>
<line x1="437.00" y1="720.67" x2="443.00" y2="720.67" stroke="#4a8fd6" stroke-width="1.05"/>
<line x1="437.00" y1="732.49" x2="443.00" y2="732.49" stroke="#4a8fd6" stroke-width="1.05"/>
<line x1="453.60" y1="724.21" x2="453.60" y2="736.03" stroke="#4a8fd6" stroke-width="1.05"/>
<line x1="450.60" y1="724.21" x2="456.60" y2="724.21" stroke="#4a8fd6" stroke-width="1.05"/>
<line x1="450.60" y1="736.03" x2="456.60" y2="736.03" stroke="#4a8fd6" stroke-width="1.05"/>
<line x1="467.50" y1="745.49" x2="467.50" y2="753.37" stroke="#4a8fd6" stroke-width="1.05"/>
<line x1="464.50" y1="745.49" x2="470.50" y2="745.49" stroke="#4a8fd6" stroke-width="1.05"/>
<line x1="464.50" y1="753.37" x2="470.50" y2="753.37" stroke="#4a8fd6" stroke-width="1.05"/>
<line x1="481.30" y1="749.03" x2="481.30" y2="756.91" stroke="#4a8fd6" stroke-width="1.05"/>
<line x1="478.30" y1="749.03" x2="484.30" y2="749.03" stroke="#4a8fd6" stroke-width="1.05"/>
<line x1="478.30" y1="756.91" x2="484.30" y2="756.91" stroke="#4a8fd6" stroke-width="1.05"/>
<line x1="495.20" y1="752.97" x2="495.20" y2="760.85" stroke="#4a8fd6" stroke-width="1.05"/>
<line x1="492.20" y1="752.97" x2="498.20" y2="752.97" stroke="#4a8fd6" stroke-width="1.05"/>
<line x1="492.20" y1="760.85" x2="498.20" y2="760.85" stroke="#4a8fd6" stroke-width="1.05"/>
<polyline points="259.50,683.24 273.50,672.60 287.60,674.17 301.70,693.48 315.30,691.51 328.80,694.27 342.80,695.84 356.70,695.84 370.60,694.27 384.30,728.94 412.30,735.24 426.60,725.79 440.00,726.58 453.60,730.12 467.50,749.43 481.30,752.97 495.20,756.91" fill="none" stroke="#4a8fd6" stroke-width="1.25" stroke-dasharray="1.1,1.6"/>
<line x1="259.50" y1="672.60" x2="259.50" y2="692.30" stroke="#1f9a55" stroke-width="1.05"/>
<line x1="256.50" y1="672.60" x2="262.50" y2="672.60" stroke="#1f9a55" stroke-width="1.05"/>
<line x1="256.50" y1="692.30" x2="262.50" y2="692.30" stroke="#1f9a55" stroke-width="1.05"/>
<line x1="273.50" y1="662.75" x2="273.50" y2="682.45" stroke="#1f9a55" stroke-width="1.05"/>
<line x1="270.50" y1="662.75" x2="276.50" y2="662.75" stroke="#1f9a55" stroke-width="1.05"/>
<line x1="270.50" y1="682.45" x2="276.50" y2="682.45" stroke="#1f9a55" stroke-width="1.05"/>
<line x1="287.60" y1="664.32" x2="287.60" y2="684.02" stroke="#1f9a55" stroke-width="1.05"/>
<line x1="284.60" y1="664.32" x2="290.60" y2="664.32" stroke="#1f9a55" stroke-width="1.05"/>
<line x1="284.60" y1="684.02" x2="290.60" y2="684.02" stroke="#1f9a55" stroke-width="1.05"/>
<line x1="301.70" y1="674.57" x2="301.70" y2="690.33" stroke="#1f9a55" stroke-width="1.05"/>
<line x1="298.70" y1="674.57" x2="304.70" y2="674.57" stroke="#1f9a55" stroke-width="1.05"/>
<line x1="298.70" y1="690.33" x2="304.70" y2="690.33" stroke="#1f9a55" stroke-width="1.05"/>
<line x1="315.30" y1="672.60" x2="315.30" y2="688.36" stroke="#1f9a55" stroke-width="1.05"/>
<line x1="312.30" y1="672.60" x2="318.30" y2="672.60" stroke="#1f9a55" stroke-width="1.05"/>
<line x1="312.30" y1="688.36" x2="318.30" y2="688.36" stroke="#1f9a55" stroke-width="1.05"/>
<line x1="328.80" y1="676.14" x2="328.80" y2="691.90" stroke="#1f9a55" stroke-width="1.05"/>
<line x1="325.80" y1="676.14" x2="331.80" y2="676.14" stroke="#1f9a55" stroke-width="1.05"/>
<line x1="325.80" y1="691.90" x2="331.80" y2="691.90" stroke="#1f9a55" stroke-width="1.05"/>
<line x1="342.80" y1="671.02" x2="342.80" y2="686.78" stroke="#1f9a55" stroke-width="1.05"/>
<line x1="339.80" y1="671.02" x2="345.80" y2="671.02" stroke="#1f9a55" stroke-width="1.05"/>
<line x1="339.80" y1="686.78" x2="345.80" y2="686.78" stroke="#1f9a55" stroke-width="1.05"/>
<line x1="356.70" y1="672.60" x2="356.70" y2="688.36" stroke="#1f9a55" stroke-width="1.05"/>
<line x1="353.70" y1="672.60" x2="359.70" y2="672.60" stroke="#1f9a55" stroke-width="1.05"/>
<line x1="353.70" y1="688.36" x2="359.70" y2="688.36" stroke="#1f9a55" stroke-width="1.05"/>
<line x1="370.60" y1="674.57" x2="370.60" y2="690.33" stroke="#1f9a55" stroke-width="1.05"/>
<line x1="367.60" y1="674.57" x2="373.60" y2="674.57" stroke="#1f9a55" stroke-width="1.05"/>
<line x1="367.60" y1="690.33" x2="373.60" y2="690.33" stroke="#1f9a55" stroke-width="1.05"/>
<line x1="384.30" y1="723.42" x2="384.30" y2="732.88" stroke="#1f9a55" stroke-width="1.05"/>
<line x1="381.30" y1="723.42" x2="387.30" y2="723.42" stroke="#1f9a55" stroke-width="1.05"/>
<line x1="381.30" y1="732.88" x2="387.30" y2="732.88" stroke="#1f9a55" stroke-width="1.05"/>
<line x1="412.30" y1="728.15" x2="412.30" y2="737.61" stroke="#1f9a55" stroke-width="1.05"/>
<line x1="409.30" y1="728.15" x2="415.30" y2="728.15" stroke="#1f9a55" stroke-width="1.05"/>
<line x1="409.30" y1="737.61" x2="415.30" y2="737.61" stroke="#1f9a55" stroke-width="1.05"/>
<line x1="426.60" y1="665.90" x2="426.60" y2="681.66" stroke="#1f9a55" stroke-width="1.05"/>
<line x1="423.60" y1="665.90" x2="429.60" y2="665.90" stroke="#1f9a55" stroke-width="1.05"/>
<line x1="423.60" y1="681.66" x2="429.60" y2="681.66" stroke="#1f9a55" stroke-width="1.05"/>
<line x1="440.00" y1="664.72" x2="440.00" y2="680.48" stroke="#1f9a55" stroke-width="1.05"/>
<line x1="437.00" y1="664.72" x2="443.00" y2="664.72" stroke="#1f9a55" stroke-width="1.05"/>
<line x1="437.00" y1="680.48" x2="443.00" y2="680.48" stroke="#1f9a55" stroke-width="1.05"/>
<line x1="453.60" y1="659.99" x2="453.60" y2="675.75" stroke="#1f9a55" stroke-width="1.05"/>
<line x1="450.60" y1="659.99" x2="456.60" y2="659.99" stroke="#1f9a55" stroke-width="1.05"/>
<line x1="450.60" y1="675.75" x2="456.60" y2="675.75" stroke="#1f9a55" stroke-width="1.05"/>
<line x1="467.50" y1="744.70" x2="467.50" y2="752.58" stroke="#1f9a55" stroke-width="1.05"/>
<line x1="464.50" y1="744.70" x2="470.50" y2="744.70" stroke="#1f9a55" stroke-width="1.05"/>
<line x1="464.50" y1="752.58" x2="470.50" y2="752.58" stroke="#1f9a55" stroke-width="1.05"/>
<line x1="481.30" y1="748.64" x2="481.30" y2="756.52" stroke="#1f9a55" stroke-width="1.05"/>
<line x1="478.30" y1="748.64" x2="484.30" y2="748.64" stroke="#1f9a55" stroke-width="1.05"/>
<line x1="478.30" y1="756.52" x2="484.30" y2="756.52" stroke="#1f9a55" stroke-width="1.05"/>
<line x1="495.20" y1="754.55" x2="495.20" y2="762.43" stroke="#1f9a55" stroke-width="1.05"/>
<line x1="492.20" y1="754.55" x2="498.20" y2="754.55" stroke="#1f9a55" stroke-width="1.05"/>
<line x1="492.20" y1="762.43" x2="498.20" y2="762.43" stroke="#1f9a55" stroke-width="1.05"/>
<polyline points="259.50,682.45 273.50,672.60 287.60,674.17 301.70,682.45 315.30,680.48 328.80,684.02 342.80,678.90 356.70,680.48 370.60,682.45 384.30,728.15 412.30,732.88 426.60,673.78 440.00,672.60 453.60,667.87 467.50,748.64 481.30,752.58 495.20,758.49" fill="none" stroke="#1f9a55" stroke-width="1.25" stroke-dasharray="1.1,1.6"/>
<line x1="259.50" y1="670.63" x2="259.50" y2="694.27" stroke="#e8333a" stroke-width="1.05"/>
<line x1="256.50" y1="670.63" x2="262.50" y2="670.63" stroke="#e8333a" stroke-width="1.05"/>
<line x1="256.50" y1="694.27" x2="262.50" y2="694.27" stroke="#e8333a" stroke-width="1.05"/>
<line x1="273.50" y1="660.38" x2="273.50" y2="684.02" stroke="#e8333a" stroke-width="1.05"/>
<line x1="270.50" y1="660.38" x2="276.50" y2="660.38" stroke="#e8333a" stroke-width="1.05"/>
<line x1="270.50" y1="684.02" x2="276.50" y2="684.02" stroke="#e8333a" stroke-width="1.05"/>
<line x1="287.60" y1="662.35" x2="287.60" y2="685.99" stroke="#e8333a" stroke-width="1.05"/>
<line x1="284.60" y1="662.35" x2="290.60" y2="662.35" stroke="#e8333a" stroke-width="1.05"/>
<line x1="284.60" y1="685.99" x2="290.60" y2="685.99" stroke="#e8333a" stroke-width="1.05"/>
<line x1="301.70" y1="675.36" x2="301.70" y2="699.00" stroke="#e8333a" stroke-width="1.05"/>
<line x1="298.70" y1="675.36" x2="304.70" y2="675.36" stroke="#e8333a" stroke-width="1.05"/>
<line x1="298.70" y1="699.00" x2="304.70" y2="699.00" stroke="#e8333a" stroke-width="1.05"/>
<line x1="315.30" y1="672.99" x2="315.30" y2="696.63" stroke="#e8333a" stroke-width="1.05"/>
<line x1="312.30" y1="672.99" x2="318.30" y2="672.99" stroke="#e8333a" stroke-width="1.05"/>
<line x1="312.30" y1="696.63" x2="318.30" y2="696.63" stroke="#e8333a" stroke-width="1.05"/>
<line x1="328.80" y1="685.21" x2="328.80" y2="708.85" stroke="#e8333a" stroke-width="1.05"/>
<line x1="325.80" y1="685.21" x2="331.80" y2="685.21" stroke="#e8333a" stroke-width="1.05"/>
<line x1="325.80" y1="708.85" x2="331.80" y2="708.85" stroke="#e8333a" stroke-width="1.05"/>
<line x1="342.80" y1="676.93" x2="342.80" y2="700.57" stroke="#e8333a" stroke-width="1.05"/>
<line x1="339.80" y1="676.93" x2="345.80" y2="676.93" stroke="#e8333a" stroke-width="1.05"/>
<line x1="339.80" y1="700.57" x2="345.80" y2="700.57" stroke="#e8333a" stroke-width="1.05"/>
<line x1="356.70" y1="676.93" x2="356.70" y2="700.57" stroke="#e8333a" stroke-width="1.05"/>
<line x1="353.70" y1="676.93" x2="359.70" y2="676.93" stroke="#e8333a" stroke-width="1.05"/>
<line x1="353.70" y1="700.57" x2="359.70" y2="700.57" stroke="#e8333a" stroke-width="1.05"/>
<line x1="370.60" y1="684.81" x2="370.60" y2="700.57" stroke="#e8333a" stroke-width="1.05"/>
<line x1="367.60" y1="684.81" x2="373.60" y2="684.81" stroke="#e8333a" stroke-width="1.05"/>
<line x1="367.60" y1="700.57" x2="373.60" y2="700.57" stroke="#e8333a" stroke-width="1.05"/>
<line x1="384.30" y1="724.21" x2="384.30" y2="736.03" stroke="#e8333a" stroke-width="1.05"/>
<line x1="381.30" y1="724.21" x2="387.30" y2="724.21" stroke="#e8333a" stroke-width="1.05"/>
<line x1="381.30" y1="736.03" x2="387.30" y2="736.03" stroke="#e8333a" stroke-width="1.05"/>
<line x1="412.30" y1="725.79" x2="412.30" y2="737.61" stroke="#e8333a" stroke-width="1.05"/>
<line x1="409.30" y1="725.79" x2="415.30" y2="725.79" stroke="#e8333a" stroke-width="1.05"/>
<line x1="409.30" y1="737.61" x2="415.30" y2="737.61" stroke="#e8333a" stroke-width="1.05"/>
<line x1="426.60" y1="703.33" x2="426.60" y2="715.15" stroke="#e8333a" stroke-width="1.05"/>
<line x1="423.60" y1="703.33" x2="429.60" y2="703.33" stroke="#e8333a" stroke-width="1.05"/>
<line x1="423.60" y1="715.15" x2="429.60" y2="715.15" stroke="#e8333a" stroke-width="1.05"/>
<line x1="440.00" y1="695.84" x2="440.00" y2="707.66" stroke="#e8333a" stroke-width="1.05"/>
<line x1="437.00" y1="695.84" x2="443.00" y2="695.84" stroke="#e8333a" stroke-width="1.05"/>
<line x1="437.00" y1="707.66" x2="443.00" y2="707.66" stroke="#e8333a" stroke-width="1.05"/>
<line x1="453.60" y1="683.63" x2="453.60" y2="703.33" stroke="#e8333a" stroke-width="1.05"/>
<line x1="450.60" y1="683.63" x2="456.60" y2="683.63" stroke="#e8333a" stroke-width="1.05"/>
<line x1="450.60" y1="703.33" x2="456.60" y2="703.33" stroke="#e8333a" stroke-width="1.05"/>
<line x1="467.50" y1="747.46" x2="467.50" y2="755.34" stroke="#e8333a" stroke-width="1.05"/>
<line x1="464.50" y1="747.46" x2="470.50" y2="747.46" stroke="#e8333a" stroke-width="1.05"/>
<line x1="464.50" y1="755.34" x2="470.50" y2="755.34" stroke="#e8333a" stroke-width="1.05"/>
<line x1="481.30" y1="750.22" x2="481.30" y2="758.10" stroke="#e8333a" stroke-width="1.05"/>
<line x1="478.30" y1="750.22" x2="484.30" y2="750.22" stroke="#e8333a" stroke-width="1.05"/>
<line x1="478.30" y1="758.10" x2="484.30" y2="758.10" stroke="#e8333a" stroke-width="1.05"/>
<line x1="495.20" y1="757.31" x2="495.20" y2="765.19" stroke="#e8333a" stroke-width="1.05"/>
<line x1="492.20" y1="757.31" x2="498.20" y2="757.31" stroke="#e8333a" stroke-width="1.05"/>
<line x1="492.20" y1="765.19" x2="498.20" y2="765.19" stroke="#e8333a" stroke-width="1.05"/>
<polyline points="259.50,682.45 273.50,672.20 287.60,674.17 301.70,687.18 315.30,684.81 328.80,697.03 342.80,688.75 356.70,688.75 370.60,692.69 384.30,730.12 412.30,731.70 426.60,709.24 440.00,701.75 453.60,693.48 467.50,751.40 481.30,754.16 495.20,761.25" fill="none" stroke="#e8333a" stroke-width="1.25" stroke-dasharray="1.1,1.6"/>
<polygon points="259.5,680.6 257.2,685.0 261.8,685.0" fill="#4a8fd6"/>
<polygon points="273.5,670.0 271.2,674.4 275.8,674.4" fill="#4a8fd6"/>
<polygon points="287.6,671.6 285.3,675.9 289.9,675.9" fill="#4a8fd6"/>
<polygon points="301.7,690.9 299.4,695.2 304.0,695.2" fill="#4a8fd6"/>
<polygon points="315.3,688.9 313.0,693.3 317.6,693.3" fill="#4a8fd6"/>
<polygon points="328.8,691.7 326.5,696.0 331.1,696.0" fill="#4a8fd6"/>
<polygon points="342.8,693.2 340.5,697.6 345.1,697.6" fill="#4a8fd6"/>
<polygon points="356.7,693.2 354.4,697.6 359.0,697.6" fill="#4a8fd6"/>
<polygon points="370.6,691.7 368.3,696.0 372.9,696.0" fill="#4a8fd6"/>
<polygon points="384.3,726.3 382.0,730.7 386.6,730.7" fill="#4a8fd6"/>
<polygon points="412.3,732.6 410.0,737.0 414.6,737.0" fill="#4a8fd6"/>
<polygon points="426.6,723.2 424.3,727.6 428.9,727.6" fill="#4a8fd6"/>
<polygon points="440.0,724.0 437.7,728.3 442.3,728.3" fill="#4a8fd6"/>
<polygon points="453.6,727.5 451.3,731.9 455.9,731.9" fill="#4a8fd6"/>
<polygon points="467.5,746.8 465.2,751.2 469.8,751.2" fill="#4a8fd6"/>
<polygon points="481.3,750.4 479.0,754.7 483.6,754.7" fill="#4a8fd6"/>
<polygon points="495.2,754.3 492.9,758.7 497.5,758.7" fill="#4a8fd6"/>
<polygon points="259.5,679.8 257.2,684.2 261.8,684.2" fill="#1f9a55"/>
<polygon points="273.5,670.0 271.2,674.4 275.8,674.4" fill="#1f9a55"/>
<polygon points="287.6,671.6 285.3,675.9 289.9,675.9" fill="#1f9a55"/>
<polygon points="301.7,679.8 299.4,684.2 304.0,684.2" fill="#1f9a55"/>
<polygon points="315.3,677.9 313.0,682.2 317.6,682.2" fill="#1f9a55"/>
<polygon points="328.8,681.4 326.5,685.8 331.1,685.8" fill="#1f9a55"/>
<polygon points="342.8,676.3 340.5,680.7 345.1,680.7" fill="#1f9a55"/>
<polygon points="356.7,677.9 354.4,682.2 359.0,682.2" fill="#1f9a55"/>
<polygon points="370.6,679.8 368.3,684.2 372.9,684.2" fill="#1f9a55"/>
<polygon points="384.3,725.5 382.0,729.9 386.6,729.9" fill="#1f9a55"/>
<polygon points="412.3,730.3 410.0,734.6 414.6,734.6" fill="#1f9a55"/>
<polygon points="426.6,671.2 424.3,675.5 428.9,675.5" fill="#1f9a55"/>
<polygon points="440.0,670.0 437.7,674.4 442.3,674.4" fill="#1f9a55"/>
<polygon points="453.6,665.3 451.3,669.6 455.9,669.6" fill="#1f9a55"/>
<polygon points="467.5,746.0 465.2,750.4 469.8,750.4" fill="#1f9a55"/>
<polygon points="481.3,750.0 479.0,754.3 483.6,754.3" fill="#1f9a55"/>
<polygon points="495.2,755.9 492.9,760.3 497.5,760.3" fill="#1f9a55"/>
<polygon points="259.5,679.8 257.2,684.2 261.8,684.2" fill="#e8333a"/>
<polygon points="273.5,669.6 271.2,674.0 275.8,674.0" fill="#e8333a"/>
<polygon points="287.6,671.6 285.3,675.9 289.9,675.9" fill="#e8333a"/>
<polygon points="301.7,684.6 299.4,688.9 304.0,688.9" fill="#e8333a"/>
<polygon points="315.3,682.2 313.0,686.6 317.6,686.6" fill="#e8333a"/>
<polygon points="328.8,694.4 326.5,698.8 331.1,698.8" fill="#e8333a"/>
<polygon points="342.8,686.1 340.5,690.5 345.1,690.5" fill="#e8333a"/>
<polygon points="356.7,686.1 354.4,690.5 359.0,690.5" fill="#e8333a"/>
<polygon points="370.6,690.1 368.3,694.5 372.9,694.5" fill="#e8333a"/>
<polygon points="384.3,727.5 382.0,731.9 386.6,731.9" fill="#e8333a"/>
<polygon points="412.3,729.1 410.0,733.5 414.6,733.5" fill="#e8333a"/>
<polygon points="426.6,706.6 424.3,711.0 428.9,711.0" fill="#e8333a"/>
<polygon points="440.0,699.1 437.7,703.5 442.3,703.5" fill="#e8333a"/>
<polygon points="453.6,690.9 451.3,695.2 455.9,695.2" fill="#e8333a"/>
<polygon points="467.5,748.8 465.2,753.2 469.8,753.2" fill="#e8333a"/>
<polygon points="481.3,751.6 479.0,755.9 483.6,755.9" fill="#e8333a"/>
<polygon points="495.2,758.6 492.9,763.0 497.5,763.0" fill="#e8333a"/>
<line x1="259.50" y1="642.65" x2="259.50" y2="674.17" stroke="#4a8fd6" stroke-width="1.05"/>
<line x1="256.50" y1="642.65" x2="262.50" y2="642.65" stroke="#4a8fd6" stroke-width="1.05"/>
<line x1="256.50" y1="674.17" x2="262.50" y2="674.17" stroke="#4a8fd6" stroke-width="1.05"/>
<line x1="273.50" y1="640.29" x2="273.50" y2="663.93" stroke="#4a8fd6" stroke-width="1.05"/>
<line x1="270.50" y1="640.29" x2="276.50" y2="640.29" stroke="#4a8fd6" stroke-width="1.05"/>
<line x1="270.50" y1="663.93" x2="276.50" y2="663.93" stroke="#4a8fd6" stroke-width="1.05"/>
<line x1="287.60" y1="645.41" x2="287.60" y2="669.05" stroke="#4a8fd6" stroke-width="1.05"/>
<line x1="284.60" y1="645.41" x2="290.60" y2="645.41" stroke="#4a8fd6" stroke-width="1.05"/>
<line x1="284.60" y1="669.05" x2="290.60" y2="669.05" stroke="#4a8fd6" stroke-width="1.05"/>
<line x1="301.70" y1="669.05" x2="301.70" y2="684.81" stroke="#4a8fd6" stroke-width="1.05"/>
<line x1="298.70" y1="669.05" x2="304.70" y2="669.05" stroke="#4a8fd6" stroke-width="1.05"/>
<line x1="298.70" y1="684.81" x2="304.70" y2="684.81" stroke="#4a8fd6" stroke-width="1.05"/>
<line x1="315.30" y1="666.29" x2="315.30" y2="682.05" stroke="#4a8fd6" stroke-width="1.05"/>
<line x1="312.30" y1="666.29" x2="318.30" y2="666.29" stroke="#4a8fd6" stroke-width="1.05"/>
<line x1="312.30" y1="682.05" x2="318.30" y2="682.05" stroke="#4a8fd6" stroke-width="1.05"/>
<line x1="328.80" y1="671.42" x2="328.80" y2="687.18" stroke="#4a8fd6" stroke-width="1.05"/>
<line x1="325.80" y1="671.42" x2="331.80" y2="671.42" stroke="#4a8fd6" stroke-width="1.05"/>
<line x1="325.80" y1="687.18" x2="331.80" y2="687.18" stroke="#4a8fd6" stroke-width="1.05"/>
<line x1="342.80" y1="665.51" x2="342.80" y2="681.27" stroke="#4a8fd6" stroke-width="1.05"/>
<line x1="339.80" y1="665.51" x2="345.80" y2="665.51" stroke="#4a8fd6" stroke-width="1.05"/>
<line x1="339.80" y1="681.27" x2="345.80" y2="681.27" stroke="#4a8fd6" stroke-width="1.05"/>
<line x1="356.70" y1="663.14" x2="356.70" y2="678.90" stroke="#4a8fd6" stroke-width="1.05"/>
<line x1="353.70" y1="663.14" x2="359.70" y2="663.14" stroke="#4a8fd6" stroke-width="1.05"/>
<line x1="353.70" y1="678.90" x2="359.70" y2="678.90" stroke="#4a8fd6" stroke-width="1.05"/>
<line x1="370.60" y1="667.48" x2="370.60" y2="683.24" stroke="#4a8fd6" stroke-width="1.05"/>
<line x1="367.60" y1="667.48" x2="373.60" y2="667.48" stroke="#4a8fd6" stroke-width="1.05"/>
<line x1="367.60" y1="683.24" x2="373.60" y2="683.24" stroke="#4a8fd6" stroke-width="1.05"/>
<line x1="384.30" y1="719.48" x2="384.30" y2="728.94" stroke="#4a8fd6" stroke-width="1.05"/>
<line x1="381.30" y1="719.48" x2="387.30" y2="719.48" stroke="#4a8fd6" stroke-width="1.05"/>
<line x1="381.30" y1="728.94" x2="387.30" y2="728.94" stroke="#4a8fd6" stroke-width="1.05"/>
<line x1="412.30" y1="725.79" x2="412.30" y2="735.24" stroke="#4a8fd6" stroke-width="1.05"/>
<line x1="409.30" y1="725.79" x2="415.30" y2="725.79" stroke="#4a8fd6" stroke-width="1.05"/>
<line x1="409.30" y1="735.24" x2="415.30" y2="735.24" stroke="#4a8fd6" stroke-width="1.05"/>
<line x1="426.60" y1="714.36" x2="426.60" y2="726.18" stroke="#4a8fd6" stroke-width="1.05"/>
<line x1="423.60" y1="714.36" x2="429.60" y2="714.36" stroke="#4a8fd6" stroke-width="1.05"/>
<line x1="423.60" y1="726.18" x2="429.60" y2="726.18" stroke="#4a8fd6" stroke-width="1.05"/>
<line x1="440.00" y1="717.91" x2="440.00" y2="729.73" stroke="#4a8fd6" stroke-width="1.05"/>
<line x1="437.00" y1="717.91" x2="443.00" y2="717.91" stroke="#4a8fd6" stroke-width="1.05"/>
<line x1="437.00" y1="729.73" x2="443.00" y2="729.73" stroke="#4a8fd6" stroke-width="1.05"/>
<line x1="453.60" y1="713.57" x2="453.60" y2="729.33" stroke="#4a8fd6" stroke-width="1.05"/>
<line x1="450.60" y1="713.57" x2="456.60" y2="713.57" stroke="#4a8fd6" stroke-width="1.05"/>
<line x1="450.60" y1="729.33" x2="456.60" y2="729.33" stroke="#4a8fd6" stroke-width="1.05"/>
<line x1="467.50" y1="739.97" x2="467.50" y2="747.85" stroke="#4a8fd6" stroke-width="1.05"/>
<line x1="464.50" y1="739.97" x2="470.50" y2="739.97" stroke="#4a8fd6" stroke-width="1.05"/>
<line x1="464.50" y1="747.85" x2="470.50" y2="747.85" stroke="#4a8fd6" stroke-width="1.05"/>
<line x1="481.30" y1="743.91" x2="481.30" y2="751.79" stroke="#4a8fd6" stroke-width="1.05"/>
<line x1="478.30" y1="743.91" x2="484.30" y2="743.91" stroke="#4a8fd6" stroke-width="1.05"/>
<line x1="478.30" y1="751.79" x2="484.30" y2="751.79" stroke="#4a8fd6" stroke-width="1.05"/>
<line x1="495.20" y1="749.03" x2="495.20" y2="756.91" stroke="#4a8fd6" stroke-width="1.05"/>
<line x1="492.20" y1="749.03" x2="498.20" y2="749.03" stroke="#4a8fd6" stroke-width="1.05"/>
<line x1="492.20" y1="756.91" x2="498.20" y2="756.91" stroke="#4a8fd6" stroke-width="1.05"/>
<polyline points="259.50,658.41 273.50,652.11 287.60,657.23 301.70,676.93 315.30,674.17 328.80,679.30 342.80,673.39 356.70,671.02 370.60,675.36 384.30,724.21 412.30,730.52 426.60,720.27 440.00,723.82 453.60,721.45 467.50,743.91 481.30,747.85 495.20,752.97" fill="none" stroke="#4a8fd6" stroke-width="1.45" stroke-linejoin="round"/>
<circle cx="259.50" cy="658.41" r="2.0" fill="#4a8fd6" stroke="none" stroke-width="1"/>
<circle cx="273.50" cy="652.11" r="2.0" fill="#4a8fd6" stroke="none" stroke-width="1"/>
<circle cx="287.60" cy="657.23" r="2.0" fill="#4a8fd6" stroke="none" stroke-width="1"/>
<circle cx="301.70" cy="676.93" r="2.0" fill="#4a8fd6" stroke="none" stroke-width="1"/>
<circle cx="315.30" cy="674.17" r="2.0" fill="#4a8fd6" stroke="none" stroke-width="1"/>
<circle cx="328.80" cy="679.30" r="2.0" fill="#4a8fd6" stroke="none" stroke-width="1"/>
<circle cx="342.80" cy="673.39" r="2.0" fill="#4a8fd6" stroke="none" stroke-width="1"/>
<circle cx="356.70" cy="671.02" r="2.0" fill="#4a8fd6" stroke="none" stroke-width="1"/>
<circle cx="370.60" cy="675.36" r="2.0" fill="#4a8fd6" stroke="none" stroke-width="1"/>
<circle cx="384.30" cy="724.21" r="2.0" fill="#4a8fd6" stroke="none" stroke-width="1"/>
<circle cx="412.30" cy="730.52" r="2.0" fill="#4a8fd6" stroke="none" stroke-width="1"/>
<circle cx="426.60" cy="720.27" r="2.0" fill="#4a8fd6" stroke="none" stroke-width="1"/>
<circle cx="440.00" cy="723.82" r="2.0" fill="#4a8fd6" stroke="none" stroke-width="1"/>
<circle cx="453.60" cy="721.45" r="2.0" fill="#4a8fd6" stroke="none" stroke-width="1"/>
<circle cx="467.50" cy="743.91" r="2.0" fill="#4a8fd6" stroke="none" stroke-width="1"/>
<circle cx="481.30" cy="747.85" r="2.0" fill="#4a8fd6" stroke="none" stroke-width="1"/>
<circle cx="495.20" cy="752.97" r="2.0" fill="#4a8fd6" stroke="none" stroke-width="1"/>
<line x1="259.50" y1="639.90" x2="259.50" y2="663.54" stroke="#1f9a55" stroke-width="1.05"/>
<line x1="256.50" y1="639.90" x2="262.50" y2="639.90" stroke="#1f9a55" stroke-width="1.05"/>
<line x1="256.50" y1="663.54" x2="262.50" y2="663.54" stroke="#1f9a55" stroke-width="1.05"/>
<line x1="273.50" y1="640.29" x2="273.50" y2="663.93" stroke="#1f9a55" stroke-width="1.05"/>
<line x1="270.50" y1="640.29" x2="276.50" y2="640.29" stroke="#1f9a55" stroke-width="1.05"/>
<line x1="270.50" y1="663.93" x2="276.50" y2="663.93" stroke="#1f9a55" stroke-width="1.05"/>
<line x1="287.60" y1="647.38" x2="287.60" y2="667.08" stroke="#1f9a55" stroke-width="1.05"/>
<line x1="284.60" y1="647.38" x2="290.60" y2="647.38" stroke="#1f9a55" stroke-width="1.05"/>
<line x1="284.60" y1="667.08" x2="290.60" y2="667.08" stroke="#1f9a55" stroke-width="1.05"/>
<line x1="301.70" y1="659.20" x2="301.70" y2="676.54" stroke="#1f9a55" stroke-width="1.05"/>
<line x1="298.70" y1="659.20" x2="304.70" y2="659.20" stroke="#1f9a55" stroke-width="1.05"/>
<line x1="298.70" y1="676.54" x2="304.70" y2="676.54" stroke="#1f9a55" stroke-width="1.05"/>
<line x1="315.30" y1="659.20" x2="315.30" y2="676.54" stroke="#1f9a55" stroke-width="1.05"/>
<line x1="312.30" y1="659.20" x2="318.30" y2="659.20" stroke="#1f9a55" stroke-width="1.05"/>
<line x1="312.30" y1="676.54" x2="318.30" y2="676.54" stroke="#1f9a55" stroke-width="1.05"/>
<line x1="328.80" y1="664.72" x2="328.80" y2="680.48" stroke="#1f9a55" stroke-width="1.05"/>
<line x1="325.80" y1="664.72" x2="331.80" y2="664.72" stroke="#1f9a55" stroke-width="1.05"/>
<line x1="325.80" y1="680.48" x2="331.80" y2="680.48" stroke="#1f9a55" stroke-width="1.05"/>
<line x1="342.80" y1="657.23" x2="342.80" y2="672.99" stroke="#1f9a55" stroke-width="1.05"/>
<line x1="339.80" y1="657.23" x2="345.80" y2="657.23" stroke="#1f9a55" stroke-width="1.05"/>
<line x1="339.80" y1="672.99" x2="345.80" y2="672.99" stroke="#1f9a55" stroke-width="1.05"/>
<line x1="356.70" y1="659.20" x2="356.70" y2="674.96" stroke="#1f9a55" stroke-width="1.05"/>
<line x1="353.70" y1="659.20" x2="359.70" y2="659.20" stroke="#1f9a55" stroke-width="1.05"/>
<line x1="353.70" y1="674.96" x2="359.70" y2="674.96" stroke="#1f9a55" stroke-width="1.05"/>
<line x1="370.60" y1="661.17" x2="370.60" y2="676.93" stroke="#1f9a55" stroke-width="1.05"/>
<line x1="367.60" y1="661.17" x2="373.60" y2="661.17" stroke="#1f9a55" stroke-width="1.05"/>
<line x1="367.60" y1="676.93" x2="373.60" y2="676.93" stroke="#1f9a55" stroke-width="1.05"/>
<line x1="384.30" y1="719.88" x2="384.30" y2="729.33" stroke="#1f9a55" stroke-width="1.05"/>
<line x1="381.30" y1="719.88" x2="387.30" y2="719.88" stroke="#1f9a55" stroke-width="1.05"/>
<line x1="381.30" y1="729.33" x2="387.30" y2="729.33" stroke="#1f9a55" stroke-width="1.05"/>
<line x1="412.30" y1="717.51" x2="412.30" y2="729.33" stroke="#1f9a55" stroke-width="1.05"/>
<line x1="409.30" y1="717.51" x2="415.30" y2="717.51" stroke="#1f9a55" stroke-width="1.05"/>
<line x1="409.30" y1="729.33" x2="415.30" y2="729.33" stroke="#1f9a55" stroke-width="1.05"/>
<line x1="426.60" y1="673.78" x2="426.60" y2="691.12" stroke="#1f9a55" stroke-width="1.05"/>
<line x1="423.60" y1="673.78" x2="429.60" y2="673.78" stroke="#1f9a55" stroke-width="1.05"/>
<line x1="423.60" y1="691.12" x2="429.60" y2="691.12" stroke="#1f9a55" stroke-width="1.05"/>
<line x1="440.00" y1="667.87" x2="440.00" y2="685.21" stroke="#1f9a55" stroke-width="1.05"/>
<line x1="437.00" y1="667.87" x2="443.00" y2="667.87" stroke="#1f9a55" stroke-width="1.05"/>
<line x1="437.00" y1="685.21" x2="443.00" y2="685.21" stroke="#1f9a55" stroke-width="1.05"/>
<line x1="453.60" y1="652.50" x2="453.60" y2="668.26" stroke="#1f9a55" stroke-width="1.05"/>
<line x1="450.60" y1="652.50" x2="456.60" y2="652.50" stroke="#1f9a55" stroke-width="1.05"/>
<line x1="450.60" y1="668.26" x2="456.60" y2="668.26" stroke="#1f9a55" stroke-width="1.05"/>
<line x1="467.50" y1="736.82" x2="467.50" y2="744.70" stroke="#1f9a55" stroke-width="1.05"/>
<line x1="464.50" y1="736.82" x2="470.50" y2="736.82" stroke="#1f9a55" stroke-width="1.05"/>
<line x1="464.50" y1="744.70" x2="470.50" y2="744.70" stroke="#1f9a55" stroke-width="1.05"/>
<line x1="481.30" y1="745.49" x2="481.30" y2="753.37" stroke="#1f9a55" stroke-width="1.05"/>
<line x1="478.30" y1="745.49" x2="484.30" y2="745.49" stroke="#1f9a55" stroke-width="1.05"/>
<line x1="478.30" y1="753.37" x2="484.30" y2="753.37" stroke="#1f9a55" stroke-width="1.05"/>
<line x1="495.20" y1="753.37" x2="495.20" y2="761.25" stroke="#1f9a55" stroke-width="1.05"/>
<line x1="492.20" y1="753.37" x2="498.20" y2="753.37" stroke="#1f9a55" stroke-width="1.05"/>
<line x1="492.20" y1="761.25" x2="498.20" y2="761.25" stroke="#1f9a55" stroke-width="1.05"/>
<polyline points="259.50,651.72 273.50,652.11 287.60,657.23 301.70,667.87 315.30,667.87 328.80,672.60 342.80,665.11 356.70,667.08 370.60,669.05 384.30,724.61 412.30,723.42 426.60,682.45 440.00,676.54 453.60,660.38 467.50,740.76 481.30,749.43 495.20,757.31" fill="none" stroke="#1f9a55" stroke-width="1.45" stroke-linejoin="round"/>
<circle cx="259.50" cy="651.72" r="2.0" fill="#1f9a55" stroke="none" stroke-width="1"/>
<circle cx="273.50" cy="652.11" r="2.0" fill="#1f9a55" stroke="none" stroke-width="1"/>
<circle cx="287.60" cy="657.23" r="2.0" fill="#1f9a55" stroke="none" stroke-width="1"/>
<circle cx="301.70" cy="667.87" r="2.0" fill="#1f9a55" stroke="none" stroke-width="1"/>
<circle cx="315.30" cy="667.87" r="2.0" fill="#1f9a55" stroke="none" stroke-width="1"/>
<circle cx="328.80" cy="672.60" r="2.0" fill="#1f9a55" stroke="none" stroke-width="1"/>
<circle cx="342.80" cy="665.11" r="2.0" fill="#1f9a55" stroke="none" stroke-width="1"/>
<circle cx="356.70" cy="667.08" r="2.0" fill="#1f9a55" stroke="none" stroke-width="1"/>
<circle cx="370.60" cy="669.05" r="2.0" fill="#1f9a55" stroke="none" stroke-width="1"/>
<circle cx="384.30" cy="724.61" r="2.0" fill="#1f9a55" stroke="none" stroke-width="1"/>
<circle cx="412.30" cy="723.42" r="2.0" fill="#1f9a55" stroke="none" stroke-width="1"/>
<circle cx="426.60" cy="682.45" r="2.0" fill="#1f9a55" stroke="none" stroke-width="1"/>
<circle cx="440.00" cy="676.54" r="2.0" fill="#1f9a55" stroke="none" stroke-width="1"/>
<circle cx="453.60" cy="660.38" r="2.0" fill="#1f9a55" stroke="none" stroke-width="1"/>
<circle cx="467.50" cy="740.76" r="2.0" fill="#1f9a55" stroke="none" stroke-width="1"/>
<circle cx="481.30" cy="749.43" r="2.0" fill="#1f9a55" stroke="none" stroke-width="1"/>
<circle cx="495.20" cy="757.31" r="2.0" fill="#1f9a55" stroke="none" stroke-width="1"/>
<line x1="259.50" y1="642.26" x2="259.50" y2="665.90" stroke="#e8333a" stroke-width="1.05"/>
<line x1="256.50" y1="642.26" x2="262.50" y2="642.26" stroke="#e8333a" stroke-width="1.05"/>
<line x1="256.50" y1="665.90" x2="262.50" y2="665.90" stroke="#e8333a" stroke-width="1.05"/>
<line x1="273.50" y1="640.29" x2="273.50" y2="663.93" stroke="#e8333a" stroke-width="1.05"/>
<line x1="270.50" y1="640.29" x2="276.50" y2="640.29" stroke="#e8333a" stroke-width="1.05"/>
<line x1="270.50" y1="663.93" x2="276.50" y2="663.93" stroke="#e8333a" stroke-width="1.05"/>
<line x1="287.60" y1="645.41" x2="287.60" y2="669.05" stroke="#e8333a" stroke-width="1.05"/>
<line x1="284.60" y1="645.41" x2="290.60" y2="645.41" stroke="#e8333a" stroke-width="1.05"/>
<line x1="284.60" y1="669.05" x2="290.60" y2="669.05" stroke="#e8333a" stroke-width="1.05"/>
<line x1="301.70" y1="660.38" x2="301.70" y2="682.45" stroke="#e8333a" stroke-width="1.05"/>
<line x1="298.70" y1="660.38" x2="304.70" y2="660.38" stroke="#e8333a" stroke-width="1.05"/>
<line x1="298.70" y1="682.45" x2="304.70" y2="682.45" stroke="#e8333a" stroke-width="1.05"/>
<line x1="315.30" y1="659.99" x2="315.30" y2="682.05" stroke="#e8333a" stroke-width="1.05"/>
<line x1="312.30" y1="659.99" x2="318.30" y2="659.99" stroke="#e8333a" stroke-width="1.05"/>
<line x1="312.30" y1="682.05" x2="318.30" y2="682.05" stroke="#e8333a" stroke-width="1.05"/>
<line x1="328.80" y1="665.51" x2="328.80" y2="687.57" stroke="#e8333a" stroke-width="1.05"/>
<line x1="325.80" y1="665.51" x2="331.80" y2="665.51" stroke="#e8333a" stroke-width="1.05"/>
<line x1="325.80" y1="687.57" x2="331.80" y2="687.57" stroke="#e8333a" stroke-width="1.05"/>
<line x1="342.80" y1="661.57" x2="342.80" y2="683.63" stroke="#e8333a" stroke-width="1.05"/>
<line x1="339.80" y1="661.57" x2="345.80" y2="661.57" stroke="#e8333a" stroke-width="1.05"/>
<line x1="339.80" y1="683.63" x2="345.80" y2="683.63" stroke="#e8333a" stroke-width="1.05"/>
<line x1="356.70" y1="659.60" x2="356.70" y2="681.66" stroke="#e8333a" stroke-width="1.05"/>
<line x1="353.70" y1="659.60" x2="359.70" y2="659.60" stroke="#e8333a" stroke-width="1.05"/>
<line x1="353.70" y1="681.66" x2="359.70" y2="681.66" stroke="#e8333a" stroke-width="1.05"/>
<line x1="370.60" y1="663.93" x2="370.60" y2="683.63" stroke="#e8333a" stroke-width="1.05"/>
<line x1="367.60" y1="663.93" x2="373.60" y2="663.93" stroke="#e8333a" stroke-width="1.05"/>
<line x1="367.60" y1="683.63" x2="373.60" y2="683.63" stroke="#e8333a" stroke-width="1.05"/>
<line x1="384.30" y1="720.67" x2="384.30" y2="730.12" stroke="#e8333a" stroke-width="1.05"/>
<line x1="381.30" y1="720.67" x2="387.30" y2="720.67" stroke="#e8333a" stroke-width="1.05"/>
<line x1="381.30" y1="730.12" x2="387.30" y2="730.12" stroke="#e8333a" stroke-width="1.05"/>
<line x1="412.30" y1="724.21" x2="412.30" y2="733.67" stroke="#e8333a" stroke-width="1.05"/>
<line x1="409.30" y1="724.21" x2="415.30" y2="724.21" stroke="#e8333a" stroke-width="1.05"/>
<line x1="409.30" y1="733.67" x2="415.30" y2="733.67" stroke="#e8333a" stroke-width="1.05"/>
<line x1="426.60" y1="682.84" x2="426.60" y2="694.66" stroke="#e8333a" stroke-width="1.05"/>
<line x1="423.60" y1="682.84" x2="429.60" y2="682.84" stroke="#e8333a" stroke-width="1.05"/>
<line x1="423.60" y1="694.66" x2="429.60" y2="694.66" stroke="#e8333a" stroke-width="1.05"/>
<line x1="440.00" y1="663.54" x2="440.00" y2="679.30" stroke="#e8333a" stroke-width="1.05"/>
<line x1="437.00" y1="663.54" x2="443.00" y2="663.54" stroke="#e8333a" stroke-width="1.05"/>
<line x1="437.00" y1="679.30" x2="443.00" y2="679.30" stroke="#e8333a" stroke-width="1.05"/>
<line x1="453.60" y1="647.38" x2="453.60" y2="663.14" stroke="#e8333a" stroke-width="1.05"/>
<line x1="450.60" y1="647.38" x2="456.60" y2="647.38" stroke="#e8333a" stroke-width="1.05"/>
<line x1="450.60" y1="663.14" x2="456.60" y2="663.14" stroke="#e8333a" stroke-width="1.05"/>
<line x1="467.50" y1="743.91" x2="467.50" y2="751.79" stroke="#e8333a" stroke-width="1.05"/>
<line x1="464.50" y1="743.91" x2="470.50" y2="743.91" stroke="#e8333a" stroke-width="1.05"/>
<line x1="464.50" y1="751.79" x2="470.50" y2="751.79" stroke="#e8333a" stroke-width="1.05"/>
<line x1="481.30" y1="748.64" x2="481.30" y2="756.52" stroke="#e8333a" stroke-width="1.05"/>
<line x1="478.30" y1="748.64" x2="484.30" y2="748.64" stroke="#e8333a" stroke-width="1.05"/>
<line x1="478.30" y1="756.52" x2="484.30" y2="756.52" stroke="#e8333a" stroke-width="1.05"/>
<line x1="495.20" y1="754.94" x2="495.20" y2="762.82" stroke="#e8333a" stroke-width="1.05"/>
<line x1="492.20" y1="754.94" x2="498.20" y2="754.94" stroke="#e8333a" stroke-width="1.05"/>
<line x1="492.20" y1="762.82" x2="498.20" y2="762.82" stroke="#e8333a" stroke-width="1.05"/>
<polyline points="259.50,654.08 273.50,652.11 287.60,657.23 301.70,671.42 315.30,671.02 328.80,676.54 342.80,672.60 356.70,670.63 370.60,673.78 384.30,725.39 412.30,728.94 426.60,688.75 440.00,671.42 453.60,655.26 467.50,747.85 481.30,752.58 495.20,758.88" fill="none" stroke="#e8333a" stroke-width="1.45" stroke-linejoin="round"/>
<circle cx="259.50" cy="654.08" r="2.0" fill="#e8333a" stroke="none" stroke-width="1"/>
<circle cx="273.50" cy="652.11" r="2.0" fill="#e8333a" stroke="none" stroke-width="1"/>
<circle cx="287.60" cy="657.23" r="2.0" fill="#e8333a" stroke="none" stroke-width="1"/>
<circle cx="301.70" cy="671.42" r="2.0" fill="#e8333a" stroke="none" stroke-width="1"/>
<circle cx="315.30" cy="671.02" r="2.0" fill="#e8333a" stroke="none" stroke-width="1"/>
<circle cx="328.80" cy="676.54" r="2.0" fill="#e8333a" stroke="none" stroke-width="1"/>
<circle cx="342.80" cy="672.60" r="2.0" fill="#e8333a" stroke="none" stroke-width="1"/>
<circle cx="356.70" cy="670.63" r="2.0" fill="#e8333a" stroke="none" stroke-width="1"/>
<circle cx="370.60" cy="673.78" r="2.0" fill="#e8333a" stroke="none" stroke-width="1"/>
<circle cx="384.30" cy="725.39" r="2.0" fill="#e8333a" stroke="none" stroke-width="1"/>
<circle cx="412.30" cy="728.94" r="2.0" fill="#e8333a" stroke="none" stroke-width="1"/>
<circle cx="426.60" cy="688.75" r="2.0" fill="#e8333a" stroke="none" stroke-width="1"/>
<circle cx="440.00" cy="671.42" r="2.0" fill="#e8333a" stroke="none" stroke-width="1"/>
<circle cx="453.60" cy="655.26" r="2.0" fill="#e8333a" stroke="none" stroke-width="1"/>
<circle cx="467.50" cy="747.85" r="2.0" fill="#e8333a" stroke="none" stroke-width="1"/>
<circle cx="481.30" cy="752.58" r="2.0" fill="#e8333a" stroke="none" stroke-width="1"/>
<circle cx="495.20" cy="758.88" r="2.0" fill="#e8333a" stroke="none" stroke-width="1"/>
<line x1="258.30" y1="626.50" x2="258.30" y2="764.40" stroke="#111" stroke-width="1.1"/>
<line x1="258.30" y1="764.40" x2="508.30" y2="764.40" stroke="#111" stroke-width="1.1"/>
<line x1="255.70" y1="744.70" x2="258.30" y2="744.70" stroke="#111" stroke-width="0.9"/>
<text x="253.60" y="747.80" font-size="8.7" text-anchor="end" fill="#222">10</text>
<line x1="255.70" y1="705.30" x2="258.30" y2="705.30" stroke="#111" stroke-width="0.9"/>
<text x="253.60" y="708.40" font-size="8.7" text-anchor="end" fill="#222">20</text>
<line x1="255.70" y1="665.90" x2="258.30" y2="665.90" stroke="#111" stroke-width="0.9"/>
<text x="253.60" y="669.00" font-size="8.7" text-anchor="end" fill="#222">30</text>
<line x1="255.70" y1="626.50" x2="258.30" y2="626.50" stroke="#111" stroke-width="0.9"/>
<text x="253.60" y="629.60" font-size="8.7" text-anchor="end" fill="#222">40</text>
<line x1="258.30" y1="764.40" x2="258.30" y2="767.00" stroke="#111" stroke-width="0.9"/>
<text x="254.00" y="776.90" font-size="8.8" text-anchor="middle" fill="#222">0</text>
<line x1="304.62" y1="764.40" x2="304.62" y2="767.00" stroke="#111" stroke-width="0.9"/>
<text x="304.62" y="776.90" font-size="8.8" text-anchor="middle" fill="#222">25</text>
<line x1="350.95" y1="764.40" x2="350.95" y2="767.00" stroke="#111" stroke-width="0.9"/>
<text x="350.95" y="776.90" font-size="8.8" text-anchor="middle" fill="#222">50</text>
<line x1="397.27" y1="764.40" x2="397.27" y2="767.00" stroke="#111" stroke-width="0.9"/>
<text x="397.27" y="776.90" font-size="8.8" text-anchor="middle" fill="#222">75</text>
<line x1="443.60" y1="764.40" x2="443.60" y2="767.00" stroke="#111" stroke-width="0.9"/>
<text x="443.60" y="776.90" font-size="8.8" text-anchor="middle" fill="#222">100</text>
<line x1="489.93" y1="764.40" x2="489.93" y2="767.00" stroke="#111" stroke-width="0.9"/>
<text x="489.93" y="776.90" font-size="8.8" text-anchor="middle" fill="#222">125</text>
<text x="378.00" y="786.10" font-size="8.4" text-anchor="middle" fill="#222">Time (minutes)</text>
<text x="239.20" y="700.20" font-size="8.0" text-anchor="middle" fill="#222" transform="rotate(-90 239.20 700.20)">OCR (pmol/min/confluency)</text>
<line x1="257.00" y1="800.90" x2="271.90" y2="800.90" stroke="#4a8fd6" stroke-width="1.0"/>
<circle cx="264.40" cy="800.90" r="1.6" fill="#4a8fd6" stroke="none" stroke-width="1"/>
<text x="275.40" y="803.80" font-size="8.3" text-anchor="start" fill="#222">Glc (UK5099)-Ctl</text>
<line x1="257.00" y1="811.90" x2="271.90" y2="811.90" stroke="#e8333a" stroke-width="1.0"/>
<circle cx="264.40" cy="811.90" r="1.6" fill="#e8333a" stroke="none" stroke-width="1"/>
<text x="275.40" y="814.80" font-size="8.3" text-anchor="start" fill="#222">Gln (BPTES)-Ctl</text>
<line x1="257.00" y1="823.30" x2="271.90" y2="823.30" stroke="#1f9a55" stroke-width="1.0"/>
<circle cx="264.40" cy="823.30" r="1.6" fill="#1f9a55" stroke="none" stroke-width="1"/>
<text x="275.40" y="826.20" font-size="8.3" text-anchor="start" fill="#222">FA (Etomoxir)-Ctl</text>
<line x1="375.50" y1="800.90" x2="387.80" y2="800.90" stroke="#4a8fd6" stroke-width="1.0" stroke-dasharray="1,1.6"/>
<polygon points="383.0,798.4 380.8,802.6 385.2,802.6" fill="#4a8fd6"/>
<text x="393.90" y="803.80" font-size="8.3" text-anchor="start" fill="#222">Glc (UK5099)-KU60019</text>
<line x1="375.50" y1="811.90" x2="387.80" y2="811.90" stroke="#e8333a" stroke-width="1.0" stroke-dasharray="1,1.6"/>
<polygon points="383.0,808.8 380.2,814.0 385.8,814.0" fill="#e8333a"/>
<text x="393.90" y="814.80" font-size="8.3" text-anchor="start" fill="#222">Gln (BPTES)-KU60019</text>
<line x1="375.50" y1="823.30" x2="387.80" y2="823.30" stroke="#1f9a55" stroke-width="1.0" stroke-dasharray="1,1.6"/>
<polygon points="383.0,820.8 380.8,825.0 385.2,825.0" fill="#1f9a55"/>
<text x="393.90" y="826.20" font-size="8.3" text-anchor="start" fill="#222">FA (Etomoxir)-KU60019</text>
<text x="515.10" y="616.10" font-size="15" text-anchor="start" fill="#000" font-weight="bold">J</text>
<text x="587.20" y="622.60" font-size="10.85" text-anchor="start" fill="#111" font-weight="bold">BPTES (GLSi)</text>
<line x1="560.60" y1="641.57" x2="560.60" y2="764.40" stroke="#111" stroke-width="1.1"/>
<line x1="560.60" y1="764.40" x2="680.90" y2="764.40" stroke="#111" stroke-width="1.1"/>
<line x1="556.60" y1="764.51" x2="560.60" y2="764.51" stroke="#111" stroke-width="1.0"/>
<text x="553.50" y="767.51" font-size="8.4" text-anchor="end" fill="#222">-50</text>
<line x1="556.60" y1="733.90" x2="560.60" y2="733.90" stroke="#111" stroke-width="1.0"/>
<text x="553.50" y="736.90" font-size="8.4" text-anchor="end" fill="#222">0</text>
<line x1="556.60" y1="703.29" x2="560.60" y2="703.29" stroke="#111" stroke-width="1.0"/>
<text x="553.50" y="706.29" font-size="8.4" text-anchor="end" fill="#222">50</text>
<line x1="556.60" y1="672.68" x2="560.60" y2="672.68" stroke="#111" stroke-width="1.0"/>
<text x="553.50" y="675.68" font-size="8.4" text-anchor="end" fill="#222">100</text>
<line x1="556.60" y1="642.07" x2="560.60" y2="642.07" stroke="#111" stroke-width="1.0"/>
<text x="553.50" y="645.07" font-size="8.4" text-anchor="end" fill="#222">150</text>
<line x1="589.40" y1="764.40" x2="589.40" y2="768.40" stroke="#111" stroke-width="1.0"/>
<line x1="654.20" y1="764.40" x2="654.20" y2="768.40" stroke="#111" stroke-width="1.0"/>
<line x1="562.00" y1="733.90" x2="680.90" y2="733.90" stroke="#333" stroke-width="0.8" stroke-dasharray="1,1.6"/>
<rect x="569.40" y="659.21" width="15.10" height="74.69" fill="#fff" stroke="none" stroke-width="1"/>
<path d="M569.40,733.90 L569.40,659.21 L584.50,659.21 L584.50,733.90" fill="none" stroke="#111" stroke-width="1.35"/>
<line x1="576.95" y1="650.64" x2="576.95" y2="665.95" stroke="#111" stroke-width="1.0"/>
<line x1="573.75" y1="650.64" x2="580.15" y2="650.64" stroke="#111" stroke-width="1.0"/>
<line x1="573.75" y1="665.95" x2="580.15" y2="665.95" stroke="#111" stroke-width="1.0"/>
<circle cx="570.50" cy="650.89" r="2.1" fill="#111" stroke="none" stroke-width="1"/>
<circle cx="580.50" cy="647.58" r="2.1" fill="#111" stroke="none" stroke-width="1"/>
<circle cx="584.00" cy="650.89" r="2.1" fill="#111" stroke="none" stroke-width="1"/>
<circle cx="577.00" cy="655.23" r="2.1" fill="#111" stroke="none" stroke-width="1"/>
<circle cx="570.50" cy="660.44" r="2.1" fill="#111" stroke="none" stroke-width="1"/>
<circle cx="584.00" cy="661.05" r="2.1" fill="#111" stroke="none" stroke-width="1"/>
<circle cx="577.00" cy="665.33" r="2.1" fill="#111" stroke="none" stroke-width="1"/>
<circle cx="577.00" cy="671.46" r="2.1" fill="#111" stroke="none" stroke-width="1"/>
<rect x="594.20" y="675.13" width="14.90" height="58.77" fill="#fff" stroke="none" stroke-width="1"/>
<path d="M594.20,733.90 L594.20,675.13 L609.10,675.13 L609.10,733.90" fill="none" stroke="#e8333a" stroke-width="1.35"/>
<line x1="601.65" y1="665.95" x2="601.65" y2="680.64" stroke="#e8333a" stroke-width="1.0"/>
<line x1="598.45" y1="665.95" x2="604.85" y2="665.95" stroke="#e8333a" stroke-width="1.0"/>
<line x1="598.45" y1="680.64" x2="604.85" y2="680.64" stroke="#e8333a" stroke-width="1.0"/>
<circle cx="601.80" cy="660.44" r="2.1" fill="#e8333a" stroke="none" stroke-width="1"/>
<circle cx="601.80" cy="668.39" r="2.1" fill="#e8333a" stroke="none" stroke-width="1"/>
<circle cx="595.00" cy="674.76" r="2.1" fill="#e8333a" stroke="none" stroke-width="1"/>
<circle cx="608.50" cy="675.74" r="2.1" fill="#e8333a" stroke="none" stroke-width="1"/>
<circle cx="601.80" cy="676.97" r="2.1" fill="#e8333a" stroke="none" stroke-width="1"/>
<circle cx="608.00" cy="680.64" r="2.1" fill="#e8333a" stroke="none" stroke-width="1"/>
<circle cx="596.00" cy="684.31" r="2.1" fill="#e8333a" stroke="none" stroke-width="1"/>
<rect x="635.10" y="720.19" width="15.00" height="13.71" fill="#fff" stroke="none" stroke-width="1"/>
<path d="M635.10,733.90 L635.10,720.19 L650.10,720.19 L650.10,733.90" fill="none" stroke="#111" stroke-width="1.35"/>
<line x1="642.60" y1="711.86" x2="642.60" y2="726.74" stroke="#111" stroke-width="1.0"/>
<line x1="639.40" y1="711.86" x2="645.80" y2="711.86" stroke="#111" stroke-width="1.0"/>
<line x1="639.40" y1="726.74" x2="645.80" y2="726.74" stroke="#111" stroke-width="1.0"/>
<circle cx="635.50" cy="710.94" r="2.1" fill="#111" stroke="none" stroke-width="1"/>
<circle cx="650.00" cy="708.98" r="2.1" fill="#111" stroke="none" stroke-width="1"/>
<circle cx="642.50" cy="715.53" r="2.1" fill="#111" stroke="none" stroke-width="1"/>
<circle cx="635.50" cy="721.04" r="2.1" fill="#111" stroke="none" stroke-width="1"/>
<circle cx="650.00" cy="723.92" r="2.1" fill="#111" stroke="none" stroke-width="1"/>
<circle cx="642.50" cy="723.49" r="2.1" fill="#111" stroke="none" stroke-width="1"/>
<circle cx="642.50" cy="731.57" r="2.1" fill="#111" stroke="none" stroke-width="1"/>
<circle cx="648.00" cy="716.76" r="2.1" fill="#111" stroke="none" stroke-width="1"/>
<path d="M659.50,733.90 L659.50,735.74 L674.50,735.74 L674.50,733.90" fill="none" stroke="#e8333a" stroke-width="1.35"/>
<line x1="667.00" y1="727.17" x2="667.00" y2="741.86" stroke="#e8333a" stroke-width="1.0"/>
<line x1="663.80" y1="727.17" x2="670.20" y2="727.17" stroke="#e8333a" stroke-width="1.0"/>
<line x1="663.80" y1="741.86" x2="670.20" y2="741.86" stroke="#e8333a" stroke-width="1.0"/>
<circle cx="666.90" cy="721.04" r="2.1" fill="#e8333a" stroke="none" stroke-width="1"/>
<circle cx="660.00" cy="735.12" r="2.1" fill="#e8333a" stroke="none" stroke-width="1"/>
<circle cx="674.00" cy="735.74" r="2.1" fill="#e8333a" stroke="none" stroke-width="1"/>
<circle cx="666.90" cy="729.00" r="2.1" fill="#e8333a" stroke="none" stroke-width="1"/>
<circle cx="666.90" cy="741.25" r="2.1" fill="#e8333a" stroke="none" stroke-width="1"/>
<circle cx="672.00" cy="741.86" r="2.1" fill="#e8333a" stroke="none" stroke-width="1"/>
<circle cx="660.00" cy="744.92" r="2.1" fill="#e8333a" stroke="none" stroke-width="1"/>
<line x1="577.40" y1="640.60" x2="604.20" y2="640.60" stroke="#222" stroke-width="0.8"/>
<line x1="577.40" y1="638.80" x2="577.40" y2="642.40" stroke="#222" stroke-width="0.8"/>
<line x1="604.20" y1="638.80" x2="604.20" y2="642.40" stroke="#222" stroke-width="0.8"/>
<text x="590.10" y="641.00" font-size="12.0" text-anchor="middle" fill="#222" font-weight="bold" letter-spacing="0.9">***</text>
<line x1="641.60" y1="693.20" x2="668.40" y2="693.20" stroke="#222" stroke-width="0.8"/>
<line x1="641.60" y1="691.40" x2="641.60" y2="695.00" stroke="#222" stroke-width="0.8"/>
<line x1="668.40" y1="691.40" x2="668.40" y2="695.00" stroke="#222" stroke-width="0.8"/>
<text x="655.60" y="692.20" font-size="12.0" text-anchor="middle" fill="#222" font-weight="bold" letter-spacing="0.9">***</text>
<circle cx="644.20" cy="639.30" r="1.8" fill="#111" stroke="none" stroke-width="1"/>
<text x="650.30" y="642.40" font-size="8.5" text-anchor="start" fill="#222">Control</text>
<circle cx="644.20" cy="651.50" r="1.8" fill="#e8333a" stroke="none" stroke-width="1"/>
<text x="650.30" y="654.30" font-size="8.5" text-anchor="start" fill="#222">KU60019</text>
<text x="589.60" y="778.20" font-size="8.7" text-anchor="middle" fill="#222">Maximal</text>
<text x="588.50" y="788.20" font-size="8.6" text-anchor="middle" fill="#222">Respiration</text>
<text x="653.20" y="778.20" font-size="8.7" text-anchor="middle" fill="#222">Spare Resp</text>
<text x="653.20" y="788.20" font-size="8.7" text-anchor="middle" fill="#222">Capacity</text>
<text x="529.90" y="706.20" font-size="8.9" text-anchor="middle" fill="#222" transform="rotate(-90 529.90 706.20)">OCR</text>
<text x="537.00" y="704.70" font-size="8.36" text-anchor="middle" fill="#222" transform="rotate(-90 537.00 704.70)">(Normalized to Basal OCR)</text>
<text x="2.40" y="10.70" font-size="15" text-anchor="start" fill="#000" font-weight="bold">A</text>
<text x="-0.30" y="616.00" font-size="15" text-anchor="start" fill="#000" font-weight="bold">H</text>
</svg></body></html>
